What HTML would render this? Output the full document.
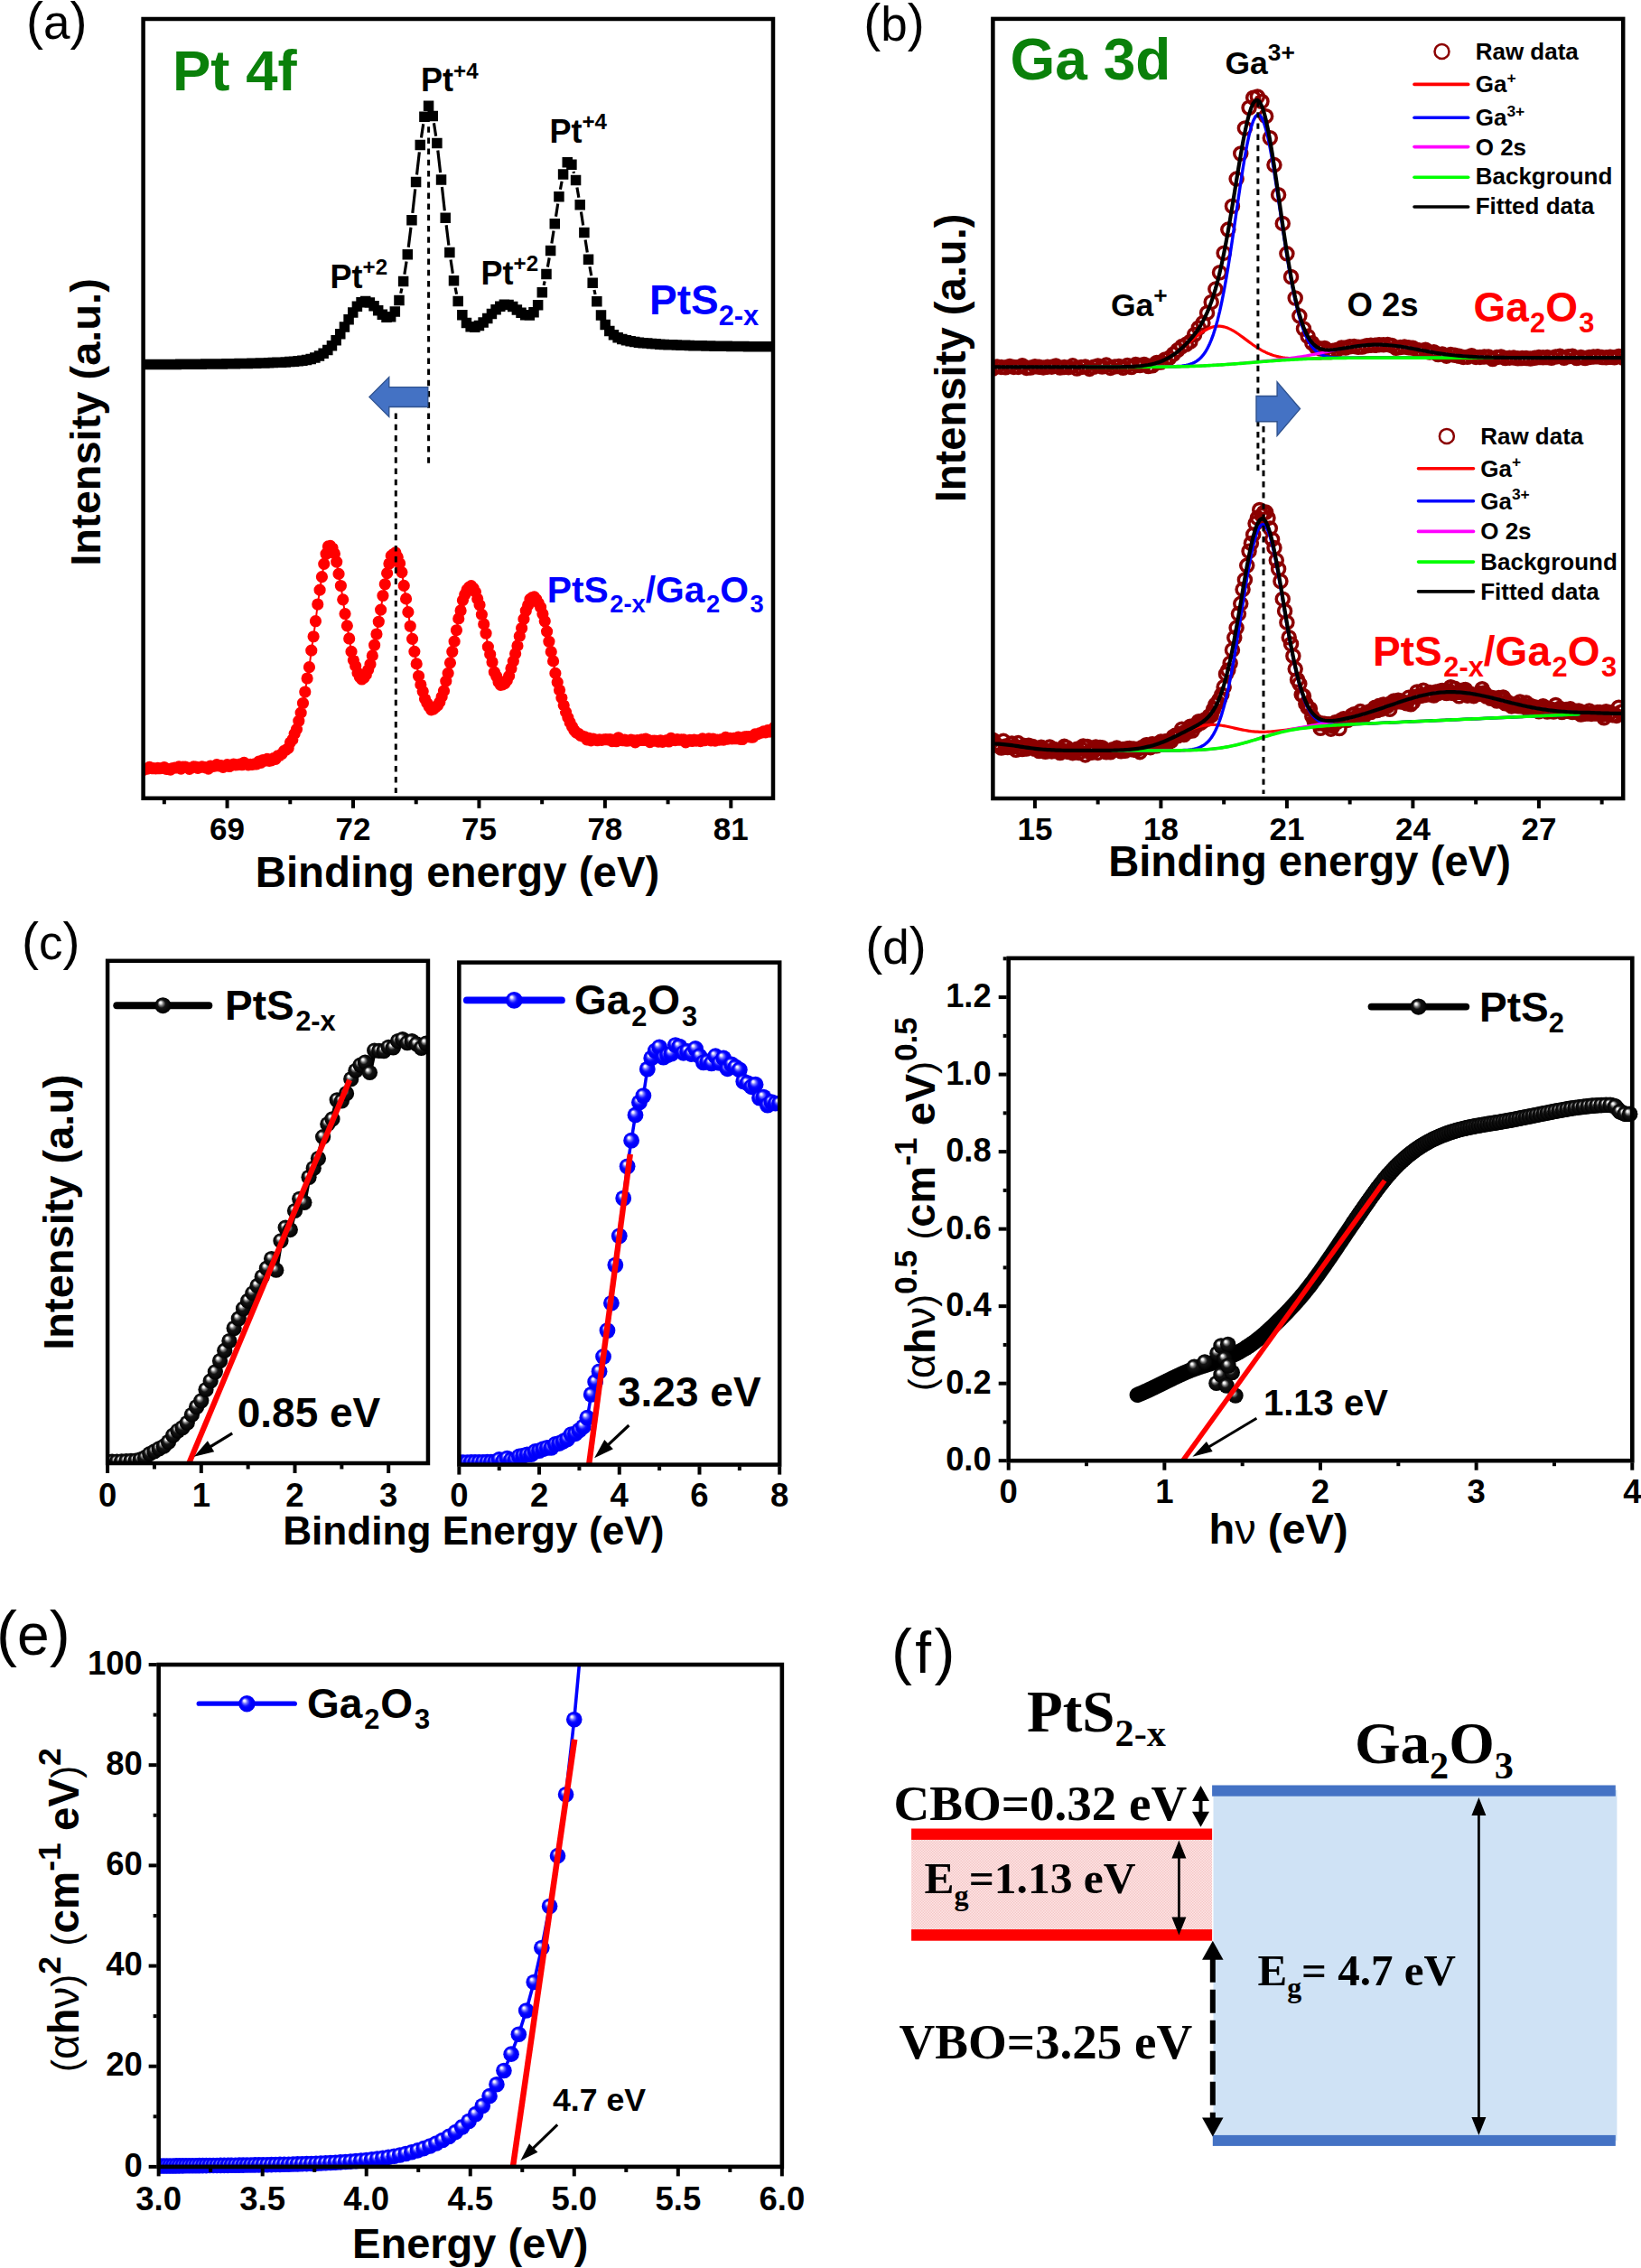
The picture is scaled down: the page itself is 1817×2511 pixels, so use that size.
<!DOCTYPE html>
<html lang="en"><head><meta charset="utf-8"><title>Figure</title>
<style>html,body{margin:0;padding:0;background:#fff;overflow:hidden}svg{display:block}</style></head>
<body>
<svg width="1817" height="2511" viewBox="0 0 1817 2511">
<defs><radialGradient id="sphK" cx="0.5" cy="0.5" r="0.5" fx="0.33" fy="0.30"><stop offset="0" stop-color="#fff"/><stop offset="0.13" stop-color="#f0f0f0"/><stop offset="0.3" stop-color="#7a7a7a"/><stop offset="0.5" stop-color="#141414"/><stop offset="1" stop-color="#000"/></radialGradient><radialGradient id="sphB" cx="0.5" cy="0.5" r="0.5" fx="0.33" fy="0.30"><stop offset="0" stop-color="#fff"/><stop offset="0.12" stop-color="#ececff"/><stop offset="0.3" stop-color="#7070ff"/><stop offset="0.5" stop-color="#1212ff"/><stop offset="0.65" stop-color="#0000ff"/><stop offset="1" stop-color="#0000f4"/></radialGradient><marker id="ah" viewBox="0 0 10 10" refX="9.5" refY="5" markerWidth="7" markerHeight="5" orient="auto" markerUnits="strokeWidth"><path d="M0 0L10 5L0 10z" fill="#000"/></marker></defs>
<g id="panel-a">
<clipPath id="clipA"><rect x="158.6" y="21.0" width="697.4" height="862.8"/></clipPath>
<g clip-path="url(#clipA)">
<path d="M443.71 324.75L444.89 319.41M447.86 303.7L450.06 289.58M452.26 273.73L454.97 251.77M456.82 235.88L459.73 209.35M461.5 193.45L464.35 168.34M466.44 152.48L468.73 137.28M480.45 136.29L482.66 150.65M484.8 166.51L487.63 191.07M489.42 206.97L492.32 233.37M494.16 249.26L496.89 271.68M499.04 287.53L501.33 302.78M504.11 318.53L505.57 325.71M602.1 315.98L603.17 311.31M606.38 295.64L608.21 285.35M610.86 269.57L613.05 255.54M615.51 239.73L617.71 225.55M620.42 209.78L622.11 200.78M634.98 189.89L635.49 191.81M638.92 207.43L640.87 218.79M643.42 234.58L645.69 249.61M648.11 265.42L650.3 279.44M652.95 295.22L654.78 305.34M657.96 321.02L659.08 325.98" stroke="#000" stroke-width="3.2" fill="none"/>
<path d="M152.14 397.87h11.5v11.5h-11.5zM156.8 397.84h11.5v11.5h-11.5zM161.46 397.82h11.5v11.5h-11.5zM166.12 397.8h11.5v11.5h-11.5zM170.77 397.77h11.5v11.5h-11.5zM175.43 397.74h11.5v11.5h-11.5zM180.09 397.71h11.5v11.5h-11.5zM184.74 397.68h11.5v11.5h-11.5zM189.4 397.65h11.5v11.5h-11.5zM194.06 397.61h11.5v11.5h-11.5zM198.71 397.58h11.5v11.5h-11.5zM203.37 397.54h11.5v11.5h-11.5zM208.03 397.5h11.5v11.5h-11.5zM212.69 397.45h11.5v11.5h-11.5zM217.34 397.41h11.5v11.5h-11.5zM222 397.36h11.5v11.5h-11.5zM226.66 397.31h11.5v11.5h-11.5zM231.31 397.25h11.5v11.5h-11.5zM235.97 397.19h11.5v11.5h-11.5zM240.63 397.13h11.5v11.5h-11.5zM245.28 397.06h11.5v11.5h-11.5zM249.94 396.99h11.5v11.5h-11.5zM254.6 396.91h11.5v11.5h-11.5zM259.26 396.83h11.5v11.5h-11.5zM263.91 396.73h11.5v11.5h-11.5zM268.57 396.63h11.5v11.5h-11.5zM273.23 396.52h11.5v11.5h-11.5zM277.88 396.41h11.5v11.5h-11.5zM282.54 396.28h11.5v11.5h-11.5zM287.2 396.13h11.5v11.5h-11.5zM291.85 395.98h11.5v11.5h-11.5zM296.51 395.8h11.5v11.5h-11.5zM301.17 395.61h11.5v11.5h-11.5zM305.83 395.39h11.5v11.5h-11.5zM310.48 395.14h11.5v11.5h-11.5zM315.14 394.85h11.5v11.5h-11.5zM319.8 394.5h11.5v11.5h-11.5zM324.45 394.06h11.5v11.5h-11.5zM329.11 393.51h11.5v11.5h-11.5zM333.77 392.76h11.5v11.5h-11.5zM338.42 391.73h11.5v11.5h-11.5zM343.08 390.29h11.5v11.5h-11.5zM347.74 388.29h11.5v11.5h-11.5zM352.4 385.53h11.5v11.5h-11.5zM357.05 381.83h11.5v11.5h-11.5zM361.71 377.05h11.5v11.5h-11.5zM366.37 371.11h11.5v11.5h-11.5zM371.02 364.09h11.5v11.5h-11.5zM375.68 356.25h11.5v11.5h-11.5zM380.34 348.03h11.5v11.5h-11.5zM384.99 340.15h11.5v11.5h-11.5zM389.65 333.51h11.5v11.5h-11.5zM394.31 329.11h11.5v11.5h-11.5zM398.97 327.65h11.5v11.5h-11.5zM403.62 329.19h11.5v11.5h-11.5zM408.28 333.01h11.5v11.5h-11.5zM412.94 337.92h11.5v11.5h-11.5zM417.59 342.54h11.5v11.5h-11.5zM422.25 345.42h11.5v11.5h-11.5zM426.91 344.94h11.5v11.5h-11.5zM431.56 339.34h11.5v11.5h-11.5zM436.22 326.81h11.5v11.5h-11.5zM440.88 305.85h11.5v11.5h-11.5zM445.54 275.92h11.5v11.5h-11.5zM450.19 238.08h11.5v11.5h-11.5zM454.85 195.65h11.5v11.5h-11.5zM459.51 154.64h11.5v11.5h-11.5zM464.16 123.62h11.5v11.5h-11.5zM468.82 111.57h11.5v11.5h-11.5zM473.48 122.64h11.5v11.5h-11.5zM478.13 152.81h11.5v11.5h-11.5zM482.79 193.26h11.5v11.5h-11.5zM487.45 235.57h11.5v11.5h-11.5zM492.11 273.87h11.5v11.5h-11.5zM496.76 304.94h11.5v11.5h-11.5zM501.42 327.8h11.5v11.5h-11.5zM506.08 342.98h11.5v11.5h-11.5zM510.73 351.84h11.5v11.5h-11.5zM515.39 355.91h11.5v11.5h-11.5zM520.05 356.53h11.5v11.5h-11.5zM524.7 354.71h11.5v11.5h-11.5zM529.36 351.24h11.5v11.5h-11.5zM534.02 346.72h11.5v11.5h-11.5zM538.68 341.78h11.5v11.5h-11.5zM543.33 337.09h11.5v11.5h-11.5zM547.99 333.42h11.5v11.5h-11.5zM552.65 331.5h11.5v11.5h-11.5zM557.3 331.71h11.5v11.5h-11.5zM561.96 333.83h11.5v11.5h-11.5zM566.62 337.13h11.5v11.5h-11.5zM571.27 340.58h11.5v11.5h-11.5zM575.93 343.04h11.5v11.5h-11.5zM580.59 343.29h11.5v11.5h-11.5zM585.25 340.02h11.5v11.5h-11.5zM589.9 331.95h11.5v11.5h-11.5zM594.56 318.02h11.5v11.5h-11.5zM599.22 297.76h11.5v11.5h-11.5zM603.87 271.73h11.5v11.5h-11.5zM608.53 241.88h11.5v11.5h-11.5zM613.19 211.89h11.5v11.5h-11.5zM617.84 187.16h11.5v11.5h-11.5zM622.5 173.93h11.5v11.5h-11.5zM627.16 176.41h11.5v11.5h-11.5zM631.82 193.79h11.5v11.5h-11.5zM636.47 220.92h11.5v11.5h-11.5zM641.13 251.77h11.5v11.5h-11.5zM645.79 281.6h11.5v11.5h-11.5zM650.44 307.47h11.5v11.5h-11.5zM655.1 328.03h11.5v11.5h-11.5zM659.76 343.2h11.5v11.5h-11.5zM664.41 353.72h11.5v11.5h-11.5zM669.07 360.65h11.5v11.5h-11.5zM673.73 365.08h11.5v11.5h-11.5zM678.39 367.91h11.5v11.5h-11.5zM683.04 369.77h11.5v11.5h-11.5zM687.7 371.06h11.5v11.5h-11.5zM692.36 372.02h11.5v11.5h-11.5zM697.01 372.77h11.5v11.5h-11.5zM701.67 373.38h11.5v11.5h-11.5zM706.33 373.91h11.5v11.5h-11.5zM710.98 374.35h11.5v11.5h-11.5zM715.64 374.74h11.5v11.5h-11.5zM720.3 375.08h11.5v11.5h-11.5zM724.96 375.38h11.5v11.5h-11.5zM729.61 375.65h11.5v11.5h-11.5zM734.27 375.88h11.5v11.5h-11.5zM738.93 376.1h11.5v11.5h-11.5zM743.58 376.29h11.5v11.5h-11.5zM748.24 376.46h11.5v11.5h-11.5zM752.9 376.61h11.5v11.5h-11.5zM757.55 376.75h11.5v11.5h-11.5zM762.21 376.88h11.5v11.5h-11.5zM766.87 377h11.5v11.5h-11.5zM771.53 377.11h11.5v11.5h-11.5zM776.18 377.21h11.5v11.5h-11.5zM780.84 377.3h11.5v11.5h-11.5zM785.5 377.38h11.5v11.5h-11.5zM790.15 377.46h11.5v11.5h-11.5zM794.81 377.53h11.5v11.5h-11.5zM799.47 377.6h11.5v11.5h-11.5zM804.12 377.66h11.5v11.5h-11.5zM808.78 377.72h11.5v11.5h-11.5zM813.44 377.78h11.5v11.5h-11.5zM818.1 377.83h11.5v11.5h-11.5zM822.75 377.88h11.5v11.5h-11.5zM827.41 377.92h11.5v11.5h-11.5zM832.07 377.97h11.5v11.5h-11.5zM836.72 378.01h11.5v11.5h-11.5zM841.38 378.05h11.5v11.5h-11.5zM846.04 378.08h11.5v11.5h-11.5zM850.69 378.12h11.5v11.5h-11.5z" fill="#000"/>
<polyline points="158.5,852.69 160.83,851.44 163.16,851.1 165.49,849.3 167.81,850.69 170.14,850.59 172.47,850.79 174.8,850.26 177.13,850.75 179.46,850.31 181.78,849.52 184.11,851.45 186.44,851.4 188.77,852.09 191.1,850.55 193.43,850.09 195.76,849.91 198.08,848.95 200.41,851.17 202.74,849.23 205.07,849.09 207.4,849.91 209.73,851.36 212.06,850.17 214.38,848.96 216.71,849.16 219.04,850.28 221.37,849.49 223.7,848.86 226.03,849.25 228.35,850.03 230.68,851.04 233.01,848.03 235.34,848.48 237.67,848.2 240,846.63 242.33,847.85 244.65,847.62 246.98,849.41 249.31,848.13 251.64,846.63 253.97,848.51 256.3,847.43 258.63,846 260.95,846.84 263.28,846.64 265.61,846.16 267.94,846.74 270.27,844.44 272.6,845.95 274.92,846.82 277.25,846.37 279.58,846.28 281.91,845.94 284.24,845.89 286.57,843.13 288.9,844.45 291.22,841.53 293.55,842.12 295.88,840.35 298.21,842.34 300.54,841.84 302.87,839.58 305.2,840.34 307.52,836.93 309.85,836.23 312.18,834.5 314.51,831.3 316.84,830.09 319.17,828.3 321.49,821.81 323.82,818.9 326.15,812.34 328.48,807.37 330.81,798.29 333.14,789.2 335.47,778.5 337.79,766.04 340.12,751.02 342.45,738.67 344.78,720.18 347.11,704.75 349.44,687.71 351.77,669.03 354.09,653.14 356.42,638.64 358.75,624.32 361.08,613.29 363.41,604.95 365.74,604.4 368.06,606.77 370.39,612.92 372.72,622.06 375.05,635.43 377.38,648.52 379.71,663.81 382.04,679.58 384.36,692.81 386.69,706.96 389.02,721.43 391.35,730.82 393.68,737.43 396.01,744.92 398.34,749.62 400.66,752 402.99,750.44 405.32,746.92 407.65,741.57 409.98,735.51 412.31,725.95 414.63,714.2 416.96,702.04 419.29,688.29 421.62,675.11 423.95,659.51 426.28,646.8 428.61,634.65 430.93,623.98 433.26,615.38 435.59,613.53 437.92,611.87 440.25,617.01 442.58,623.73 444.91,633.61 447.23,648.39 449.56,662.88 451.89,677.7 454.22,693.27 456.55,707.31 458.88,721.33 461.2,734.89 463.53,748.54 465.86,757.91 468.19,765.54 470.52,773.75 472.85,778.42 475.18,782.38 477.5,785.84 479.83,785.18 482.16,783.05 484.49,780.97 486.82,777.44 489.15,771.45 491.48,764.9 493.8,754.18 496.13,745.3 498.46,733.85 500.79,721.47 503.12,710.16 505.45,697.73 507.77,684.89 510.1,675.96 512.43,664.62 514.76,658.28 517.09,652.85 519.42,650.2 521.75,648.62 524.07,651.19 526.4,655.45 528.73,663 531.06,669.76 533.39,680.37 535.72,690.88 538.05,701.24 540.37,716.1 542.7,724.42 545.03,732.99 547.36,744.11 549.69,748.75 552.02,755.02 554.34,758.39 556.67,757.83 559,756.69 561.33,753.21 563.66,748.31 565.99,740.04 568.32,732.09 570.64,723.77 572.97,714.91 575.3,704.42 577.63,695.53 579.96,685.42 582.29,676.25 584.62,670 586.94,663.47 589.27,661.63 591.6,660.93 593.93,663.65 596.26,667.68 598.59,672.28 600.91,679.71 603.24,687.77 605.57,699.1 607.9,710.26 610.23,721.68 612.56,731.88 614.89,745.44 617.21,755.3 619.54,764 621.87,772.62 624.2,780.87 626.53,788.37 628.86,794.32 631.19,799.93 633.51,804.47 635.84,808.52 638.17,811.14 640.5,812.23 642.83,814.42 645.16,815.05 647.48,815.87 649.81,818.87 652.14,817.28 654.47,819.89 656.8,818.07 659.13,818.82 661.46,819.72 663.78,818.87 666.11,819.28 668.44,818.77 670.77,818.6 673.1,818.92 675.43,818.51 677.76,820.59 680.08,819 682.41,820.72 684.74,816.77 687.07,819.23 689.4,819.73 691.73,818.98 694.05,820.25 696.38,819.85 698.71,819.05 701.04,819.7 703.37,821.85 705.7,819.56 708.03,819.62 710.35,818.96 712.68,819.49 715.01,818.22 717.34,819.21 719.67,821.61 722,820.37 724.33,819.99 726.65,820.42 728.98,821.12 731.31,819.97 733.64,821.3 735.97,820.4 738.3,819.59 740.62,820.98 742.95,817.31 745.28,818.92 747.61,819.66 749.94,818.6 752.27,819.27 754.6,818.82 756.92,818.79 759.25,821.81 761.58,819.91 763.91,819.28 766.24,820.48 768.57,819.06 770.9,820.04 773.22,819.52 775.55,820.63 777.88,817.84 780.21,819.76 782.54,819.12 784.87,817.91 787.19,819.84 789.52,818.02 791.85,820.17 794.18,819.08 796.51,819.14 798.84,818.48 801.17,819.09 803.49,816.46 805.82,818.05 808.15,817.25 810.48,817.89 812.81,817.39 815.14,817.76 817.47,816.21 819.79,818.35 822.12,818.48 824.45,815.89 826.78,815.71 829.11,815.59 831.44,816.05 833.76,816.15 836.09,812.85 838.42,812.82 840.75,811.8 843.08,811.08 845.41,809.87 847.74,810.87 850.06,808.62 852.39,810.05 854.72,808.45 857.05,805.55" fill="none" stroke="#ff0000" stroke-width="2" stroke-linejoin="round" stroke-linecap="round" />
<path d="M151.9 852.69a6.6 6.6 0 1 0 13.2 0a6.6 6.6 0 1 0 -13.2 0zM154.23 851.44a6.6 6.6 0 1 0 13.2 0a6.6 6.6 0 1 0 -13.2 0zM156.56 851.1a6.6 6.6 0 1 0 13.2 0a6.6 6.6 0 1 0 -13.2 0zM158.89 849.3a6.6 6.6 0 1 0 13.2 0a6.6 6.6 0 1 0 -13.2 0zM161.21 850.69a6.6 6.6 0 1 0 13.2 0a6.6 6.6 0 1 0 -13.2 0zM163.54 850.59a6.6 6.6 0 1 0 13.2 0a6.6 6.6 0 1 0 -13.2 0zM165.87 850.79a6.6 6.6 0 1 0 13.2 0a6.6 6.6 0 1 0 -13.2 0zM168.2 850.26a6.6 6.6 0 1 0 13.2 0a6.6 6.6 0 1 0 -13.2 0zM170.53 850.75a6.6 6.6 0 1 0 13.2 0a6.6 6.6 0 1 0 -13.2 0zM172.86 850.31a6.6 6.6 0 1 0 13.2 0a6.6 6.6 0 1 0 -13.2 0zM175.18 849.52a6.6 6.6 0 1 0 13.2 0a6.6 6.6 0 1 0 -13.2 0zM177.51 851.45a6.6 6.6 0 1 0 13.2 0a6.6 6.6 0 1 0 -13.2 0zM179.84 851.4a6.6 6.6 0 1 0 13.2 0a6.6 6.6 0 1 0 -13.2 0zM182.17 852.09a6.6 6.6 0 1 0 13.2 0a6.6 6.6 0 1 0 -13.2 0zM184.5 850.55a6.6 6.6 0 1 0 13.2 0a6.6 6.6 0 1 0 -13.2 0zM186.83 850.09a6.6 6.6 0 1 0 13.2 0a6.6 6.6 0 1 0 -13.2 0zM189.16 849.91a6.6 6.6 0 1 0 13.2 0a6.6 6.6 0 1 0 -13.2 0zM191.48 848.95a6.6 6.6 0 1 0 13.2 0a6.6 6.6 0 1 0 -13.2 0zM193.81 851.17a6.6 6.6 0 1 0 13.2 0a6.6 6.6 0 1 0 -13.2 0zM196.14 849.23a6.6 6.6 0 1 0 13.2 0a6.6 6.6 0 1 0 -13.2 0zM198.47 849.09a6.6 6.6 0 1 0 13.2 0a6.6 6.6 0 1 0 -13.2 0zM200.8 849.91a6.6 6.6 0 1 0 13.2 0a6.6 6.6 0 1 0 -13.2 0zM203.13 851.36a6.6 6.6 0 1 0 13.2 0a6.6 6.6 0 1 0 -13.2 0zM205.46 850.17a6.6 6.6 0 1 0 13.2 0a6.6 6.6 0 1 0 -13.2 0zM207.78 848.96a6.6 6.6 0 1 0 13.2 0a6.6 6.6 0 1 0 -13.2 0zM210.11 849.16a6.6 6.6 0 1 0 13.2 0a6.6 6.6 0 1 0 -13.2 0zM212.44 850.28a6.6 6.6 0 1 0 13.2 0a6.6 6.6 0 1 0 -13.2 0zM214.77 849.49a6.6 6.6 0 1 0 13.2 0a6.6 6.6 0 1 0 -13.2 0zM217.1 848.86a6.6 6.6 0 1 0 13.2 0a6.6 6.6 0 1 0 -13.2 0zM219.43 849.25a6.6 6.6 0 1 0 13.2 0a6.6 6.6 0 1 0 -13.2 0zM221.75 850.03a6.6 6.6 0 1 0 13.2 0a6.6 6.6 0 1 0 -13.2 0zM224.08 851.04a6.6 6.6 0 1 0 13.2 0a6.6 6.6 0 1 0 -13.2 0zM226.41 848.03a6.6 6.6 0 1 0 13.2 0a6.6 6.6 0 1 0 -13.2 0zM228.74 848.48a6.6 6.6 0 1 0 13.2 0a6.6 6.6 0 1 0 -13.2 0zM231.07 848.2a6.6 6.6 0 1 0 13.2 0a6.6 6.6 0 1 0 -13.2 0zM233.4 846.63a6.6 6.6 0 1 0 13.2 0a6.6 6.6 0 1 0 -13.2 0zM235.73 847.85a6.6 6.6 0 1 0 13.2 0a6.6 6.6 0 1 0 -13.2 0zM238.05 847.62a6.6 6.6 0 1 0 13.2 0a6.6 6.6 0 1 0 -13.2 0zM240.38 849.41a6.6 6.6 0 1 0 13.2 0a6.6 6.6 0 1 0 -13.2 0zM242.71 848.13a6.6 6.6 0 1 0 13.2 0a6.6 6.6 0 1 0 -13.2 0zM245.04 846.63a6.6 6.6 0 1 0 13.2 0a6.6 6.6 0 1 0 -13.2 0zM247.37 848.51a6.6 6.6 0 1 0 13.2 0a6.6 6.6 0 1 0 -13.2 0zM249.7 847.43a6.6 6.6 0 1 0 13.2 0a6.6 6.6 0 1 0 -13.2 0zM252.03 846a6.6 6.6 0 1 0 13.2 0a6.6 6.6 0 1 0 -13.2 0zM254.35 846.84a6.6 6.6 0 1 0 13.2 0a6.6 6.6 0 1 0 -13.2 0zM256.68 846.64a6.6 6.6 0 1 0 13.2 0a6.6 6.6 0 1 0 -13.2 0zM259.01 846.16a6.6 6.6 0 1 0 13.2 0a6.6 6.6 0 1 0 -13.2 0zM261.34 846.74a6.6 6.6 0 1 0 13.2 0a6.6 6.6 0 1 0 -13.2 0zM263.67 844.44a6.6 6.6 0 1 0 13.2 0a6.6 6.6 0 1 0 -13.2 0zM266 845.95a6.6 6.6 0 1 0 13.2 0a6.6 6.6 0 1 0 -13.2 0zM268.32 846.82a6.6 6.6 0 1 0 13.2 0a6.6 6.6 0 1 0 -13.2 0zM270.65 846.37a6.6 6.6 0 1 0 13.2 0a6.6 6.6 0 1 0 -13.2 0zM272.98 846.28a6.6 6.6 0 1 0 13.2 0a6.6 6.6 0 1 0 -13.2 0zM275.31 845.94a6.6 6.6 0 1 0 13.2 0a6.6 6.6 0 1 0 -13.2 0zM277.64 845.89a6.6 6.6 0 1 0 13.2 0a6.6 6.6 0 1 0 -13.2 0zM279.97 843.13a6.6 6.6 0 1 0 13.2 0a6.6 6.6 0 1 0 -13.2 0zM282.3 844.45a6.6 6.6 0 1 0 13.2 0a6.6 6.6 0 1 0 -13.2 0zM284.62 841.53a6.6 6.6 0 1 0 13.2 0a6.6 6.6 0 1 0 -13.2 0zM286.95 842.12a6.6 6.6 0 1 0 13.2 0a6.6 6.6 0 1 0 -13.2 0zM289.28 840.35a6.6 6.6 0 1 0 13.2 0a6.6 6.6 0 1 0 -13.2 0zM291.61 842.34a6.6 6.6 0 1 0 13.2 0a6.6 6.6 0 1 0 -13.2 0zM293.94 841.84a6.6 6.6 0 1 0 13.2 0a6.6 6.6 0 1 0 -13.2 0zM296.27 839.58a6.6 6.6 0 1 0 13.2 0a6.6 6.6 0 1 0 -13.2 0zM298.6 840.34a6.6 6.6 0 1 0 13.2 0a6.6 6.6 0 1 0 -13.2 0zM300.92 836.93a6.6 6.6 0 1 0 13.2 0a6.6 6.6 0 1 0 -13.2 0zM303.25 836.23a6.6 6.6 0 1 0 13.2 0a6.6 6.6 0 1 0 -13.2 0zM305.58 834.5a6.6 6.6 0 1 0 13.2 0a6.6 6.6 0 1 0 -13.2 0zM307.91 831.3a6.6 6.6 0 1 0 13.2 0a6.6 6.6 0 1 0 -13.2 0zM310.24 830.09a6.6 6.6 0 1 0 13.2 0a6.6 6.6 0 1 0 -13.2 0zM312.57 828.3a6.6 6.6 0 1 0 13.2 0a6.6 6.6 0 1 0 -13.2 0zM314.89 821.81a6.6 6.6 0 1 0 13.2 0a6.6 6.6 0 1 0 -13.2 0zM317.22 818.9a6.6 6.6 0 1 0 13.2 0a6.6 6.6 0 1 0 -13.2 0zM319.55 812.34a6.6 6.6 0 1 0 13.2 0a6.6 6.6 0 1 0 -13.2 0zM321.88 807.37a6.6 6.6 0 1 0 13.2 0a6.6 6.6 0 1 0 -13.2 0zM324.21 798.29a6.6 6.6 0 1 0 13.2 0a6.6 6.6 0 1 0 -13.2 0zM326.54 789.2a6.6 6.6 0 1 0 13.2 0a6.6 6.6 0 1 0 -13.2 0zM328.87 778.5a6.6 6.6 0 1 0 13.2 0a6.6 6.6 0 1 0 -13.2 0zM331.19 766.04a6.6 6.6 0 1 0 13.2 0a6.6 6.6 0 1 0 -13.2 0zM333.52 751.02a6.6 6.6 0 1 0 13.2 0a6.6 6.6 0 1 0 -13.2 0zM335.85 738.67a6.6 6.6 0 1 0 13.2 0a6.6 6.6 0 1 0 -13.2 0zM338.18 720.18a6.6 6.6 0 1 0 13.2 0a6.6 6.6 0 1 0 -13.2 0zM340.51 704.75a6.6 6.6 0 1 0 13.2 0a6.6 6.6 0 1 0 -13.2 0zM342.84 687.71a6.6 6.6 0 1 0 13.2 0a6.6 6.6 0 1 0 -13.2 0zM345.17 669.03a6.6 6.6 0 1 0 13.2 0a6.6 6.6 0 1 0 -13.2 0zM347.49 653.14a6.6 6.6 0 1 0 13.2 0a6.6 6.6 0 1 0 -13.2 0zM349.82 638.64a6.6 6.6 0 1 0 13.2 0a6.6 6.6 0 1 0 -13.2 0zM352.15 624.32a6.6 6.6 0 1 0 13.2 0a6.6 6.6 0 1 0 -13.2 0zM354.48 613.29a6.6 6.6 0 1 0 13.2 0a6.6 6.6 0 1 0 -13.2 0zM356.81 604.95a6.6 6.6 0 1 0 13.2 0a6.6 6.6 0 1 0 -13.2 0zM359.14 604.4a6.6 6.6 0 1 0 13.2 0a6.6 6.6 0 1 0 -13.2 0zM361.46 606.77a6.6 6.6 0 1 0 13.2 0a6.6 6.6 0 1 0 -13.2 0zM363.79 612.92a6.6 6.6 0 1 0 13.2 0a6.6 6.6 0 1 0 -13.2 0zM366.12 622.06a6.6 6.6 0 1 0 13.2 0a6.6 6.6 0 1 0 -13.2 0zM368.45 635.43a6.6 6.6 0 1 0 13.2 0a6.6 6.6 0 1 0 -13.2 0zM370.78 648.52a6.6 6.6 0 1 0 13.2 0a6.6 6.6 0 1 0 -13.2 0zM373.11 663.81a6.6 6.6 0 1 0 13.2 0a6.6 6.6 0 1 0 -13.2 0zM375.44 679.58a6.6 6.6 0 1 0 13.2 0a6.6 6.6 0 1 0 -13.2 0zM377.76 692.81a6.6 6.6 0 1 0 13.2 0a6.6 6.6 0 1 0 -13.2 0zM380.09 706.96a6.6 6.6 0 1 0 13.2 0a6.6 6.6 0 1 0 -13.2 0zM382.42 721.43a6.6 6.6 0 1 0 13.2 0a6.6 6.6 0 1 0 -13.2 0zM384.75 730.82a6.6 6.6 0 1 0 13.2 0a6.6 6.6 0 1 0 -13.2 0zM387.08 737.43a6.6 6.6 0 1 0 13.2 0a6.6 6.6 0 1 0 -13.2 0zM389.41 744.92a6.6 6.6 0 1 0 13.2 0a6.6 6.6 0 1 0 -13.2 0zM391.74 749.62a6.6 6.6 0 1 0 13.2 0a6.6 6.6 0 1 0 -13.2 0zM394.06 752a6.6 6.6 0 1 0 13.2 0a6.6 6.6 0 1 0 -13.2 0zM396.39 750.44a6.6 6.6 0 1 0 13.2 0a6.6 6.6 0 1 0 -13.2 0zM398.72 746.92a6.6 6.6 0 1 0 13.2 0a6.6 6.6 0 1 0 -13.2 0zM401.05 741.57a6.6 6.6 0 1 0 13.2 0a6.6 6.6 0 1 0 -13.2 0zM403.38 735.51a6.6 6.6 0 1 0 13.2 0a6.6 6.6 0 1 0 -13.2 0zM405.71 725.95a6.6 6.6 0 1 0 13.2 0a6.6 6.6 0 1 0 -13.2 0zM408.03 714.2a6.6 6.6 0 1 0 13.2 0a6.6 6.6 0 1 0 -13.2 0zM410.36 702.04a6.6 6.6 0 1 0 13.2 0a6.6 6.6 0 1 0 -13.2 0zM412.69 688.29a6.6 6.6 0 1 0 13.2 0a6.6 6.6 0 1 0 -13.2 0zM415.02 675.11a6.6 6.6 0 1 0 13.2 0a6.6 6.6 0 1 0 -13.2 0zM417.35 659.51a6.6 6.6 0 1 0 13.2 0a6.6 6.6 0 1 0 -13.2 0zM419.68 646.8a6.6 6.6 0 1 0 13.2 0a6.6 6.6 0 1 0 -13.2 0zM422.01 634.65a6.6 6.6 0 1 0 13.2 0a6.6 6.6 0 1 0 -13.2 0zM424.33 623.98a6.6 6.6 0 1 0 13.2 0a6.6 6.6 0 1 0 -13.2 0zM426.66 615.38a6.6 6.6 0 1 0 13.2 0a6.6 6.6 0 1 0 -13.2 0zM428.99 613.53a6.6 6.6 0 1 0 13.2 0a6.6 6.6 0 1 0 -13.2 0zM431.32 611.87a6.6 6.6 0 1 0 13.2 0a6.6 6.6 0 1 0 -13.2 0zM433.65 617.01a6.6 6.6 0 1 0 13.2 0a6.6 6.6 0 1 0 -13.2 0zM435.98 623.73a6.6 6.6 0 1 0 13.2 0a6.6 6.6 0 1 0 -13.2 0zM438.31 633.61a6.6 6.6 0 1 0 13.2 0a6.6 6.6 0 1 0 -13.2 0zM440.63 648.39a6.6 6.6 0 1 0 13.2 0a6.6 6.6 0 1 0 -13.2 0zM442.96 662.88a6.6 6.6 0 1 0 13.2 0a6.6 6.6 0 1 0 -13.2 0zM445.29 677.7a6.6 6.6 0 1 0 13.2 0a6.6 6.6 0 1 0 -13.2 0zM447.62 693.27a6.6 6.6 0 1 0 13.2 0a6.6 6.6 0 1 0 -13.2 0zM449.95 707.31a6.6 6.6 0 1 0 13.2 0a6.6 6.6 0 1 0 -13.2 0zM452.28 721.33a6.6 6.6 0 1 0 13.2 0a6.6 6.6 0 1 0 -13.2 0zM454.6 734.89a6.6 6.6 0 1 0 13.2 0a6.6 6.6 0 1 0 -13.2 0zM456.93 748.54a6.6 6.6 0 1 0 13.2 0a6.6 6.6 0 1 0 -13.2 0zM459.26 757.91a6.6 6.6 0 1 0 13.2 0a6.6 6.6 0 1 0 -13.2 0zM461.59 765.54a6.6 6.6 0 1 0 13.2 0a6.6 6.6 0 1 0 -13.2 0zM463.92 773.75a6.6 6.6 0 1 0 13.2 0a6.6 6.6 0 1 0 -13.2 0zM466.25 778.42a6.6 6.6 0 1 0 13.2 0a6.6 6.6 0 1 0 -13.2 0zM468.58 782.38a6.6 6.6 0 1 0 13.2 0a6.6 6.6 0 1 0 -13.2 0zM470.9 785.84a6.6 6.6 0 1 0 13.2 0a6.6 6.6 0 1 0 -13.2 0zM473.23 785.18a6.6 6.6 0 1 0 13.2 0a6.6 6.6 0 1 0 -13.2 0zM475.56 783.05a6.6 6.6 0 1 0 13.2 0a6.6 6.6 0 1 0 -13.2 0zM477.89 780.97a6.6 6.6 0 1 0 13.2 0a6.6 6.6 0 1 0 -13.2 0zM480.22 777.44a6.6 6.6 0 1 0 13.2 0a6.6 6.6 0 1 0 -13.2 0zM482.55 771.45a6.6 6.6 0 1 0 13.2 0a6.6 6.6 0 1 0 -13.2 0zM484.88 764.9a6.6 6.6 0 1 0 13.2 0a6.6 6.6 0 1 0 -13.2 0zM487.2 754.18a6.6 6.6 0 1 0 13.2 0a6.6 6.6 0 1 0 -13.2 0zM489.53 745.3a6.6 6.6 0 1 0 13.2 0a6.6 6.6 0 1 0 -13.2 0zM491.86 733.85a6.6 6.6 0 1 0 13.2 0a6.6 6.6 0 1 0 -13.2 0zM494.19 721.47a6.6 6.6 0 1 0 13.2 0a6.6 6.6 0 1 0 -13.2 0zM496.52 710.16a6.6 6.6 0 1 0 13.2 0a6.6 6.6 0 1 0 -13.2 0zM498.85 697.73a6.6 6.6 0 1 0 13.2 0a6.6 6.6 0 1 0 -13.2 0zM501.17 684.89a6.6 6.6 0 1 0 13.2 0a6.6 6.6 0 1 0 -13.2 0zM503.5 675.96a6.6 6.6 0 1 0 13.2 0a6.6 6.6 0 1 0 -13.2 0zM505.83 664.62a6.6 6.6 0 1 0 13.2 0a6.6 6.6 0 1 0 -13.2 0zM508.16 658.28a6.6 6.6 0 1 0 13.2 0a6.6 6.6 0 1 0 -13.2 0zM510.49 652.85a6.6 6.6 0 1 0 13.2 0a6.6 6.6 0 1 0 -13.2 0zM512.82 650.2a6.6 6.6 0 1 0 13.2 0a6.6 6.6 0 1 0 -13.2 0zM515.15 648.62a6.6 6.6 0 1 0 13.2 0a6.6 6.6 0 1 0 -13.2 0zM517.47 651.19a6.6 6.6 0 1 0 13.2 0a6.6 6.6 0 1 0 -13.2 0zM519.8 655.45a6.6 6.6 0 1 0 13.2 0a6.6 6.6 0 1 0 -13.2 0zM522.13 663a6.6 6.6 0 1 0 13.2 0a6.6 6.6 0 1 0 -13.2 0zM524.46 669.76a6.6 6.6 0 1 0 13.2 0a6.6 6.6 0 1 0 -13.2 0zM526.79 680.37a6.6 6.6 0 1 0 13.2 0a6.6 6.6 0 1 0 -13.2 0zM529.12 690.88a6.6 6.6 0 1 0 13.2 0a6.6 6.6 0 1 0 -13.2 0zM531.45 701.24a6.6 6.6 0 1 0 13.2 0a6.6 6.6 0 1 0 -13.2 0zM533.77 716.1a6.6 6.6 0 1 0 13.2 0a6.6 6.6 0 1 0 -13.2 0zM536.1 724.42a6.6 6.6 0 1 0 13.2 0a6.6 6.6 0 1 0 -13.2 0zM538.43 732.99a6.6 6.6 0 1 0 13.2 0a6.6 6.6 0 1 0 -13.2 0zM540.76 744.11a6.6 6.6 0 1 0 13.2 0a6.6 6.6 0 1 0 -13.2 0zM543.09 748.75a6.6 6.6 0 1 0 13.2 0a6.6 6.6 0 1 0 -13.2 0zM545.42 755.02a6.6 6.6 0 1 0 13.2 0a6.6 6.6 0 1 0 -13.2 0zM547.74 758.39a6.6 6.6 0 1 0 13.2 0a6.6 6.6 0 1 0 -13.2 0zM550.07 757.83a6.6 6.6 0 1 0 13.2 0a6.6 6.6 0 1 0 -13.2 0zM552.4 756.69a6.6 6.6 0 1 0 13.2 0a6.6 6.6 0 1 0 -13.2 0zM554.73 753.21a6.6 6.6 0 1 0 13.2 0a6.6 6.6 0 1 0 -13.2 0zM557.06 748.31a6.6 6.6 0 1 0 13.2 0a6.6 6.6 0 1 0 -13.2 0zM559.39 740.04a6.6 6.6 0 1 0 13.2 0a6.6 6.6 0 1 0 -13.2 0zM561.72 732.09a6.6 6.6 0 1 0 13.2 0a6.6 6.6 0 1 0 -13.2 0zM564.04 723.77a6.6 6.6 0 1 0 13.2 0a6.6 6.6 0 1 0 -13.2 0zM566.37 714.91a6.6 6.6 0 1 0 13.2 0a6.6 6.6 0 1 0 -13.2 0zM568.7 704.42a6.6 6.6 0 1 0 13.2 0a6.6 6.6 0 1 0 -13.2 0zM571.03 695.53a6.6 6.6 0 1 0 13.2 0a6.6 6.6 0 1 0 -13.2 0zM573.36 685.42a6.6 6.6 0 1 0 13.2 0a6.6 6.6 0 1 0 -13.2 0zM575.69 676.25a6.6 6.6 0 1 0 13.2 0a6.6 6.6 0 1 0 -13.2 0zM578.02 670a6.6 6.6 0 1 0 13.2 0a6.6 6.6 0 1 0 -13.2 0zM580.34 663.47a6.6 6.6 0 1 0 13.2 0a6.6 6.6 0 1 0 -13.2 0zM582.67 661.63a6.6 6.6 0 1 0 13.2 0a6.6 6.6 0 1 0 -13.2 0zM585 660.93a6.6 6.6 0 1 0 13.2 0a6.6 6.6 0 1 0 -13.2 0zM587.33 663.65a6.6 6.6 0 1 0 13.2 0a6.6 6.6 0 1 0 -13.2 0zM589.66 667.68a6.6 6.6 0 1 0 13.2 0a6.6 6.6 0 1 0 -13.2 0zM591.99 672.28a6.6 6.6 0 1 0 13.2 0a6.6 6.6 0 1 0 -13.2 0zM594.31 679.71a6.6 6.6 0 1 0 13.2 0a6.6 6.6 0 1 0 -13.2 0zM596.64 687.77a6.6 6.6 0 1 0 13.2 0a6.6 6.6 0 1 0 -13.2 0zM598.97 699.1a6.6 6.6 0 1 0 13.2 0a6.6 6.6 0 1 0 -13.2 0zM601.3 710.26a6.6 6.6 0 1 0 13.2 0a6.6 6.6 0 1 0 -13.2 0zM603.63 721.68a6.6 6.6 0 1 0 13.2 0a6.6 6.6 0 1 0 -13.2 0zM605.96 731.88a6.6 6.6 0 1 0 13.2 0a6.6 6.6 0 1 0 -13.2 0zM608.29 745.44a6.6 6.6 0 1 0 13.2 0a6.6 6.6 0 1 0 -13.2 0zM610.61 755.3a6.6 6.6 0 1 0 13.2 0a6.6 6.6 0 1 0 -13.2 0zM612.94 764a6.6 6.6 0 1 0 13.2 0a6.6 6.6 0 1 0 -13.2 0zM615.27 772.62a6.6 6.6 0 1 0 13.2 0a6.6 6.6 0 1 0 -13.2 0zM617.6 780.87a6.6 6.6 0 1 0 13.2 0a6.6 6.6 0 1 0 -13.2 0zM619.93 788.37a6.6 6.6 0 1 0 13.2 0a6.6 6.6 0 1 0 -13.2 0zM622.26 794.32a6.6 6.6 0 1 0 13.2 0a6.6 6.6 0 1 0 -13.2 0zM624.59 799.93a6.6 6.6 0 1 0 13.2 0a6.6 6.6 0 1 0 -13.2 0zM626.91 804.47a6.6 6.6 0 1 0 13.2 0a6.6 6.6 0 1 0 -13.2 0zM629.24 808.52a6.6 6.6 0 1 0 13.2 0a6.6 6.6 0 1 0 -13.2 0zM631.57 811.14a6.6 6.6 0 1 0 13.2 0a6.6 6.6 0 1 0 -13.2 0zM633.9 812.23a6.6 6.6 0 1 0 13.2 0a6.6 6.6 0 1 0 -13.2 0zM636.23 814.42a6.6 6.6 0 1 0 13.2 0a6.6 6.6 0 1 0 -13.2 0zM638.56 815.05a6.6 6.6 0 1 0 13.2 0a6.6 6.6 0 1 0 -13.2 0zM640.88 815.87a6.6 6.6 0 1 0 13.2 0a6.6 6.6 0 1 0 -13.2 0zM643.21 818.87a6.6 6.6 0 1 0 13.2 0a6.6 6.6 0 1 0 -13.2 0zM645.54 817.28a6.6 6.6 0 1 0 13.2 0a6.6 6.6 0 1 0 -13.2 0zM647.87 819.89a6.6 6.6 0 1 0 13.2 0a6.6 6.6 0 1 0 -13.2 0zM650.2 818.07a6.6 6.6 0 1 0 13.2 0a6.6 6.6 0 1 0 -13.2 0zM652.53 818.82a6.6 6.6 0 1 0 13.2 0a6.6 6.6 0 1 0 -13.2 0zM654.86 819.72a6.6 6.6 0 1 0 13.2 0a6.6 6.6 0 1 0 -13.2 0zM657.18 818.87a6.6 6.6 0 1 0 13.2 0a6.6 6.6 0 1 0 -13.2 0zM659.51 819.28a6.6 6.6 0 1 0 13.2 0a6.6 6.6 0 1 0 -13.2 0zM661.84 818.77a6.6 6.6 0 1 0 13.2 0a6.6 6.6 0 1 0 -13.2 0zM664.17 818.6a6.6 6.6 0 1 0 13.2 0a6.6 6.6 0 1 0 -13.2 0zM666.5 818.92a6.6 6.6 0 1 0 13.2 0a6.6 6.6 0 1 0 -13.2 0zM668.83 818.51a6.6 6.6 0 1 0 13.2 0a6.6 6.6 0 1 0 -13.2 0zM671.16 820.59a6.6 6.6 0 1 0 13.2 0a6.6 6.6 0 1 0 -13.2 0zM673.48 819a6.6 6.6 0 1 0 13.2 0a6.6 6.6 0 1 0 -13.2 0zM675.81 820.72a6.6 6.6 0 1 0 13.2 0a6.6 6.6 0 1 0 -13.2 0zM678.14 816.77a6.6 6.6 0 1 0 13.2 0a6.6 6.6 0 1 0 -13.2 0zM680.47 819.23a6.6 6.6 0 1 0 13.2 0a6.6 6.6 0 1 0 -13.2 0zM682.8 819.73a6.6 6.6 0 1 0 13.2 0a6.6 6.6 0 1 0 -13.2 0zM685.13 818.98a6.6 6.6 0 1 0 13.2 0a6.6 6.6 0 1 0 -13.2 0zM687.45 820.25a6.6 6.6 0 1 0 13.2 0a6.6 6.6 0 1 0 -13.2 0zM689.78 819.85a6.6 6.6 0 1 0 13.2 0a6.6 6.6 0 1 0 -13.2 0zM692.11 819.05a6.6 6.6 0 1 0 13.2 0a6.6 6.6 0 1 0 -13.2 0zM694.44 819.7a6.6 6.6 0 1 0 13.2 0a6.6 6.6 0 1 0 -13.2 0zM696.77 821.85a6.6 6.6 0 1 0 13.2 0a6.6 6.6 0 1 0 -13.2 0zM699.1 819.56a6.6 6.6 0 1 0 13.2 0a6.6 6.6 0 1 0 -13.2 0zM701.43 819.62a6.6 6.6 0 1 0 13.2 0a6.6 6.6 0 1 0 -13.2 0zM703.75 818.96a6.6 6.6 0 1 0 13.2 0a6.6 6.6 0 1 0 -13.2 0zM706.08 819.49a6.6 6.6 0 1 0 13.2 0a6.6 6.6 0 1 0 -13.2 0zM708.41 818.22a6.6 6.6 0 1 0 13.2 0a6.6 6.6 0 1 0 -13.2 0zM710.74 819.21a6.6 6.6 0 1 0 13.2 0a6.6 6.6 0 1 0 -13.2 0zM713.07 821.61a6.6 6.6 0 1 0 13.2 0a6.6 6.6 0 1 0 -13.2 0zM715.4 820.37a6.6 6.6 0 1 0 13.2 0a6.6 6.6 0 1 0 -13.2 0zM717.73 819.99a6.6 6.6 0 1 0 13.2 0a6.6 6.6 0 1 0 -13.2 0zM720.05 820.42a6.6 6.6 0 1 0 13.2 0a6.6 6.6 0 1 0 -13.2 0zM722.38 821.12a6.6 6.6 0 1 0 13.2 0a6.6 6.6 0 1 0 -13.2 0zM724.71 819.97a6.6 6.6 0 1 0 13.2 0a6.6 6.6 0 1 0 -13.2 0zM727.04 821.3a6.6 6.6 0 1 0 13.2 0a6.6 6.6 0 1 0 -13.2 0zM729.37 820.4a6.6 6.6 0 1 0 13.2 0a6.6 6.6 0 1 0 -13.2 0zM731.7 819.59a6.6 6.6 0 1 0 13.2 0a6.6 6.6 0 1 0 -13.2 0zM734.02 820.98a6.6 6.6 0 1 0 13.2 0a6.6 6.6 0 1 0 -13.2 0zM736.35 817.31a6.6 6.6 0 1 0 13.2 0a6.6 6.6 0 1 0 -13.2 0zM738.68 818.92a6.6 6.6 0 1 0 13.2 0a6.6 6.6 0 1 0 -13.2 0zM741.01 819.66a6.6 6.6 0 1 0 13.2 0a6.6 6.6 0 1 0 -13.2 0zM743.34 818.6a6.6 6.6 0 1 0 13.2 0a6.6 6.6 0 1 0 -13.2 0zM745.67 819.27a6.6 6.6 0 1 0 13.2 0a6.6 6.6 0 1 0 -13.2 0zM748 818.82a6.6 6.6 0 1 0 13.2 0a6.6 6.6 0 1 0 -13.2 0zM750.32 818.79a6.6 6.6 0 1 0 13.2 0a6.6 6.6 0 1 0 -13.2 0zM752.65 821.81a6.6 6.6 0 1 0 13.2 0a6.6 6.6 0 1 0 -13.2 0zM754.98 819.91a6.6 6.6 0 1 0 13.2 0a6.6 6.6 0 1 0 -13.2 0zM757.31 819.28a6.6 6.6 0 1 0 13.2 0a6.6 6.6 0 1 0 -13.2 0zM759.64 820.48a6.6 6.6 0 1 0 13.2 0a6.6 6.6 0 1 0 -13.2 0zM761.97 819.06a6.6 6.6 0 1 0 13.2 0a6.6 6.6 0 1 0 -13.2 0zM764.3 820.04a6.6 6.6 0 1 0 13.2 0a6.6 6.6 0 1 0 -13.2 0zM766.62 819.52a6.6 6.6 0 1 0 13.2 0a6.6 6.6 0 1 0 -13.2 0zM768.95 820.63a6.6 6.6 0 1 0 13.2 0a6.6 6.6 0 1 0 -13.2 0zM771.28 817.84a6.6 6.6 0 1 0 13.2 0a6.6 6.6 0 1 0 -13.2 0zM773.61 819.76a6.6 6.6 0 1 0 13.2 0a6.6 6.6 0 1 0 -13.2 0zM775.94 819.12a6.6 6.6 0 1 0 13.2 0a6.6 6.6 0 1 0 -13.2 0zM778.27 817.91a6.6 6.6 0 1 0 13.2 0a6.6 6.6 0 1 0 -13.2 0zM780.59 819.84a6.6 6.6 0 1 0 13.2 0a6.6 6.6 0 1 0 -13.2 0zM782.92 818.02a6.6 6.6 0 1 0 13.2 0a6.6 6.6 0 1 0 -13.2 0zM785.25 820.17a6.6 6.6 0 1 0 13.2 0a6.6 6.6 0 1 0 -13.2 0zM787.58 819.08a6.6 6.6 0 1 0 13.2 0a6.6 6.6 0 1 0 -13.2 0zM789.91 819.14a6.6 6.6 0 1 0 13.2 0a6.6 6.6 0 1 0 -13.2 0zM792.24 818.48a6.6 6.6 0 1 0 13.2 0a6.6 6.6 0 1 0 -13.2 0zM794.57 819.09a6.6 6.6 0 1 0 13.2 0a6.6 6.6 0 1 0 -13.2 0zM796.89 816.46a6.6 6.6 0 1 0 13.2 0a6.6 6.6 0 1 0 -13.2 0zM799.22 818.05a6.6 6.6 0 1 0 13.2 0a6.6 6.6 0 1 0 -13.2 0zM801.55 817.25a6.6 6.6 0 1 0 13.2 0a6.6 6.6 0 1 0 -13.2 0zM803.88 817.89a6.6 6.6 0 1 0 13.2 0a6.6 6.6 0 1 0 -13.2 0zM806.21 817.39a6.6 6.6 0 1 0 13.2 0a6.6 6.6 0 1 0 -13.2 0zM808.54 817.76a6.6 6.6 0 1 0 13.2 0a6.6 6.6 0 1 0 -13.2 0zM810.87 816.21a6.6 6.6 0 1 0 13.2 0a6.6 6.6 0 1 0 -13.2 0zM813.19 818.35a6.6 6.6 0 1 0 13.2 0a6.6 6.6 0 1 0 -13.2 0zM815.52 818.48a6.6 6.6 0 1 0 13.2 0a6.6 6.6 0 1 0 -13.2 0zM817.85 815.89a6.6 6.6 0 1 0 13.2 0a6.6 6.6 0 1 0 -13.2 0zM820.18 815.71a6.6 6.6 0 1 0 13.2 0a6.6 6.6 0 1 0 -13.2 0zM822.51 815.59a6.6 6.6 0 1 0 13.2 0a6.6 6.6 0 1 0 -13.2 0zM824.84 816.05a6.6 6.6 0 1 0 13.2 0a6.6 6.6 0 1 0 -13.2 0zM827.16 816.15a6.6 6.6 0 1 0 13.2 0a6.6 6.6 0 1 0 -13.2 0zM829.49 812.85a6.6 6.6 0 1 0 13.2 0a6.6 6.6 0 1 0 -13.2 0zM831.82 812.82a6.6 6.6 0 1 0 13.2 0a6.6 6.6 0 1 0 -13.2 0zM834.15 811.8a6.6 6.6 0 1 0 13.2 0a6.6 6.6 0 1 0 -13.2 0zM836.48 811.08a6.6 6.6 0 1 0 13.2 0a6.6 6.6 0 1 0 -13.2 0zM838.81 809.87a6.6 6.6 0 1 0 13.2 0a6.6 6.6 0 1 0 -13.2 0zM841.14 810.87a6.6 6.6 0 1 0 13.2 0a6.6 6.6 0 1 0 -13.2 0zM843.46 808.62a6.6 6.6 0 1 0 13.2 0a6.6 6.6 0 1 0 -13.2 0zM845.79 810.05a6.6 6.6 0 1 0 13.2 0a6.6 6.6 0 1 0 -13.2 0zM848.12 808.45a6.6 6.6 0 1 0 13.2 0a6.6 6.6 0 1 0 -13.2 0zM850.45 805.55a6.6 6.6 0 1 0 13.2 0a6.6 6.6 0 1 0 -13.2 0z" fill="#ff0000"/>
</g>
<line x1="474.6" y1="128" x2="474.6" y2="515" stroke="#000" stroke-width="3" stroke-dasharray="6.5 5.7"/>
<line x1="438.3" y1="457.5" x2="438.3" y2="878" stroke="#000" stroke-width="3" stroke-dasharray="6.5 5.7"/>
<path d="M473.8 428.6H430.8V417.6L408.9 439.6L430.8 461.5V450.5H473.8Z" fill="#4472c4" stroke="#2f528f" stroke-width="1.3" stroke-linejoin="miter"/>
<rect x="158.6" y="21" width="697.4" height="862.8" fill="none" stroke="#000" stroke-width="4.5" />
<line x1="251.56" y1="885.8" x2="251.56" y2="894.8" stroke="#000" stroke-width="4" />
<line x1="391" y1="885.8" x2="391" y2="894.8" stroke="#000" stroke-width="4" />
<line x1="530.44" y1="885.8" x2="530.44" y2="894.8" stroke="#000" stroke-width="4" />
<line x1="669.88" y1="885.8" x2="669.88" y2="894.8" stroke="#000" stroke-width="4" />
<line x1="809.32" y1="885.8" x2="809.32" y2="894.8" stroke="#000" stroke-width="4" />
<line x1="181.84" y1="885.8" x2="181.84" y2="890.3" stroke="#000" stroke-width="4" />
<line x1="321.28" y1="885.8" x2="321.28" y2="890.3" stroke="#000" stroke-width="4" />
<line x1="460.72" y1="885.8" x2="460.72" y2="890.3" stroke="#000" stroke-width="4" />
<line x1="600.16" y1="885.8" x2="600.16" y2="890.3" stroke="#000" stroke-width="4" />
<line x1="739.6" y1="885.8" x2="739.6" y2="890.3" stroke="#000" stroke-width="4" />
<text x="251.56" y="929.7" font-family='"Liberation Sans", Arial, Helvetica, sans-serif' font-size="35" font-weight="bold" fill="#000" text-anchor="middle" >69</text>
<text x="391" y="929.7" font-family='"Liberation Sans", Arial, Helvetica, sans-serif' font-size="35" font-weight="bold" fill="#000" text-anchor="middle" >72</text>
<text x="530.44" y="929.7" font-family='"Liberation Sans", Arial, Helvetica, sans-serif' font-size="35" font-weight="bold" fill="#000" text-anchor="middle" >75</text>
<text x="669.88" y="929.7" font-family='"Liberation Sans", Arial, Helvetica, sans-serif' font-size="35" font-weight="bold" fill="#000" text-anchor="middle" >78</text>
<text x="809.32" y="929.7" font-family='"Liberation Sans", Arial, Helvetica, sans-serif' font-size="35" font-weight="bold" fill="#000" text-anchor="middle" >81</text>
<text x="506.5" y="981.5" font-family='"Liberation Sans", Arial, Helvetica, sans-serif' font-size="47.4" font-weight="bold" fill="#000" text-anchor="middle" >Binding energy (eV)</text>
<text x="110.9" y="467.5" font-family='"Liberation Sans", Arial, Helvetica, sans-serif' font-size="47" font-weight="bold" fill="#000" text-anchor="middle" transform="rotate(-90 110.9 467.5)" >Intensity (a.u.)</text>
<text x="191" y="100.3" font-family='"Liberation Sans", Arial, Helvetica, sans-serif' font-size="63.5" font-weight="bold" fill="#0a800a" text-anchor="start" >Pt 4f</text>
<text x="466.1" y="101.4" font-family='"Liberation Sans", Arial, Helvetica, sans-serif' font-size="36" font-weight="bold" fill="#000" text-anchor="start" ><tspan dy="0" font-size="36">Pt</tspan><tspan dy="-14.76" font-size="24.12">+4</tspan></text>
<text x="608.4" y="157.8" font-family='"Liberation Sans", Arial, Helvetica, sans-serif' font-size="36" font-weight="bold" fill="#000" text-anchor="start" ><tspan dy="0" font-size="36">Pt</tspan><tspan dy="-14.76" font-size="24.12">+4</tspan></text>
<text x="365.6" y="318.6" font-family='"Liberation Sans", Arial, Helvetica, sans-serif' font-size="36" font-weight="bold" fill="#000" text-anchor="start" ><tspan dy="0" font-size="36">Pt</tspan><tspan dy="-14.76" font-size="24.12">+2</tspan></text>
<text x="532.6" y="315" font-family='"Liberation Sans", Arial, Helvetica, sans-serif' font-size="36" font-weight="bold" fill="#000" text-anchor="start" ><tspan dy="0" font-size="36">Pt</tspan><tspan dy="-14.76" font-size="24.12">+2</tspan></text>
<text x="719" y="347.9" font-family='"Liberation Sans", Arial, Helvetica, sans-serif' font-size="46" font-weight="bold" fill="#0000ff" text-anchor="start" ><tspan dy="0" font-size="46">PtS</tspan><tspan dy="12.42" font-size="30.82">2-x</tspan></text>
<text x="605.7" y="667.2" font-family='"Liberation Sans", Arial, Helvetica, sans-serif' font-size="40.8" font-weight="bold" fill="#0000ff" text-anchor="start" ><tspan dy="0" font-size="40.8">PtS</tspan><tspan dy="11.02" dx="1.5" font-size="27.34">2-x</tspan><tspan dy="-11.02" font-size="40.8">/Ga</tspan><tspan dy="11.02" dx="1.5" font-size="27.34">2</tspan><tspan dy="-11.02" font-size="40.8">O</tspan><tspan dy="11.02" dx="1.5" font-size="27.34">3</tspan></text>
<text x="29" y="43.3" font-family='"Liberation Sans", Arial, Helvetica, sans-serif' font-weight="normal" fill="#000"><tspan font-size="57">(</tspan><tspan font-size="53" dx="0">a</tspan><tspan font-size="57" dx="0">)</tspan></text>
</g>
<g id="panel-b">
<clipPath id="clipB"><rect x="1099.4" y="20.9" width="697.8" height="863.1"/></clipPath>
<g clip-path="url(#clipB)">
<path d="M1092.4 408.09a7.0 7.0 0 1 0 14.0 0a7.0 7.0 0 1 0 -14.0 0zM1097.05 405.93a7.0 7.0 0 1 0 14.0 0a7.0 7.0 0 1 0 -14.0 0zM1101.7 406.43a7.0 7.0 0 1 0 14.0 0a7.0 7.0 0 1 0 -14.0 0zM1106.35 406.81a7.0 7.0 0 1 0 14.0 0a7.0 7.0 0 1 0 -14.0 0zM1111 405.61a7.0 7.0 0 1 0 14.0 0a7.0 7.0 0 1 0 -14.0 0zM1115.65 406.4a7.0 7.0 0 1 0 14.0 0a7.0 7.0 0 1 0 -14.0 0zM1120.3 406.4a7.0 7.0 0 1 0 14.0 0a7.0 7.0 0 1 0 -14.0 0zM1124.95 404.65a7.0 7.0 0 1 0 14.0 0a7.0 7.0 0 1 0 -14.0 0zM1129.6 407.42a7.0 7.0 0 1 0 14.0 0a7.0 7.0 0 1 0 -14.0 0zM1134.25 407a7.0 7.0 0 1 0 14.0 0a7.0 7.0 0 1 0 -14.0 0zM1138.9 405.77a7.0 7.0 0 1 0 14.0 0a7.0 7.0 0 1 0 -14.0 0zM1143.55 406.23a7.0 7.0 0 1 0 14.0 0a7.0 7.0 0 1 0 -14.0 0zM1148.2 406.91a7.0 7.0 0 1 0 14.0 0a7.0 7.0 0 1 0 -14.0 0zM1152.85 406.14a7.0 7.0 0 1 0 14.0 0a7.0 7.0 0 1 0 -14.0 0zM1157.5 406.16a7.0 7.0 0 1 0 14.0 0a7.0 7.0 0 1 0 -14.0 0zM1162.15 404.95a7.0 7.0 0 1 0 14.0 0a7.0 7.0 0 1 0 -14.0 0zM1166.8 406.95a7.0 7.0 0 1 0 14.0 0a7.0 7.0 0 1 0 -14.0 0zM1171.45 406.52a7.0 7.0 0 1 0 14.0 0a7.0 7.0 0 1 0 -14.0 0zM1176.1 406.67a7.0 7.0 0 1 0 14.0 0a7.0 7.0 0 1 0 -14.0 0zM1180.75 404.87a7.0 7.0 0 1 0 14.0 0a7.0 7.0 0 1 0 -14.0 0zM1185.4 408.05a7.0 7.0 0 1 0 14.0 0a7.0 7.0 0 1 0 -14.0 0zM1190.05 406.55a7.0 7.0 0 1 0 14.0 0a7.0 7.0 0 1 0 -14.0 0zM1194.7 406.01a7.0 7.0 0 1 0 14.0 0a7.0 7.0 0 1 0 -14.0 0zM1199.35 408.43a7.0 7.0 0 1 0 14.0 0a7.0 7.0 0 1 0 -14.0 0zM1204 406.35a7.0 7.0 0 1 0 14.0 0a7.0 7.0 0 1 0 -14.0 0zM1208.65 404.94a7.0 7.0 0 1 0 14.0 0a7.0 7.0 0 1 0 -14.0 0zM1213.3 405.98a7.0 7.0 0 1 0 14.0 0a7.0 7.0 0 1 0 -14.0 0zM1217.95 404.08a7.0 7.0 0 1 0 14.0 0a7.0 7.0 0 1 0 -14.0 0zM1222.6 407.4a7.0 7.0 0 1 0 14.0 0a7.0 7.0 0 1 0 -14.0 0zM1227.25 405.91a7.0 7.0 0 1 0 14.0 0a7.0 7.0 0 1 0 -14.0 0zM1231.9 405.53a7.0 7.0 0 1 0 14.0 0a7.0 7.0 0 1 0 -14.0 0zM1236.55 407.27a7.0 7.0 0 1 0 14.0 0a7.0 7.0 0 1 0 -14.0 0zM1241.2 404.43a7.0 7.0 0 1 0 14.0 0a7.0 7.0 0 1 0 -14.0 0zM1245.85 406.45a7.0 7.0 0 1 0 14.0 0a7.0 7.0 0 1 0 -14.0 0zM1250.5 403.59a7.0 7.0 0 1 0 14.0 0a7.0 7.0 0 1 0 -14.0 0zM1255.15 404.62a7.0 7.0 0 1 0 14.0 0a7.0 7.0 0 1 0 -14.0 0zM1259.8 403.56a7.0 7.0 0 1 0 14.0 0a7.0 7.0 0 1 0 -14.0 0zM1264.45 405.51a7.0 7.0 0 1 0 14.0 0a7.0 7.0 0 1 0 -14.0 0zM1269.1 404.85a7.0 7.0 0 1 0 14.0 0a7.0 7.0 0 1 0 -14.0 0zM1273.75 401.49a7.0 7.0 0 1 0 14.0 0a7.0 7.0 0 1 0 -14.0 0zM1278.4 401.03a7.0 7.0 0 1 0 14.0 0a7.0 7.0 0 1 0 -14.0 0zM1283.05 397.99a7.0 7.0 0 1 0 14.0 0a7.0 7.0 0 1 0 -14.0 0zM1287.7 396.27a7.0 7.0 0 1 0 14.0 0a7.0 7.0 0 1 0 -14.0 0zM1292.35 392.01a7.0 7.0 0 1 0 14.0 0a7.0 7.0 0 1 0 -14.0 0zM1297 387.62a7.0 7.0 0 1 0 14.0 0a7.0 7.0 0 1 0 -14.0 0zM1301.65 383.59a7.0 7.0 0 1 0 14.0 0a7.0 7.0 0 1 0 -14.0 0zM1306.3 381.32a7.0 7.0 0 1 0 14.0 0a7.0 7.0 0 1 0 -14.0 0zM1310.95 378.15a7.0 7.0 0 1 0 14.0 0a7.0 7.0 0 1 0 -14.0 0zM1315.6 370.44a7.0 7.0 0 1 0 14.0 0a7.0 7.0 0 1 0 -14.0 0zM1320.25 363.01a7.0 7.0 0 1 0 14.0 0a7.0 7.0 0 1 0 -14.0 0zM1324.9 357.59a7.0 7.0 0 1 0 14.0 0a7.0 7.0 0 1 0 -14.0 0zM1329.55 346.38a7.0 7.0 0 1 0 14.0 0a7.0 7.0 0 1 0 -14.0 0zM1334.2 334.48a7.0 7.0 0 1 0 14.0 0a7.0 7.0 0 1 0 -14.0 0zM1338.85 320.07a7.0 7.0 0 1 0 14.0 0a7.0 7.0 0 1 0 -14.0 0zM1343.5 301.81a7.0 7.0 0 1 0 14.0 0a7.0 7.0 0 1 0 -14.0 0zM1348.15 280.17a7.0 7.0 0 1 0 14.0 0a7.0 7.0 0 1 0 -14.0 0zM1352.8 254.09a7.0 7.0 0 1 0 14.0 0a7.0 7.0 0 1 0 -14.0 0zM1357.45 228.19a7.0 7.0 0 1 0 14.0 0a7.0 7.0 0 1 0 -14.0 0zM1362.1 198.09a7.0 7.0 0 1 0 14.0 0a7.0 7.0 0 1 0 -14.0 0zM1366.75 170.06a7.0 7.0 0 1 0 14.0 0a7.0 7.0 0 1 0 -14.0 0zM1371.4 141.88a7.0 7.0 0 1 0 14.0 0a7.0 7.0 0 1 0 -14.0 0zM1376.05 119.25a7.0 7.0 0 1 0 14.0 0a7.0 7.0 0 1 0 -14.0 0zM1380.7 108.13a7.0 7.0 0 1 0 14.0 0a7.0 7.0 0 1 0 -14.0 0zM1385.35 106.95a7.0 7.0 0 1 0 14.0 0a7.0 7.0 0 1 0 -14.0 0zM1390 112.26a7.0 7.0 0 1 0 14.0 0a7.0 7.0 0 1 0 -14.0 0zM1394.65 128.63a7.0 7.0 0 1 0 14.0 0a7.0 7.0 0 1 0 -14.0 0zM1399.3 152.78a7.0 7.0 0 1 0 14.0 0a7.0 7.0 0 1 0 -14.0 0zM1403.95 182.59a7.0 7.0 0 1 0 14.0 0a7.0 7.0 0 1 0 -14.0 0zM1408.6 215.67a7.0 7.0 0 1 0 14.0 0a7.0 7.0 0 1 0 -14.0 0zM1413.25 247.38a7.0 7.0 0 1 0 14.0 0a7.0 7.0 0 1 0 -14.0 0zM1417.9 280.84a7.0 7.0 0 1 0 14.0 0a7.0 7.0 0 1 0 -14.0 0zM1422.55 306.48a7.0 7.0 0 1 0 14.0 0a7.0 7.0 0 1 0 -14.0 0zM1427.2 330.01a7.0 7.0 0 1 0 14.0 0a7.0 7.0 0 1 0 -14.0 0zM1431.85 349.85a7.0 7.0 0 1 0 14.0 0a7.0 7.0 0 1 0 -14.0 0zM1436.5 363.97a7.0 7.0 0 1 0 14.0 0a7.0 7.0 0 1 0 -14.0 0zM1441.15 372.35a7.0 7.0 0 1 0 14.0 0a7.0 7.0 0 1 0 -14.0 0zM1445.8 379.74a7.0 7.0 0 1 0 14.0 0a7.0 7.0 0 1 0 -14.0 0zM1450.45 384.44a7.0 7.0 0 1 0 14.0 0a7.0 7.0 0 1 0 -14.0 0zM1455.1 385.96a7.0 7.0 0 1 0 14.0 0a7.0 7.0 0 1 0 -14.0 0zM1459.75 385.52a7.0 7.0 0 1 0 14.0 0a7.0 7.0 0 1 0 -14.0 0zM1464.4 388.24a7.0 7.0 0 1 0 14.0 0a7.0 7.0 0 1 0 -14.0 0zM1469.05 388.22a7.0 7.0 0 1 0 14.0 0a7.0 7.0 0 1 0 -14.0 0zM1473.7 387.18a7.0 7.0 0 1 0 14.0 0a7.0 7.0 0 1 0 -14.0 0zM1478.35 385.11a7.0 7.0 0 1 0 14.0 0a7.0 7.0 0 1 0 -14.0 0zM1483 385.05a7.0 7.0 0 1 0 14.0 0a7.0 7.0 0 1 0 -14.0 0zM1487.65 383.87a7.0 7.0 0 1 0 14.0 0a7.0 7.0 0 1 0 -14.0 0zM1492.3 383.43a7.0 7.0 0 1 0 14.0 0a7.0 7.0 0 1 0 -14.0 0zM1496.95 384.37a7.0 7.0 0 1 0 14.0 0a7.0 7.0 0 1 0 -14.0 0zM1501.6 384.05a7.0 7.0 0 1 0 14.0 0a7.0 7.0 0 1 0 -14.0 0zM1506.25 382.77a7.0 7.0 0 1 0 14.0 0a7.0 7.0 0 1 0 -14.0 0zM1510.9 382.35a7.0 7.0 0 1 0 14.0 0a7.0 7.0 0 1 0 -14.0 0zM1515.55 382.33a7.0 7.0 0 1 0 14.0 0a7.0 7.0 0 1 0 -14.0 0zM1520.2 381.64a7.0 7.0 0 1 0 14.0 0a7.0 7.0 0 1 0 -14.0 0zM1524.85 381.72a7.0 7.0 0 1 0 14.0 0a7.0 7.0 0 1 0 -14.0 0zM1529.5 381.41a7.0 7.0 0 1 0 14.0 0a7.0 7.0 0 1 0 -14.0 0zM1534.15 382.45a7.0 7.0 0 1 0 14.0 0a7.0 7.0 0 1 0 -14.0 0zM1538.8 385.3a7.0 7.0 0 1 0 14.0 0a7.0 7.0 0 1 0 -14.0 0zM1543.45 384.55a7.0 7.0 0 1 0 14.0 0a7.0 7.0 0 1 0 -14.0 0zM1548.1 384.07a7.0 7.0 0 1 0 14.0 0a7.0 7.0 0 1 0 -14.0 0zM1552.75 384.74a7.0 7.0 0 1 0 14.0 0a7.0 7.0 0 1 0 -14.0 0zM1557.4 385.19a7.0 7.0 0 1 0 14.0 0a7.0 7.0 0 1 0 -14.0 0zM1562.05 387.29a7.0 7.0 0 1 0 14.0 0a7.0 7.0 0 1 0 -14.0 0zM1566.7 388.19a7.0 7.0 0 1 0 14.0 0a7.0 7.0 0 1 0 -14.0 0zM1571.35 387.22a7.0 7.0 0 1 0 14.0 0a7.0 7.0 0 1 0 -14.0 0zM1576 390a7.0 7.0 0 1 0 14.0 0a7.0 7.0 0 1 0 -14.0 0zM1580.65 389.75a7.0 7.0 0 1 0 14.0 0a7.0 7.0 0 1 0 -14.0 0zM1585.3 392.5a7.0 7.0 0 1 0 14.0 0a7.0 7.0 0 1 0 -14.0 0zM1589.95 391.94a7.0 7.0 0 1 0 14.0 0a7.0 7.0 0 1 0 -14.0 0zM1594.6 394.14a7.0 7.0 0 1 0 14.0 0a7.0 7.0 0 1 0 -14.0 0zM1599.25 392.54a7.0 7.0 0 1 0 14.0 0a7.0 7.0 0 1 0 -14.0 0zM1603.9 393.22a7.0 7.0 0 1 0 14.0 0a7.0 7.0 0 1 0 -14.0 0zM1608.55 394.26a7.0 7.0 0 1 0 14.0 0a7.0 7.0 0 1 0 -14.0 0zM1613.2 395.4a7.0 7.0 0 1 0 14.0 0a7.0 7.0 0 1 0 -14.0 0zM1617.85 395.25a7.0 7.0 0 1 0 14.0 0a7.0 7.0 0 1 0 -14.0 0zM1622.5 393.73a7.0 7.0 0 1 0 14.0 0a7.0 7.0 0 1 0 -14.0 0zM1627.15 395.38a7.0 7.0 0 1 0 14.0 0a7.0 7.0 0 1 0 -14.0 0zM1631.8 395.41a7.0 7.0 0 1 0 14.0 0a7.0 7.0 0 1 0 -14.0 0zM1636.45 395.12a7.0 7.0 0 1 0 14.0 0a7.0 7.0 0 1 0 -14.0 0zM1641.1 395.03a7.0 7.0 0 1 0 14.0 0a7.0 7.0 0 1 0 -14.0 0zM1645.75 397.52a7.0 7.0 0 1 0 14.0 0a7.0 7.0 0 1 0 -14.0 0zM1650.4 395.46a7.0 7.0 0 1 0 14.0 0a7.0 7.0 0 1 0 -14.0 0zM1655.05 395.07a7.0 7.0 0 1 0 14.0 0a7.0 7.0 0 1 0 -14.0 0zM1659.7 396.6a7.0 7.0 0 1 0 14.0 0a7.0 7.0 0 1 0 -14.0 0zM1664.35 396.13a7.0 7.0 0 1 0 14.0 0a7.0 7.0 0 1 0 -14.0 0zM1669 395.95a7.0 7.0 0 1 0 14.0 0a7.0 7.0 0 1 0 -14.0 0zM1673.65 396.83a7.0 7.0 0 1 0 14.0 0a7.0 7.0 0 1 0 -14.0 0zM1678.3 396.55a7.0 7.0 0 1 0 14.0 0a7.0 7.0 0 1 0 -14.0 0zM1682.95 396.44a7.0 7.0 0 1 0 14.0 0a7.0 7.0 0 1 0 -14.0 0zM1687.6 397.05a7.0 7.0 0 1 0 14.0 0a7.0 7.0 0 1 0 -14.0 0zM1692.25 396.37a7.0 7.0 0 1 0 14.0 0a7.0 7.0 0 1 0 -14.0 0zM1696.9 395.47a7.0 7.0 0 1 0 14.0 0a7.0 7.0 0 1 0 -14.0 0zM1701.55 395.73a7.0 7.0 0 1 0 14.0 0a7.0 7.0 0 1 0 -14.0 0zM1706.2 395.58a7.0 7.0 0 1 0 14.0 0a7.0 7.0 0 1 0 -14.0 0zM1710.85 396.31a7.0 7.0 0 1 0 14.0 0a7.0 7.0 0 1 0 -14.0 0zM1715.5 395.02a7.0 7.0 0 1 0 14.0 0a7.0 7.0 0 1 0 -14.0 0zM1720.15 394.27a7.0 7.0 0 1 0 14.0 0a7.0 7.0 0 1 0 -14.0 0zM1724.8 396.19a7.0 7.0 0 1 0 14.0 0a7.0 7.0 0 1 0 -14.0 0zM1729.45 394.76a7.0 7.0 0 1 0 14.0 0a7.0 7.0 0 1 0 -14.0 0zM1734.1 394.15a7.0 7.0 0 1 0 14.0 0a7.0 7.0 0 1 0 -14.0 0zM1738.75 396.47a7.0 7.0 0 1 0 14.0 0a7.0 7.0 0 1 0 -14.0 0zM1743.4 395.39a7.0 7.0 0 1 0 14.0 0a7.0 7.0 0 1 0 -14.0 0zM1748.05 396.6a7.0 7.0 0 1 0 14.0 0a7.0 7.0 0 1 0 -14.0 0zM1752.7 395.57a7.0 7.0 0 1 0 14.0 0a7.0 7.0 0 1 0 -14.0 0zM1757.35 394.98a7.0 7.0 0 1 0 14.0 0a7.0 7.0 0 1 0 -14.0 0zM1762 394.86a7.0 7.0 0 1 0 14.0 0a7.0 7.0 0 1 0 -14.0 0zM1766.65 395.59a7.0 7.0 0 1 0 14.0 0a7.0 7.0 0 1 0 -14.0 0zM1771.3 395.83a7.0 7.0 0 1 0 14.0 0a7.0 7.0 0 1 0 -14.0 0zM1775.95 395.28a7.0 7.0 0 1 0 14.0 0a7.0 7.0 0 1 0 -14.0 0zM1780.6 395.82a7.0 7.0 0 1 0 14.0 0a7.0 7.0 0 1 0 -14.0 0zM1785.25 394.56a7.0 7.0 0 1 0 14.0 0a7.0 7.0 0 1 0 -14.0 0zM1789.9 396.11a7.0 7.0 0 1 0 14.0 0a7.0 7.0 0 1 0 -14.0 0z" fill="#fff" fill-opacity="0.0" stroke="#8b0000" stroke-width="3.5"/>
<path d="M1092.4 819.2a7.0 7.0 0 1 0 14.0 0a7.0 7.0 0 1 0 -14.0 0zM1094.73 823.06a7.0 7.0 0 1 0 14.0 0a7.0 7.0 0 1 0 -14.0 0zM1097.05 825.27a7.0 7.0 0 1 0 14.0 0a7.0 7.0 0 1 0 -14.0 0zM1099.38 826.33a7.0 7.0 0 1 0 14.0 0a7.0 7.0 0 1 0 -14.0 0zM1101.7 827.98a7.0 7.0 0 1 0 14.0 0a7.0 7.0 0 1 0 -14.0 0zM1104.03 820.32a7.0 7.0 0 1 0 14.0 0a7.0 7.0 0 1 0 -14.0 0zM1106.35 826.11a7.0 7.0 0 1 0 14.0 0a7.0 7.0 0 1 0 -14.0 0zM1108.68 827.45a7.0 7.0 0 1 0 14.0 0a7.0 7.0 0 1 0 -14.0 0zM1111 827.2a7.0 7.0 0 1 0 14.0 0a7.0 7.0 0 1 0 -14.0 0zM1113.33 822.93a7.0 7.0 0 1 0 14.0 0a7.0 7.0 0 1 0 -14.0 0zM1115.65 826.48a7.0 7.0 0 1 0 14.0 0a7.0 7.0 0 1 0 -14.0 0zM1117.98 830.3a7.0 7.0 0 1 0 14.0 0a7.0 7.0 0 1 0 -14.0 0zM1120.3 822.6a7.0 7.0 0 1 0 14.0 0a7.0 7.0 0 1 0 -14.0 0zM1122.63 827.69a7.0 7.0 0 1 0 14.0 0a7.0 7.0 0 1 0 -14.0 0zM1124.95 829.57a7.0 7.0 0 1 0 14.0 0a7.0 7.0 0 1 0 -14.0 0zM1127.28 825.58a7.0 7.0 0 1 0 14.0 0a7.0 7.0 0 1 0 -14.0 0zM1129.6 829a7.0 7.0 0 1 0 14.0 0a7.0 7.0 0 1 0 -14.0 0zM1131.93 825.36a7.0 7.0 0 1 0 14.0 0a7.0 7.0 0 1 0 -14.0 0zM1134.25 826.29a7.0 7.0 0 1 0 14.0 0a7.0 7.0 0 1 0 -14.0 0zM1136.58 826.58a7.0 7.0 0 1 0 14.0 0a7.0 7.0 0 1 0 -14.0 0zM1138.9 829.28a7.0 7.0 0 1 0 14.0 0a7.0 7.0 0 1 0 -14.0 0zM1141.23 828.86a7.0 7.0 0 1 0 14.0 0a7.0 7.0 0 1 0 -14.0 0zM1143.55 831.61a7.0 7.0 0 1 0 14.0 0a7.0 7.0 0 1 0 -14.0 0zM1145.88 827.28a7.0 7.0 0 1 0 14.0 0a7.0 7.0 0 1 0 -14.0 0zM1148.2 829.42a7.0 7.0 0 1 0 14.0 0a7.0 7.0 0 1 0 -14.0 0zM1150.53 832.22a7.0 7.0 0 1 0 14.0 0a7.0 7.0 0 1 0 -14.0 0zM1152.85 831.41a7.0 7.0 0 1 0 14.0 0a7.0 7.0 0 1 0 -14.0 0zM1155.18 827.03a7.0 7.0 0 1 0 14.0 0a7.0 7.0 0 1 0 -14.0 0zM1157.5 831.93a7.0 7.0 0 1 0 14.0 0a7.0 7.0 0 1 0 -14.0 0zM1159.83 829.29a7.0 7.0 0 1 0 14.0 0a7.0 7.0 0 1 0 -14.0 0zM1162.15 831.46a7.0 7.0 0 1 0 14.0 0a7.0 7.0 0 1 0 -14.0 0zM1164.48 831.34a7.0 7.0 0 1 0 14.0 0a7.0 7.0 0 1 0 -14.0 0zM1166.8 833.61a7.0 7.0 0 1 0 14.0 0a7.0 7.0 0 1 0 -14.0 0zM1169.13 831.02a7.0 7.0 0 1 0 14.0 0a7.0 7.0 0 1 0 -14.0 0zM1171.45 826.34a7.0 7.0 0 1 0 14.0 0a7.0 7.0 0 1 0 -14.0 0zM1173.78 827.54a7.0 7.0 0 1 0 14.0 0a7.0 7.0 0 1 0 -14.0 0zM1176.1 832.62a7.0 7.0 0 1 0 14.0 0a7.0 7.0 0 1 0 -14.0 0zM1178.43 830.27a7.0 7.0 0 1 0 14.0 0a7.0 7.0 0 1 0 -14.0 0zM1180.75 833.64a7.0 7.0 0 1 0 14.0 0a7.0 7.0 0 1 0 -14.0 0zM1183.08 831.58a7.0 7.0 0 1 0 14.0 0a7.0 7.0 0 1 0 -14.0 0zM1185.4 829.14a7.0 7.0 0 1 0 14.0 0a7.0 7.0 0 1 0 -14.0 0zM1187.73 833.55a7.0 7.0 0 1 0 14.0 0a7.0 7.0 0 1 0 -14.0 0zM1190.05 829.02a7.0 7.0 0 1 0 14.0 0a7.0 7.0 0 1 0 -14.0 0zM1192.38 826.04a7.0 7.0 0 1 0 14.0 0a7.0 7.0 0 1 0 -14.0 0zM1194.7 835.92a7.0 7.0 0 1 0 14.0 0a7.0 7.0 0 1 0 -14.0 0zM1197.03 826.38a7.0 7.0 0 1 0 14.0 0a7.0 7.0 0 1 0 -14.0 0zM1199.35 832.49a7.0 7.0 0 1 0 14.0 0a7.0 7.0 0 1 0 -14.0 0zM1201.68 833.22a7.0 7.0 0 1 0 14.0 0a7.0 7.0 0 1 0 -14.0 0zM1204 831.31a7.0 7.0 0 1 0 14.0 0a7.0 7.0 0 1 0 -14.0 0zM1206.33 826.91a7.0 7.0 0 1 0 14.0 0a7.0 7.0 0 1 0 -14.0 0zM1208.65 833.38a7.0 7.0 0 1 0 14.0 0a7.0 7.0 0 1 0 -14.0 0zM1210.98 827.47a7.0 7.0 0 1 0 14.0 0a7.0 7.0 0 1 0 -14.0 0zM1213.3 827.68a7.0 7.0 0 1 0 14.0 0a7.0 7.0 0 1 0 -14.0 0zM1215.63 830.02a7.0 7.0 0 1 0 14.0 0a7.0 7.0 0 1 0 -14.0 0zM1217.95 832.75a7.0 7.0 0 1 0 14.0 0a7.0 7.0 0 1 0 -14.0 0zM1220.28 831.54a7.0 7.0 0 1 0 14.0 0a7.0 7.0 0 1 0 -14.0 0zM1222.6 832.73a7.0 7.0 0 1 0 14.0 0a7.0 7.0 0 1 0 -14.0 0zM1224.93 829.67a7.0 7.0 0 1 0 14.0 0a7.0 7.0 0 1 0 -14.0 0zM1227.25 830.26a7.0 7.0 0 1 0 14.0 0a7.0 7.0 0 1 0 -14.0 0zM1229.58 827.88a7.0 7.0 0 1 0 14.0 0a7.0 7.0 0 1 0 -14.0 0zM1231.9 829.76a7.0 7.0 0 1 0 14.0 0a7.0 7.0 0 1 0 -14.0 0zM1234.23 831.85a7.0 7.0 0 1 0 14.0 0a7.0 7.0 0 1 0 -14.0 0zM1236.55 829.59a7.0 7.0 0 1 0 14.0 0a7.0 7.0 0 1 0 -14.0 0zM1238.88 831.32a7.0 7.0 0 1 0 14.0 0a7.0 7.0 0 1 0 -14.0 0zM1241.2 828.64a7.0 7.0 0 1 0 14.0 0a7.0 7.0 0 1 0 -14.0 0zM1243.53 828.42a7.0 7.0 0 1 0 14.0 0a7.0 7.0 0 1 0 -14.0 0zM1245.85 829.72a7.0 7.0 0 1 0 14.0 0a7.0 7.0 0 1 0 -14.0 0zM1248.18 828.92a7.0 7.0 0 1 0 14.0 0a7.0 7.0 0 1 0 -14.0 0zM1250.5 830.54a7.0 7.0 0 1 0 14.0 0a7.0 7.0 0 1 0 -14.0 0zM1252.83 829.24a7.0 7.0 0 1 0 14.0 0a7.0 7.0 0 1 0 -14.0 0zM1255.15 832.64a7.0 7.0 0 1 0 14.0 0a7.0 7.0 0 1 0 -14.0 0zM1257.48 827.55a7.0 7.0 0 1 0 14.0 0a7.0 7.0 0 1 0 -14.0 0zM1259.8 827.09a7.0 7.0 0 1 0 14.0 0a7.0 7.0 0 1 0 -14.0 0zM1262.13 824.66a7.0 7.0 0 1 0 14.0 0a7.0 7.0 0 1 0 -14.0 0zM1264.45 826.68a7.0 7.0 0 1 0 14.0 0a7.0 7.0 0 1 0 -14.0 0zM1266.78 827.68a7.0 7.0 0 1 0 14.0 0a7.0 7.0 0 1 0 -14.0 0zM1269.1 823.63a7.0 7.0 0 1 0 14.0 0a7.0 7.0 0 1 0 -14.0 0zM1271.43 824.59a7.0 7.0 0 1 0 14.0 0a7.0 7.0 0 1 0 -14.0 0zM1273.75 825.69a7.0 7.0 0 1 0 14.0 0a7.0 7.0 0 1 0 -14.0 0zM1276.08 822.86a7.0 7.0 0 1 0 14.0 0a7.0 7.0 0 1 0 -14.0 0zM1278.4 821.07a7.0 7.0 0 1 0 14.0 0a7.0 7.0 0 1 0 -14.0 0zM1280.73 823.75a7.0 7.0 0 1 0 14.0 0a7.0 7.0 0 1 0 -14.0 0zM1283.05 820.7a7.0 7.0 0 1 0 14.0 0a7.0 7.0 0 1 0 -14.0 0zM1285.38 820.42a7.0 7.0 0 1 0 14.0 0a7.0 7.0 0 1 0 -14.0 0zM1287.7 821.25a7.0 7.0 0 1 0 14.0 0a7.0 7.0 0 1 0 -14.0 0zM1290.03 820.12a7.0 7.0 0 1 0 14.0 0a7.0 7.0 0 1 0 -14.0 0zM1292.35 815.44a7.0 7.0 0 1 0 14.0 0a7.0 7.0 0 1 0 -14.0 0zM1294.68 813.89a7.0 7.0 0 1 0 14.0 0a7.0 7.0 0 1 0 -14.0 0zM1297 814.7a7.0 7.0 0 1 0 14.0 0a7.0 7.0 0 1 0 -14.0 0zM1299.33 812.55a7.0 7.0 0 1 0 14.0 0a7.0 7.0 0 1 0 -14.0 0zM1301.65 807.15a7.0 7.0 0 1 0 14.0 0a7.0 7.0 0 1 0 -14.0 0zM1303.98 813.61a7.0 7.0 0 1 0 14.0 0a7.0 7.0 0 1 0 -14.0 0zM1306.3 809.43a7.0 7.0 0 1 0 14.0 0a7.0 7.0 0 1 0 -14.0 0zM1308.63 809.99a7.0 7.0 0 1 0 14.0 0a7.0 7.0 0 1 0 -14.0 0zM1310.95 804.24a7.0 7.0 0 1 0 14.0 0a7.0 7.0 0 1 0 -14.0 0zM1313.28 808.97a7.0 7.0 0 1 0 14.0 0a7.0 7.0 0 1 0 -14.0 0zM1315.6 803.26a7.0 7.0 0 1 0 14.0 0a7.0 7.0 0 1 0 -14.0 0zM1317.93 803.15a7.0 7.0 0 1 0 14.0 0a7.0 7.0 0 1 0 -14.0 0zM1320.25 798.71a7.0 7.0 0 1 0 14.0 0a7.0 7.0 0 1 0 -14.0 0zM1322.58 800.23a7.0 7.0 0 1 0 14.0 0a7.0 7.0 0 1 0 -14.0 0zM1324.9 798.48a7.0 7.0 0 1 0 14.0 0a7.0 7.0 0 1 0 -14.0 0zM1327.23 796.77a7.0 7.0 0 1 0 14.0 0a7.0 7.0 0 1 0 -14.0 0zM1329.55 796.18a7.0 7.0 0 1 0 14.0 0a7.0 7.0 0 1 0 -14.0 0zM1331.88 792.84a7.0 7.0 0 1 0 14.0 0a7.0 7.0 0 1 0 -14.0 0zM1334.2 792.18a7.0 7.0 0 1 0 14.0 0a7.0 7.0 0 1 0 -14.0 0zM1336.53 785.34a7.0 7.0 0 1 0 14.0 0a7.0 7.0 0 1 0 -14.0 0zM1338.85 780.09a7.0 7.0 0 1 0 14.0 0a7.0 7.0 0 1 0 -14.0 0zM1341.18 777.74a7.0 7.0 0 1 0 14.0 0a7.0 7.0 0 1 0 -14.0 0zM1343.5 773.82a7.0 7.0 0 1 0 14.0 0a7.0 7.0 0 1 0 -14.0 0zM1345.83 768.94a7.0 7.0 0 1 0 14.0 0a7.0 7.0 0 1 0 -14.0 0zM1348.15 760.62a7.0 7.0 0 1 0 14.0 0a7.0 7.0 0 1 0 -14.0 0zM1350.48 746.14a7.0 7.0 0 1 0 14.0 0a7.0 7.0 0 1 0 -14.0 0zM1352.8 741.98a7.0 7.0 0 1 0 14.0 0a7.0 7.0 0 1 0 -14.0 0zM1355.13 734.27a7.0 7.0 0 1 0 14.0 0a7.0 7.0 0 1 0 -14.0 0zM1357.45 719.64a7.0 7.0 0 1 0 14.0 0a7.0 7.0 0 1 0 -14.0 0zM1359.78 706.07a7.0 7.0 0 1 0 14.0 0a7.0 7.0 0 1 0 -14.0 0zM1362.1 695.1a7.0 7.0 0 1 0 14.0 0a7.0 7.0 0 1 0 -14.0 0zM1364.43 679.59a7.0 7.0 0 1 0 14.0 0a7.0 7.0 0 1 0 -14.0 0zM1366.75 668.34a7.0 7.0 0 1 0 14.0 0a7.0 7.0 0 1 0 -14.0 0zM1369.08 652.61a7.0 7.0 0 1 0 14.0 0a7.0 7.0 0 1 0 -14.0 0zM1371.4 641.91a7.0 7.0 0 1 0 14.0 0a7.0 7.0 0 1 0 -14.0 0zM1373.73 626.09a7.0 7.0 0 1 0 14.0 0a7.0 7.0 0 1 0 -14.0 0zM1376.05 610.21a7.0 7.0 0 1 0 14.0 0a7.0 7.0 0 1 0 -14.0 0zM1378.38 601.53a7.0 7.0 0 1 0 14.0 0a7.0 7.0 0 1 0 -14.0 0zM1380.7 591.89a7.0 7.0 0 1 0 14.0 0a7.0 7.0 0 1 0 -14.0 0zM1383.03 579.61a7.0 7.0 0 1 0 14.0 0a7.0 7.0 0 1 0 -14.0 0zM1385.35 573.35a7.0 7.0 0 1 0 14.0 0a7.0 7.0 0 1 0 -14.0 0zM1387.68 564.53a7.0 7.0 0 1 0 14.0 0a7.0 7.0 0 1 0 -14.0 0zM1390 570.4a7.0 7.0 0 1 0 14.0 0a7.0 7.0 0 1 0 -14.0 0zM1392.33 567.53a7.0 7.0 0 1 0 14.0 0a7.0 7.0 0 1 0 -14.0 0zM1394.65 567.07a7.0 7.0 0 1 0 14.0 0a7.0 7.0 0 1 0 -14.0 0zM1396.98 573.54a7.0 7.0 0 1 0 14.0 0a7.0 7.0 0 1 0 -14.0 0zM1399.3 585.05a7.0 7.0 0 1 0 14.0 0a7.0 7.0 0 1 0 -14.0 0zM1401.63 597.14a7.0 7.0 0 1 0 14.0 0a7.0 7.0 0 1 0 -14.0 0zM1403.95 606.42a7.0 7.0 0 1 0 14.0 0a7.0 7.0 0 1 0 -14.0 0zM1406.28 620.34a7.0 7.0 0 1 0 14.0 0a7.0 7.0 0 1 0 -14.0 0zM1408.6 630.05a7.0 7.0 0 1 0 14.0 0a7.0 7.0 0 1 0 -14.0 0zM1410.93 643.52a7.0 7.0 0 1 0 14.0 0a7.0 7.0 0 1 0 -14.0 0zM1413.25 663.15a7.0 7.0 0 1 0 14.0 0a7.0 7.0 0 1 0 -14.0 0zM1415.58 676.45a7.0 7.0 0 1 0 14.0 0a7.0 7.0 0 1 0 -14.0 0zM1417.9 689.13a7.0 7.0 0 1 0 14.0 0a7.0 7.0 0 1 0 -14.0 0zM1420.23 705.7a7.0 7.0 0 1 0 14.0 0a7.0 7.0 0 1 0 -14.0 0zM1422.55 713.05a7.0 7.0 0 1 0 14.0 0a7.0 7.0 0 1 0 -14.0 0zM1424.88 726.2a7.0 7.0 0 1 0 14.0 0a7.0 7.0 0 1 0 -14.0 0zM1427.2 740.62a7.0 7.0 0 1 0 14.0 0a7.0 7.0 0 1 0 -14.0 0zM1429.53 752.53a7.0 7.0 0 1 0 14.0 0a7.0 7.0 0 1 0 -14.0 0zM1431.85 757.1a7.0 7.0 0 1 0 14.0 0a7.0 7.0 0 1 0 -14.0 0zM1434.18 769.1a7.0 7.0 0 1 0 14.0 0a7.0 7.0 0 1 0 -14.0 0zM1436.5 770.7a7.0 7.0 0 1 0 14.0 0a7.0 7.0 0 1 0 -14.0 0zM1438.83 779.15a7.0 7.0 0 1 0 14.0 0a7.0 7.0 0 1 0 -14.0 0zM1441.15 783.39a7.0 7.0 0 1 0 14.0 0a7.0 7.0 0 1 0 -14.0 0zM1443.48 784.64a7.0 7.0 0 1 0 14.0 0a7.0 7.0 0 1 0 -14.0 0zM1445.8 793.09a7.0 7.0 0 1 0 14.0 0a7.0 7.0 0 1 0 -14.0 0zM1448.13 798.14a7.0 7.0 0 1 0 14.0 0a7.0 7.0 0 1 0 -14.0 0zM1450.45 798.41a7.0 7.0 0 1 0 14.0 0a7.0 7.0 0 1 0 -14.0 0zM1452.78 800.92a7.0 7.0 0 1 0 14.0 0a7.0 7.0 0 1 0 -14.0 0zM1455.1 806.2a7.0 7.0 0 1 0 14.0 0a7.0 7.0 0 1 0 -14.0 0zM1457.43 801.06a7.0 7.0 0 1 0 14.0 0a7.0 7.0 0 1 0 -14.0 0zM1459.75 801.13a7.0 7.0 0 1 0 14.0 0a7.0 7.0 0 1 0 -14.0 0zM1462.08 803.31a7.0 7.0 0 1 0 14.0 0a7.0 7.0 0 1 0 -14.0 0zM1464.4 801.72a7.0 7.0 0 1 0 14.0 0a7.0 7.0 0 1 0 -14.0 0zM1466.73 807.17a7.0 7.0 0 1 0 14.0 0a7.0 7.0 0 1 0 -14.0 0zM1469.05 803.76a7.0 7.0 0 1 0 14.0 0a7.0 7.0 0 1 0 -14.0 0zM1471.38 799.85a7.0 7.0 0 1 0 14.0 0a7.0 7.0 0 1 0 -14.0 0zM1473.7 799.29a7.0 7.0 0 1 0 14.0 0a7.0 7.0 0 1 0 -14.0 0zM1476.03 806.48a7.0 7.0 0 1 0 14.0 0a7.0 7.0 0 1 0 -14.0 0zM1478.35 797.04a7.0 7.0 0 1 0 14.0 0a7.0 7.0 0 1 0 -14.0 0zM1480.68 795.66a7.0 7.0 0 1 0 14.0 0a7.0 7.0 0 1 0 -14.0 0zM1483 797.3a7.0 7.0 0 1 0 14.0 0a7.0 7.0 0 1 0 -14.0 0zM1485.33 797.26a7.0 7.0 0 1 0 14.0 0a7.0 7.0 0 1 0 -14.0 0zM1487.65 795.48a7.0 7.0 0 1 0 14.0 0a7.0 7.0 0 1 0 -14.0 0zM1489.98 792.05a7.0 7.0 0 1 0 14.0 0a7.0 7.0 0 1 0 -14.0 0zM1492.3 790.76a7.0 7.0 0 1 0 14.0 0a7.0 7.0 0 1 0 -14.0 0zM1494.63 794.3a7.0 7.0 0 1 0 14.0 0a7.0 7.0 0 1 0 -14.0 0zM1496.95 792.08a7.0 7.0 0 1 0 14.0 0a7.0 7.0 0 1 0 -14.0 0zM1499.28 787.6a7.0 7.0 0 1 0 14.0 0a7.0 7.0 0 1 0 -14.0 0zM1501.6 793.67a7.0 7.0 0 1 0 14.0 0a7.0 7.0 0 1 0 -14.0 0zM1503.93 792.03a7.0 7.0 0 1 0 14.0 0a7.0 7.0 0 1 0 -14.0 0zM1506.25 788.89a7.0 7.0 0 1 0 14.0 0a7.0 7.0 0 1 0 -14.0 0zM1508.58 788.12a7.0 7.0 0 1 0 14.0 0a7.0 7.0 0 1 0 -14.0 0zM1510.9 788.57a7.0 7.0 0 1 0 14.0 0a7.0 7.0 0 1 0 -14.0 0zM1513.23 785.63a7.0 7.0 0 1 0 14.0 0a7.0 7.0 0 1 0 -14.0 0zM1515.55 783.28a7.0 7.0 0 1 0 14.0 0a7.0 7.0 0 1 0 -14.0 0zM1517.88 786.53a7.0 7.0 0 1 0 14.0 0a7.0 7.0 0 1 0 -14.0 0zM1520.2 781.52a7.0 7.0 0 1 0 14.0 0a7.0 7.0 0 1 0 -14.0 0zM1522.53 785.13a7.0 7.0 0 1 0 14.0 0a7.0 7.0 0 1 0 -14.0 0zM1524.85 779.95a7.0 7.0 0 1 0 14.0 0a7.0 7.0 0 1 0 -14.0 0zM1527.18 782.37a7.0 7.0 0 1 0 14.0 0a7.0 7.0 0 1 0 -14.0 0zM1529.5 781.49a7.0 7.0 0 1 0 14.0 0a7.0 7.0 0 1 0 -14.0 0zM1531.83 785.29a7.0 7.0 0 1 0 14.0 0a7.0 7.0 0 1 0 -14.0 0zM1534.15 777.66a7.0 7.0 0 1 0 14.0 0a7.0 7.0 0 1 0 -14.0 0zM1536.48 776.02a7.0 7.0 0 1 0 14.0 0a7.0 7.0 0 1 0 -14.0 0zM1538.8 777.08a7.0 7.0 0 1 0 14.0 0a7.0 7.0 0 1 0 -14.0 0zM1541.13 775.15a7.0 7.0 0 1 0 14.0 0a7.0 7.0 0 1 0 -14.0 0zM1543.45 775.65a7.0 7.0 0 1 0 14.0 0a7.0 7.0 0 1 0 -14.0 0zM1545.78 777.31a7.0 7.0 0 1 0 14.0 0a7.0 7.0 0 1 0 -14.0 0zM1548.1 777.4a7.0 7.0 0 1 0 14.0 0a7.0 7.0 0 1 0 -14.0 0zM1550.43 778.79a7.0 7.0 0 1 0 14.0 0a7.0 7.0 0 1 0 -14.0 0zM1552.75 772.32a7.0 7.0 0 1 0 14.0 0a7.0 7.0 0 1 0 -14.0 0zM1555.08 779.72a7.0 7.0 0 1 0 14.0 0a7.0 7.0 0 1 0 -14.0 0zM1557.4 777.47a7.0 7.0 0 1 0 14.0 0a7.0 7.0 0 1 0 -14.0 0zM1559.73 771.57a7.0 7.0 0 1 0 14.0 0a7.0 7.0 0 1 0 -14.0 0zM1562.05 765.93a7.0 7.0 0 1 0 14.0 0a7.0 7.0 0 1 0 -14.0 0zM1564.38 770.63a7.0 7.0 0 1 0 14.0 0a7.0 7.0 0 1 0 -14.0 0zM1566.7 770.43a7.0 7.0 0 1 0 14.0 0a7.0 7.0 0 1 0 -14.0 0zM1569.03 764.19a7.0 7.0 0 1 0 14.0 0a7.0 7.0 0 1 0 -14.0 0zM1571.35 769.38a7.0 7.0 0 1 0 14.0 0a7.0 7.0 0 1 0 -14.0 0zM1573.68 768.25a7.0 7.0 0 1 0 14.0 0a7.0 7.0 0 1 0 -14.0 0zM1576 766.41a7.0 7.0 0 1 0 14.0 0a7.0 7.0 0 1 0 -14.0 0zM1578.33 769.4a7.0 7.0 0 1 0 14.0 0a7.0 7.0 0 1 0 -14.0 0zM1580.65 769.95a7.0 7.0 0 1 0 14.0 0a7.0 7.0 0 1 0 -14.0 0zM1582.98 766.04a7.0 7.0 0 1 0 14.0 0a7.0 7.0 0 1 0 -14.0 0zM1585.3 767.48a7.0 7.0 0 1 0 14.0 0a7.0 7.0 0 1 0 -14.0 0zM1587.63 765.12a7.0 7.0 0 1 0 14.0 0a7.0 7.0 0 1 0 -14.0 0zM1589.95 764.61a7.0 7.0 0 1 0 14.0 0a7.0 7.0 0 1 0 -14.0 0zM1592.28 766.53a7.0 7.0 0 1 0 14.0 0a7.0 7.0 0 1 0 -14.0 0zM1594.6 767.48a7.0 7.0 0 1 0 14.0 0a7.0 7.0 0 1 0 -14.0 0zM1596.93 764.8a7.0 7.0 0 1 0 14.0 0a7.0 7.0 0 1 0 -14.0 0zM1599.25 760.81a7.0 7.0 0 1 0 14.0 0a7.0 7.0 0 1 0 -14.0 0zM1601.58 767.55a7.0 7.0 0 1 0 14.0 0a7.0 7.0 0 1 0 -14.0 0zM1603.9 762.36a7.0 7.0 0 1 0 14.0 0a7.0 7.0 0 1 0 -14.0 0zM1606.23 766.58a7.0 7.0 0 1 0 14.0 0a7.0 7.0 0 1 0 -14.0 0zM1608.55 770.7a7.0 7.0 0 1 0 14.0 0a7.0 7.0 0 1 0 -14.0 0zM1610.88 766.56a7.0 7.0 0 1 0 14.0 0a7.0 7.0 0 1 0 -14.0 0zM1613.2 763.96a7.0 7.0 0 1 0 14.0 0a7.0 7.0 0 1 0 -14.0 0zM1615.53 763.56a7.0 7.0 0 1 0 14.0 0a7.0 7.0 0 1 0 -14.0 0zM1617.85 770.16a7.0 7.0 0 1 0 14.0 0a7.0 7.0 0 1 0 -14.0 0zM1620.18 767.63a7.0 7.0 0 1 0 14.0 0a7.0 7.0 0 1 0 -14.0 0zM1622.5 769.32a7.0 7.0 0 1 0 14.0 0a7.0 7.0 0 1 0 -14.0 0zM1624.83 770.63a7.0 7.0 0 1 0 14.0 0a7.0 7.0 0 1 0 -14.0 0zM1627.15 768.7a7.0 7.0 0 1 0 14.0 0a7.0 7.0 0 1 0 -14.0 0zM1629.48 768.52a7.0 7.0 0 1 0 14.0 0a7.0 7.0 0 1 0 -14.0 0zM1631.8 767.45a7.0 7.0 0 1 0 14.0 0a7.0 7.0 0 1 0 -14.0 0zM1634.13 762.81a7.0 7.0 0 1 0 14.0 0a7.0 7.0 0 1 0 -14.0 0zM1636.45 767.07a7.0 7.0 0 1 0 14.0 0a7.0 7.0 0 1 0 -14.0 0zM1638.78 771.07a7.0 7.0 0 1 0 14.0 0a7.0 7.0 0 1 0 -14.0 0zM1641.1 771.35a7.0 7.0 0 1 0 14.0 0a7.0 7.0 0 1 0 -14.0 0zM1643.43 773.3a7.0 7.0 0 1 0 14.0 0a7.0 7.0 0 1 0 -14.0 0zM1645.75 772.59a7.0 7.0 0 1 0 14.0 0a7.0 7.0 0 1 0 -14.0 0zM1648.08 773.85a7.0 7.0 0 1 0 14.0 0a7.0 7.0 0 1 0 -14.0 0zM1650.4 775.94a7.0 7.0 0 1 0 14.0 0a7.0 7.0 0 1 0 -14.0 0zM1652.73 772.52a7.0 7.0 0 1 0 14.0 0a7.0 7.0 0 1 0 -14.0 0zM1655.05 774.55a7.0 7.0 0 1 0 14.0 0a7.0 7.0 0 1 0 -14.0 0zM1657.38 771.97a7.0 7.0 0 1 0 14.0 0a7.0 7.0 0 1 0 -14.0 0zM1659.7 778.76a7.0 7.0 0 1 0 14.0 0a7.0 7.0 0 1 0 -14.0 0zM1662.03 777.1a7.0 7.0 0 1 0 14.0 0a7.0 7.0 0 1 0 -14.0 0zM1664.35 778.77a7.0 7.0 0 1 0 14.0 0a7.0 7.0 0 1 0 -14.0 0zM1666.68 781.88a7.0 7.0 0 1 0 14.0 0a7.0 7.0 0 1 0 -14.0 0zM1669 781.34a7.0 7.0 0 1 0 14.0 0a7.0 7.0 0 1 0 -14.0 0zM1671.33 779.17a7.0 7.0 0 1 0 14.0 0a7.0 7.0 0 1 0 -14.0 0zM1673.65 781.76a7.0 7.0 0 1 0 14.0 0a7.0 7.0 0 1 0 -14.0 0zM1675.98 776.98a7.0 7.0 0 1 0 14.0 0a7.0 7.0 0 1 0 -14.0 0zM1678.3 781.99a7.0 7.0 0 1 0 14.0 0a7.0 7.0 0 1 0 -14.0 0zM1680.63 781.79a7.0 7.0 0 1 0 14.0 0a7.0 7.0 0 1 0 -14.0 0zM1682.95 778.08a7.0 7.0 0 1 0 14.0 0a7.0 7.0 0 1 0 -14.0 0zM1685.28 785.66a7.0 7.0 0 1 0 14.0 0a7.0 7.0 0 1 0 -14.0 0zM1687.6 781.23a7.0 7.0 0 1 0 14.0 0a7.0 7.0 0 1 0 -14.0 0zM1689.93 785.01a7.0 7.0 0 1 0 14.0 0a7.0 7.0 0 1 0 -14.0 0zM1692.25 782.79a7.0 7.0 0 1 0 14.0 0a7.0 7.0 0 1 0 -14.0 0zM1694.58 786.6a7.0 7.0 0 1 0 14.0 0a7.0 7.0 0 1 0 -14.0 0zM1696.9 787.77a7.0 7.0 0 1 0 14.0 0a7.0 7.0 0 1 0 -14.0 0zM1699.23 783a7.0 7.0 0 1 0 14.0 0a7.0 7.0 0 1 0 -14.0 0zM1701.55 781.68a7.0 7.0 0 1 0 14.0 0a7.0 7.0 0 1 0 -14.0 0zM1703.88 785.38a7.0 7.0 0 1 0 14.0 0a7.0 7.0 0 1 0 -14.0 0zM1706.2 788.06a7.0 7.0 0 1 0 14.0 0a7.0 7.0 0 1 0 -14.0 0zM1708.53 785.43a7.0 7.0 0 1 0 14.0 0a7.0 7.0 0 1 0 -14.0 0zM1710.85 785.13a7.0 7.0 0 1 0 14.0 0a7.0 7.0 0 1 0 -14.0 0zM1713.18 788.04a7.0 7.0 0 1 0 14.0 0a7.0 7.0 0 1 0 -14.0 0zM1715.5 780.49a7.0 7.0 0 1 0 14.0 0a7.0 7.0 0 1 0 -14.0 0zM1717.83 785.76a7.0 7.0 0 1 0 14.0 0a7.0 7.0 0 1 0 -14.0 0zM1720.15 784.24a7.0 7.0 0 1 0 14.0 0a7.0 7.0 0 1 0 -14.0 0zM1722.48 788.47a7.0 7.0 0 1 0 14.0 0a7.0 7.0 0 1 0 -14.0 0zM1724.8 786.17a7.0 7.0 0 1 0 14.0 0a7.0 7.0 0 1 0 -14.0 0zM1727.13 785.42a7.0 7.0 0 1 0 14.0 0a7.0 7.0 0 1 0 -14.0 0zM1729.45 787.4a7.0 7.0 0 1 0 14.0 0a7.0 7.0 0 1 0 -14.0 0zM1731.78 784.85a7.0 7.0 0 1 0 14.0 0a7.0 7.0 0 1 0 -14.0 0zM1734.1 788.46a7.0 7.0 0 1 0 14.0 0a7.0 7.0 0 1 0 -14.0 0zM1736.43 786.96a7.0 7.0 0 1 0 14.0 0a7.0 7.0 0 1 0 -14.0 0zM1738.75 787.78a7.0 7.0 0 1 0 14.0 0a7.0 7.0 0 1 0 -14.0 0zM1741.08 787.04a7.0 7.0 0 1 0 14.0 0a7.0 7.0 0 1 0 -14.0 0zM1743.4 791.02a7.0 7.0 0 1 0 14.0 0a7.0 7.0 0 1 0 -14.0 0zM1745.73 788.62a7.0 7.0 0 1 0 14.0 0a7.0 7.0 0 1 0 -14.0 0zM1748.05 790.18a7.0 7.0 0 1 0 14.0 0a7.0 7.0 0 1 0 -14.0 0zM1750.38 790.1a7.0 7.0 0 1 0 14.0 0a7.0 7.0 0 1 0 -14.0 0zM1752.7 787.04a7.0 7.0 0 1 0 14.0 0a7.0 7.0 0 1 0 -14.0 0zM1755.03 790.41a7.0 7.0 0 1 0 14.0 0a7.0 7.0 0 1 0 -14.0 0zM1757.35 789.99a7.0 7.0 0 1 0 14.0 0a7.0 7.0 0 1 0 -14.0 0zM1759.68 790a7.0 7.0 0 1 0 14.0 0a7.0 7.0 0 1 0 -14.0 0zM1762 788.38a7.0 7.0 0 1 0 14.0 0a7.0 7.0 0 1 0 -14.0 0zM1764.33 788.39a7.0 7.0 0 1 0 14.0 0a7.0 7.0 0 1 0 -14.0 0zM1766.65 791.38a7.0 7.0 0 1 0 14.0 0a7.0 7.0 0 1 0 -14.0 0zM1768.98 794.8a7.0 7.0 0 1 0 14.0 0a7.0 7.0 0 1 0 -14.0 0zM1771.3 787.63a7.0 7.0 0 1 0 14.0 0a7.0 7.0 0 1 0 -14.0 0zM1773.63 790.97a7.0 7.0 0 1 0 14.0 0a7.0 7.0 0 1 0 -14.0 0zM1775.95 788.86a7.0 7.0 0 1 0 14.0 0a7.0 7.0 0 1 0 -14.0 0zM1778.28 791.67a7.0 7.0 0 1 0 14.0 0a7.0 7.0 0 1 0 -14.0 0zM1780.6 790.88a7.0 7.0 0 1 0 14.0 0a7.0 7.0 0 1 0 -14.0 0zM1782.93 792.41a7.0 7.0 0 1 0 14.0 0a7.0 7.0 0 1 0 -14.0 0zM1785.25 783.19a7.0 7.0 0 1 0 14.0 0a7.0 7.0 0 1 0 -14.0 0zM1787.58 788.49a7.0 7.0 0 1 0 14.0 0a7.0 7.0 0 1 0 -14.0 0zM1789.9 787.59a7.0 7.0 0 1 0 14.0 0a7.0 7.0 0 1 0 -14.0 0z" fill="#fff" fill-opacity="0.0" stroke="#8b0000" stroke-width="3.5"/>
<polyline points="1201.7,406.4 1204.03,406.4 1206.35,406.4 1208.68,406.4 1211,406.39 1213.33,406.39 1215.65,406.39 1217.98,406.39 1220.3,406.38 1222.63,406.38 1224.95,406.37 1227.28,406.36 1229.6,406.35 1231.93,406.34 1234.25,406.32 1236.58,406.3 1238.9,406.28 1241.23,406.24 1243.55,406.2 1245.88,406.15 1248.2,406.09 1250.53,406.01 1252.85,405.91 1255.18,405.8 1257.5,405.66 1259.83,405.49 1262.15,405.29 1264.48,405.05 1266.8,404.76 1269.13,404.43 1271.45,404.05 1273.78,403.6 1276.1,403.08 1278.43,402.49 1280.75,401.82 1283.08,401.06 1285.4,400.21 1287.73,399.26 1290.05,398.2 1292.38,397.04 1294.7,395.78 1297.03,394.4 1299.35,392.92 1301.68,391.34 1304,389.66 1306.33,387.89 1308.65,386.05 1310.98,384.14 1313.3,382.19 1315.63,380.2 1317.95,378.2 1320.28,376.21 1322.6,374.25 1324.93,372.35 1327.25,370.52 1329.58,368.8 1331.9,367.21 1334.23,365.76 1336.55,364.48 1338.88,363.39 1341.2,362.49 1343.53,361.82 1345.85,361.36 1348.18,361.14 1350.5,361.14 1352.83,361.37 1355.15,361.83 1357.48,362.49 1359.8,363.36 1362.13,364.41 1364.45,365.62 1366.78,366.98 1369.1,368.46 1371.43,370.04 1373.75,371.69 1376.08,373.4 1378.4,375.14 1380.73,376.88 1383.05,378.61 1385.38,380.31 1387.7,381.96 1390.03,383.54 1392.35,385.06 1394.68,386.48 1397,387.81 1399.33,389.04 1401.65,390.18 1403.98,391.21 1406.3,392.13 1408.63,392.96 1410.95,393.69 1413.28,394.33 1415.6,394.89 1417.93,395.36 1420.25,395.76 1422.58,396.09 1424.9,396.36 1427.23,396.58 1429.55,396.75 1431.88,396.88 1434.2,396.98 1436.53,397.04 1438.85,397.08 1441.18,397.1 1443.5,397.1 1445.83,397.08 1448.15,397.06 1450.48,397.02 1452.8,396.98 1455.13,396.94 1457.45,396.89 1459.78,396.84 1462.1,396.79 1464.43,396.74 1466.75,396.7 1469.08,396.65 1471.4,396.6 1473.73,396.56 1476.05,396.52 1478.38,396.49 1480.7,396.45 1483.03,396.42 1485.35,396.39 1487.68,396.36 1490,396.33 1492.33,396.31 1494.65,396.29 1496.98,396.27 1499.3,396.25 1501.63,396.23 1503.95,396.22 1506.28,396.21 1508.6,396.19 1510.93,396.18 1513.25,396.17 1515.58,396.16 1517.9,396.16 1520.23,396.15 1522.55,396.14 1524.88,396.14 1527.2,396.13 1529.53,396.13 1531.85,396.12 1534.18,396.12 1536.5,396.12 1538.83,396.12 1541.15,396.11 1543.48,396.11 1545.8,396.11 1548.13,396.11 1550.45,396.11 1552.78,396.11 1555.1,396.11 1557.43,396.1 1559.75,396.1 1562.08,396.1 1564.4,396.1 1566.73,396.1 1569.05,396.1 1571.38,396.1 1573.7,396.1 1576.03,396.1 1578.35,396.1 1580.68,396.1 1583,396.1 1585.33,396.1 1587.65,396.1 1589.98,396.1 1592.3,396.1 1594.63,396.1 1596.95,396.1 1599.28,396.1 1601.6,396.1 1603.93,396.1 1606.25,396.1 1608.58,396.1 1610.9,396.1 1613.23,396.1 1615.55,396.1 1617.88,396.1 1620.2,396.1 1622.53,396.1 1624.85,396.1 1627.18,396.1 1629.5,396.1 1631.83,396.1 1634.15,396.1 1636.48,396.1 1638.8,396.1 1641.13,396.1 1643.45,396.1 1645.78,396.1 1648.1,396.1 1650.43,396.1 1652.75,396.1 1655.08,396.1 1657.4,396.1 1659.73,396.1 1662.05,396.1 1664.38,396.1 1666.7,396.1 1669.03,396.1 1671.35,396.1 1673.68,396.1 1676,396.1 1678.33,396.1 1680.65,396.1 1682.98,396.1 1685.3,396.1" fill="none" stroke="#ff0000" stroke-width="3.2" stroke-linejoin="round" stroke-linecap="round" />
<polyline points="1201.7,406.4 1204.03,406.4 1206.35,406.4 1208.68,406.4 1211,406.4 1213.33,406.4 1215.65,406.4 1217.98,406.4 1220.3,406.39 1222.63,406.39 1224.95,406.39 1227.28,406.39 1229.6,406.39 1231.93,406.39 1234.25,406.39 1236.58,406.38 1238.9,406.38 1241.23,406.38 1243.55,406.38 1245.88,406.37 1248.2,406.37 1250.53,406.36 1252.85,406.36 1255.18,406.35 1257.5,406.34 1259.83,406.34 1262.15,406.33 1264.48,406.32 1266.8,406.31 1269.13,406.29 1271.45,406.28 1273.78,406.26 1276.1,406.25 1278.43,406.23 1280.75,406.21 1283.08,406.18 1285.4,406.15 1287.73,406.12 1290.05,406.08 1292.38,406.03 1294.7,405.97 1297.03,405.9 1299.35,405.81 1301.68,405.69 1304,405.55 1306.33,405.36 1308.65,405.12 1310.98,404.8 1313.3,404.4 1315.63,403.88 1317.95,403.21 1320.28,402.36 1322.6,401.27 1324.93,399.9 1327.25,398.19 1329.58,396.06 1331.9,393.45 1334.23,390.27 1336.55,386.43 1338.88,381.84 1341.2,376.42 1343.53,370.08 1345.85,362.74 1348.18,354.34 1350.5,344.83 1352.83,334.2 1355.15,322.46 1357.48,309.65 1359.8,295.86 1362.13,281.21 1364.45,265.86 1366.78,250.03 1369.1,233.97 1371.43,217.95 1373.75,202.29 1376.08,187.31 1378.4,173.33 1380.73,160.7 1383.05,149.7 1385.38,140.63 1387.7,133.7 1390.03,129.11 1392.35,126.98 1394.68,127.34 1397,130.2 1399.33,135.47 1401.65,143 1403.98,152.59 1406.3,163.98 1408.63,176.89 1410.95,191 1413.28,205.97 1415.6,221.49 1417.93,237.23 1420.25,252.9 1422.58,268.22 1424.9,282.97 1427.23,296.96 1429.55,310.04 1431.88,322.11 1434.2,333.09 1436.53,342.95 1438.85,351.71 1441.18,359.39 1443.5,366.05 1445.83,371.76 1448.15,376.58 1450.48,380.63 1452.8,383.97 1455.13,386.71 1457.45,388.92 1459.78,390.69 1462.1,392.09 1464.43,393.18 1466.75,394.02 1469.08,394.66 1471.4,395.14 1473.73,395.49 1476.05,395.75 1478.38,395.93 1480.7,396.05 1483.03,396.14 1485.35,396.19 1487.68,396.22 1490,396.24 1492.33,396.25 1494.65,396.25 1496.98,396.24 1499.3,396.23 1501.63,396.22 1503.95,396.21 1506.28,396.2 1508.6,396.19 1510.93,396.18 1513.25,396.17 1515.58,396.16 1517.9,396.16 1520.23,396.15 1522.55,396.14 1524.88,396.14 1527.2,396.13 1529.53,396.13 1531.85,396.12 1534.18,396.12 1536.5,396.12 1538.83,396.12 1541.15,396.11 1543.48,396.11 1545.8,396.11 1548.13,396.11 1550.45,396.11 1552.78,396.11 1555.1,396.11 1557.43,396.1 1559.75,396.1 1562.08,396.1 1564.4,396.1 1566.73,396.1 1569.05,396.1 1571.38,396.1 1573.7,396.1 1576.03,396.1 1578.35,396.1 1580.68,396.1 1583,396.1 1585.33,396.1 1587.65,396.1 1589.98,396.1 1592.3,396.1 1594.63,396.1 1596.95,396.1 1599.28,396.1 1601.6,396.1 1603.93,396.1 1606.25,396.1 1608.58,396.1 1610.9,396.1 1613.23,396.1 1615.55,396.1 1617.88,396.1 1620.2,396.1 1622.53,396.1 1624.85,396.1 1627.18,396.1 1629.5,396.1 1631.83,396.1 1634.15,396.1 1636.48,396.1 1638.8,396.1 1641.13,396.1 1643.45,396.1 1645.78,396.1 1648.1,396.1 1650.43,396.1 1652.75,396.1 1655.08,396.1 1657.4,396.1 1659.73,396.1 1662.05,396.1 1664.38,396.1 1666.7,396.1 1669.03,396.1 1671.35,396.1 1673.68,396.1 1676,396.1 1678.33,396.1 1680.65,396.1 1682.98,396.1 1685.3,396.1" fill="none" stroke="#0000ff" stroke-width="3.4" stroke-linejoin="round" stroke-linecap="round" />
<polyline points="1201.7,406.4 1204.03,406.4 1206.35,406.4 1208.68,406.4 1211,406.4 1213.33,406.4 1215.65,406.4 1217.98,406.4 1220.3,406.39 1222.63,406.39 1224.95,406.39 1227.28,406.39 1229.6,406.39 1231.93,406.39 1234.25,406.39 1236.58,406.38 1238.9,406.38 1241.23,406.38 1243.55,406.38 1245.88,406.37 1248.2,406.37 1250.53,406.36 1252.85,406.36 1255.18,406.35 1257.5,406.34 1259.83,406.34 1262.15,406.33 1264.48,406.32 1266.8,406.31 1269.13,406.29 1271.45,406.28 1273.78,406.27 1276.1,406.25 1278.43,406.23 1280.75,406.21 1283.08,406.19 1285.4,406.17 1287.73,406.14 1290.05,406.11 1292.38,406.08 1294.7,406.04 1297.03,406.01 1299.35,405.97 1301.68,405.92 1304,405.88 1306.33,405.82 1308.65,405.77 1310.98,405.71 1313.3,405.65 1315.63,405.58 1317.95,405.51 1320.28,405.43 1322.6,405.35 1324.93,405.27 1327.25,405.18 1329.58,405.08 1331.9,404.98 1334.23,404.87 1336.55,404.76 1338.88,404.65 1341.2,404.52 1343.53,404.4 1345.85,404.26 1348.18,404.12 1350.5,403.98 1352.83,403.83 1355.15,403.68 1357.48,403.52 1359.8,403.36 1362.13,403.19 1364.45,403.02 1366.78,402.84 1369.1,402.66 1371.43,402.47 1373.75,402.28 1376.08,402.09 1378.4,401.89 1380.73,401.69 1383.05,401.48 1385.38,401.27 1387.7,401.06 1390.03,400.84 1392.35,400.62 1394.68,400.4 1397,400.17 1399.33,399.94 1401.65,399.7 1403.98,399.46 1406.3,399.22 1408.63,398.97 1410.95,398.71 1413.28,398.45 1415.6,398.19 1417.93,397.91 1420.25,397.63 1422.58,397.34 1424.9,397.05 1427.23,396.75 1429.55,396.43 1431.88,396.11 1434.2,395.78 1436.53,395.44 1438.85,395.09 1441.18,394.72 1443.5,394.35 1445.83,393.96 1448.15,393.57 1450.48,393.16 1452.8,392.74 1455.13,392.32 1457.45,391.88 1459.78,391.43 1462.1,390.97 1464.43,390.51 1466.75,390.04 1469.08,389.57 1471.4,389.09 1473.73,388.61 1476.05,388.13 1478.38,387.65 1480.7,387.17 1483.03,386.7 1485.35,386.24 1487.68,385.78 1490,385.34 1492.33,384.91 1494.65,384.5 1496.98,384.11 1499.3,383.74 1501.63,383.4 1503.95,383.08 1506.28,382.79 1508.6,382.53 1510.93,382.3 1513.25,382.1 1515.58,381.93 1517.9,381.81 1520.23,381.71 1522.55,381.66 1524.88,381.64 1527.2,381.66 1529.53,381.71 1531.85,381.8 1534.18,381.93 1536.5,382.09 1538.83,382.28 1541.15,382.5 1543.48,382.76 1545.8,383.04 1548.13,383.35 1550.45,383.68 1552.78,384.04 1555.1,384.41 1557.43,384.8 1559.75,385.21 1562.08,385.62 1564.4,386.05 1566.73,386.48 1569.05,386.92 1571.38,387.36 1573.7,387.8 1576.03,388.23 1578.35,388.67 1580.68,389.09 1583,389.51 1585.33,389.92 1587.65,390.32 1589.98,390.7 1592.3,391.08 1594.63,391.43 1596.95,391.78 1599.28,392.11 1601.6,392.42 1603.93,392.72 1606.25,393 1608.58,393.26 1610.9,393.51 1613.23,393.74 1615.55,393.96 1617.88,394.16 1620.2,394.35 1622.53,394.52 1624.85,394.68 1627.18,394.83 1629.5,394.96 1631.83,395.08 1634.15,395.2 1636.48,395.3 1638.8,395.39 1641.13,395.47 1643.45,395.55 1645.78,395.61 1648.1,395.67 1650.43,395.73 1652.75,395.77 1655.08,395.82 1657.4,395.85 1659.73,395.89 1662.05,395.92 1664.38,395.94 1666.7,395.96 1669.03,395.98 1671.35,396 1673.68,396.01 1676,396.03 1678.33,396.04 1680.65,396.05 1682.98,396.06 1685.3,396.06" fill="none" stroke="#ff00ff" stroke-width="3.2" stroke-linejoin="round" stroke-linecap="round" />
<polyline points="1201.7,406.4 1204.03,406.4 1206.35,406.4 1208.68,406.4 1211,406.4 1213.33,406.4 1215.65,406.4 1217.98,406.4 1220.3,406.39 1222.63,406.39 1224.95,406.39 1227.28,406.39 1229.6,406.39 1231.93,406.39 1234.25,406.39 1236.58,406.38 1238.9,406.38 1241.23,406.38 1243.55,406.38 1245.88,406.37 1248.2,406.37 1250.53,406.36 1252.85,406.36 1255.18,406.35 1257.5,406.34 1259.83,406.34 1262.15,406.33 1264.48,406.32 1266.8,406.31 1269.13,406.29 1271.45,406.28 1273.78,406.27 1276.1,406.25 1278.43,406.23 1280.75,406.21 1283.08,406.19 1285.4,406.17 1287.73,406.14 1290.05,406.11 1292.38,406.08 1294.7,406.04 1297.03,406.01 1299.35,405.97 1301.68,405.92 1304,405.88 1306.33,405.83 1308.65,405.77 1310.98,405.71 1313.3,405.65 1315.63,405.58 1317.95,405.51 1320.28,405.43 1322.6,405.35 1324.93,405.27 1327.25,405.18 1329.58,405.08 1331.9,404.98 1334.23,404.88 1336.55,404.77 1338.88,404.65 1341.2,404.53 1343.53,404.4 1345.85,404.27 1348.18,404.14 1350.5,403.99 1352.83,403.85 1355.15,403.7 1357.48,403.54 1359.8,403.38 1362.13,403.22 1364.45,403.06 1366.78,402.89 1369.1,402.71 1371.43,402.54 1373.75,402.36 1376.08,402.18 1378.4,401.99 1380.73,401.81 1383.05,401.62 1385.38,401.44 1387.7,401.25 1390.03,401.06 1392.35,400.88 1394.68,400.69 1397,400.51 1399.33,400.32 1401.65,400.14 1403.98,399.96 1406.3,399.79 1408.63,399.61 1410.95,399.44 1413.28,399.28 1415.6,399.12 1417.93,398.96 1420.25,398.8 1422.58,398.65 1424.9,398.51 1427.23,398.36 1429.55,398.23 1431.88,398.1 1434.2,397.97 1436.53,397.85 1438.85,397.73 1441.18,397.62 1443.5,397.52 1445.83,397.42 1448.15,397.32 1450.48,397.23 1452.8,397.15 1455.13,397.07 1457.45,396.99 1459.78,396.92 1462.1,396.85 1464.43,396.79 1466.75,396.73 1469.08,396.67 1471.4,396.62 1473.73,396.58 1476.05,396.53 1478.38,396.49 1480.7,396.46 1483.03,396.42 1485.35,396.39 1487.68,396.36 1490,396.33 1492.33,396.31 1494.65,396.29 1496.98,396.27 1499.3,396.25 1501.63,396.23 1503.95,396.22 1506.28,396.21 1508.6,396.19 1510.93,396.18 1513.25,396.17 1515.58,396.16 1517.9,396.16 1520.23,396.15 1522.55,396.14 1524.88,396.14 1527.2,396.13 1529.53,396.13 1531.85,396.12 1534.18,396.12 1536.5,396.12 1538.83,396.12 1541.15,396.11 1543.48,396.11 1545.8,396.11 1548.13,396.11 1550.45,396.11 1552.78,396.11 1555.1,396.11 1557.43,396.1 1559.75,396.1 1562.08,396.1 1564.4,396.1 1566.73,396.1 1569.05,396.1 1571.38,396.1 1573.7,396.1 1576.03,396.1 1578.35,396.1 1580.68,396.1 1583,396.1 1585.33,396.1 1587.65,396.1 1589.98,396.1 1592.3,396.1 1594.63,396.1 1596.95,396.1 1599.28,396.1 1601.6,396.1 1603.93,396.1 1606.25,396.1 1608.58,396.1 1610.9,396.1 1613.23,396.1 1615.55,396.1 1617.88,396.1 1620.2,396.1 1622.53,396.1 1624.85,396.1 1627.18,396.1 1629.5,396.1 1631.83,396.1 1634.15,396.1 1636.48,396.1 1638.8,396.1 1641.13,396.1 1643.45,396.1 1645.78,396.1 1648.1,396.1 1650.43,396.1 1652.75,396.1 1655.08,396.1 1657.4,396.1 1659.73,396.1 1662.05,396.1 1664.38,396.1 1666.7,396.1 1669.03,396.1 1671.35,396.1 1673.68,396.1 1676,396.1 1678.33,396.1 1680.65,396.1 1682.98,396.1 1685.3,396.1" fill="none" stroke="#00ff00" stroke-width="3.6" stroke-linejoin="round" stroke-linecap="round" />
<polyline points="1099.4,406.4 1101.73,406.4 1104.05,406.4 1106.38,406.4 1108.7,406.4 1111.03,406.4 1113.35,406.4 1115.68,406.4 1118,406.4 1120.33,406.4 1122.65,406.4 1124.98,406.4 1127.3,406.4 1129.63,406.4 1131.95,406.4 1134.28,406.4 1136.6,406.4 1138.93,406.4 1141.25,406.4 1143.58,406.4 1145.9,406.4 1148.23,406.4 1150.55,406.4 1152.88,406.4 1155.2,406.4 1157.53,406.4 1159.85,406.4 1162.18,406.4 1164.5,406.4 1166.83,406.4 1169.15,406.4 1171.48,406.4 1173.8,406.4 1176.13,406.4 1178.45,406.4 1180.78,406.4 1183.1,406.4 1185.43,406.4 1187.75,406.4 1190.08,406.4 1192.4,406.4 1194.73,406.4 1197.05,406.4 1199.38,406.4 1201.7,406.4 1204.03,406.4 1206.35,406.4 1208.68,406.4 1211,406.39 1213.33,406.39 1215.65,406.39 1217.98,406.39 1220.3,406.38 1222.63,406.38 1224.95,406.37 1227.28,406.36 1229.6,406.35 1231.93,406.34 1234.25,406.32 1236.58,406.3 1238.9,406.28 1241.23,406.24 1243.55,406.2 1245.88,406.15 1248.2,406.09 1250.53,406.01 1252.85,405.91 1255.18,405.8 1257.5,405.66 1259.83,405.49 1262.15,405.29 1264.48,405.05 1266.8,404.76 1269.13,404.43 1271.45,404.05 1273.78,403.6 1276.1,403.08 1278.43,402.49 1280.75,401.81 1283.08,401.05 1285.4,400.19 1287.73,399.23 1290.05,398.17 1292.38,396.99 1294.7,395.7 1297.03,394.29 1299.35,392.76 1301.68,391.11 1304,389.33 1306.33,387.43 1308.65,385.4 1310.98,383.23 1313.3,380.94 1315.63,378.5 1317.95,375.9 1320.28,373.13 1322.6,370.17 1324.93,366.98 1327.25,363.53 1329.58,359.78 1331.9,355.67 1334.23,351.15 1336.55,346.14 1338.88,340.58 1341.2,334.38 1343.53,327.49 1345.85,319.82 1348.18,311.33 1350.5,301.97 1352.83,291.71 1355.15,280.57 1357.48,268.58 1359.8,255.81 1362.13,242.36 1364.45,228.39 1366.78,214.08 1369.1,199.66 1371.43,185.39 1373.75,171.55 1376.08,158.44 1378.4,146.37 1380.73,135.65 1383.05,126.55 1385.38,119.34 1387.7,114.22 1390.03,111.38 1392.35,110.9 1394.68,112.84 1397,117.17 1399.33,123.81 1401.65,132.59 1403.98,143.33 1406.3,155.76 1408.63,169.59 1410.95,184.51 1413.28,200.2 1415.6,216.33 1417.93,232.59 1420.25,248.68 1422.58,264.36 1424.9,279.38 1427.23,293.56 1429.55,306.78 1431.88,318.91 1434.2,329.9 1436.53,339.73 1438.85,348.41 1441.18,355.97 1443.5,362.46 1445.83,367.97 1448.15,372.56 1450.48,376.35 1452.8,379.4 1455.13,381.83 1457.45,383.71 1459.78,385.13 1462.1,386.15 1464.43,386.86 1466.75,387.3 1469.08,387.52 1471.4,387.58 1473.73,387.51 1476.05,387.33 1478.38,387.07 1480.7,386.76 1483.03,386.41 1485.35,386.04 1487.68,385.64 1490,385.25 1492.33,384.85 1494.65,384.46 1496.98,384.08 1499.3,383.73 1501.63,383.39 1503.95,383.07 1506.28,382.78 1508.6,382.52 1510.93,382.29 1513.25,382.1 1515.58,381.93 1517.9,381.81 1520.23,381.71 1522.55,381.66 1524.88,381.64 1527.2,381.66 1529.53,381.71 1531.85,381.8 1534.18,381.93 1536.5,382.09 1538.83,382.28 1541.15,382.5 1543.48,382.76 1545.8,383.04 1548.13,383.35 1550.45,383.68 1552.78,384.04 1555.1,384.41 1557.43,384.8 1559.75,385.21 1562.08,385.62 1564.4,386.05 1566.73,386.48 1569.05,386.92 1571.38,387.36 1573.7,387.8 1576.03,388.23 1578.35,388.67 1580.68,389.09 1583,389.51 1585.33,389.92 1587.65,390.32 1589.98,390.7 1592.3,391.08 1594.63,391.43 1596.95,391.78 1599.28,392.11 1601.6,392.42 1603.93,392.72 1606.25,393 1608.58,393.26 1610.9,393.51 1613.23,393.74 1615.55,393.96 1617.88,394.16 1620.2,394.35 1622.53,394.52 1624.85,394.68 1627.18,394.83 1629.5,394.96 1631.83,395.08 1634.15,395.2 1636.48,395.3 1638.8,395.39 1641.13,395.47 1643.45,395.55 1645.78,395.61 1648.1,395.67 1650.43,395.73 1652.75,395.77 1655.08,395.82 1657.4,395.85 1659.73,395.89 1662.05,395.92 1664.38,395.94 1666.7,395.96 1669.03,395.98 1671.35,396 1673.68,396.01 1676,396.03 1678.33,396.04 1680.65,396.05 1682.98,396.06 1685.3,396.06 1687.63,396.07 1689.95,396.07 1692.28,396.08 1694.6,396.08 1696.93,396.08 1699.25,396.09 1701.58,396.09 1703.9,396.09 1706.23,396.09 1708.55,396.09 1710.88,396.1 1713.2,396.1 1715.53,396.1 1717.85,396.1 1720.18,396.1 1722.5,396.1 1724.83,396.1 1727.15,396.1 1729.48,396.1 1731.8,396.1 1734.13,396.1 1736.45,396.1 1738.78,396.1 1741.1,396.1 1743.43,396.1 1745.75,396.1 1748.08,396.1 1750.4,396.1 1752.73,396.1 1755.05,396.1 1757.38,396.1 1759.7,396.1 1762.03,396.1 1764.35,396.1 1766.68,396.1 1769,396.1 1771.33,396.1 1773.65,396.1 1775.98,396.1 1778.3,396.1 1780.63,396.1 1782.95,396.1 1785.28,396.1 1787.6,396.1 1789.93,396.1 1792.25,396.1 1794.58,396.1 1796.9,396.1" fill="none" stroke="#000" stroke-width="4.2" stroke-linejoin="round" stroke-linecap="round" />
<polyline points="1192.4,831 1194.73,830.99 1197.05,830.99 1199.38,830.99 1201.7,830.99 1204.03,830.98 1206.35,830.98 1208.68,830.97 1211,830.96 1213.33,830.95 1215.65,830.94 1217.98,830.93 1220.3,830.91 1222.63,830.89 1224.95,830.86 1227.28,830.83 1229.6,830.78 1231.93,830.74 1234.25,830.68 1236.58,830.61 1238.9,830.52 1241.23,830.43 1243.55,830.31 1245.88,830.18 1248.2,830.02 1250.53,829.84 1252.85,829.63 1255.18,829.39 1257.5,829.12 1259.83,828.81 1262.15,828.46 1264.48,828.07 1266.8,827.64 1269.13,827.15 1271.45,826.62 1273.78,826.04 1276.1,825.4 1278.43,824.71 1280.75,823.97 1283.08,823.17 1285.4,822.32 1287.73,821.42 1290.05,820.47 1292.38,819.48 1294.7,818.45 1297.03,817.39 1299.35,816.3 1301.68,815.2 1304,814.09 1306.33,812.97 1308.65,811.87 1310.98,810.78 1313.3,809.72 1315.63,808.71 1317.95,807.74 1320.28,806.83 1322.6,805.98 1324.93,805.22 1327.25,804.53 1329.58,803.94 1331.9,803.44 1334.23,803.04 1336.55,802.73 1338.88,802.53 1341.2,802.42 1343.53,802.41 1345.85,802.49 1348.18,802.66 1350.5,802.91 1352.83,803.23 1355.15,803.6 1357.48,804.04 1359.8,804.51 1362.13,805.01 1364.45,805.54 1366.78,806.07 1369.1,806.6 1371.43,807.13 1373.75,807.63 1376.08,808.11 1378.4,808.55 1380.73,808.95 1383.05,809.3 1385.38,809.61 1387.7,809.86 1390.03,810.06 1392.35,810.2 1394.68,810.29 1397,810.33 1399.33,810.31 1401.65,810.25 1403.98,810.15 1406.3,810.01 1408.63,809.83 1410.95,809.62 1413.28,809.39 1415.6,809.13 1417.93,808.86 1420.25,808.58 1422.58,808.29 1424.9,808 1427.23,807.71 1429.55,807.42 1431.88,807.14 1434.2,806.87 1436.53,806.61 1438.85,806.36 1441.18,806.12 1443.5,805.9 1445.83,805.7 1448.15,805.51 1450.48,805.23 1452.8,804.97 1455.13,804.72 1457.45,804.48 1459.78,804.26 1462.1,804.05 1464.43,803.86 1466.75,803.67 1469.08,803.5 1471.4,803.33 1473.73,803.17 1476.05,803.02 1478.38,802.88 1480.7,802.74 1483.03,802.61 1485.35,802.48 1487.68,802.36 1490,802.23 1492.33,802.12 1494.65,802 1496.98,801.89 1499.3,801.78 1501.63,801.67 1503.95,801.56 1506.28,801.45 1508.6,801.34 1510.93,801.24 1513.25,801.13 1515.58,801.03 1517.9,800.93 1520.23,800.82 1522.55,800.72 1524.88,800.61 1527.2,800.51 1529.53,800.41 1531.85,800.3 1534.18,800.2 1536.5,800.1 1538.83,800 1541.15,799.89 1543.48,799.79 1545.8,799.69 1548.13,799.58 1550.45,799.48 1552.78,799.38 1555.1,799.28 1557.43,799.17 1559.75,799.07 1562.08,798.97 1564.4,798.87 1566.73,798.76 1569.05,798.66 1571.38,798.56 1573.7,798.46 1576.03,798.35 1578.35,798.25 1580.68,798.15 1583,798.04 1585.33,797.94 1587.65,797.84 1589.98,797.74 1592.3,797.63 1594.63,797.53 1596.95,797.43 1599.28,797.33 1601.6,797.22 1603.93,797.12 1606.25,797.02 1608.58,796.92 1610.9,796.81 1613.23,796.71 1615.55,796.61 1617.88,796.5 1620.2,796.4 1622.53,796.3 1624.85,796.2 1627.18,796.09 1629.5,795.99 1631.83,795.89 1634.15,795.79 1636.48,795.68 1638.8,795.58 1641.13,795.48 1643.45,795.38 1645.78,795.27 1648.1,795.17 1650.43,795.07 1652.75,794.96 1655.08,794.86 1657.4,794.76 1659.73,794.66 1662.05,794.55 1664.38,794.45 1666.7,794.35 1669.03,794.25 1671.35,794.14 1673.68,794.04 1676,793.94 1678.33,793.83 1680.65,793.73 1682.98,793.63 1685.3,793.53 1687.63,793.42 1689.95,793.32 1692.28,793.22 1694.6,793.12 1696.93,793.01 1699.25,792.91 1701.58,792.81 1703.9,792.71 1706.23,792.6 1708.55,792.5 1710.88,792.4 1713.2,792.29 1715.53,792.19 1717.85,792.09 1720.18,791.99 1722.5,791.88 1724.83,791.78 1727.15,791.68 1729.48,791.58 1731.8,791.47 1734.13,791.37 1736.45,791.27 1738.78,791.17 1741.1,791.06 1743.43,790.96 1745.75,790.86 1748.08,790.75" fill="none" stroke="#ff0000" stroke-width="3.2" stroke-linejoin="round" stroke-linecap="round" />
<polyline points="1192.4,831 1194.73,831 1197.05,831 1199.38,831 1201.7,831 1204.03,831 1206.35,831 1208.68,831 1211,831 1213.33,831 1215.65,831 1217.98,831 1220.3,831 1222.63,831 1224.95,831 1227.28,831 1229.6,831 1231.93,831 1234.25,831 1236.58,831 1238.9,831 1241.23,831 1243.55,831 1245.88,831 1248.2,831 1250.53,831 1252.85,831 1255.18,831 1257.5,831 1259.83,831 1262.15,831 1264.48,831 1266.8,831 1269.13,831 1271.45,830.99 1273.78,830.99 1276.1,830.99 1278.43,830.99 1280.75,830.98 1283.08,830.98 1285.4,830.97 1287.73,830.97 1290.05,830.96 1292.38,830.95 1294.7,830.93 1297.03,830.91 1299.35,830.88 1301.68,830.85 1304,830.8 1306.33,830.74 1308.65,830.66 1310.98,830.55 1313.3,830.4 1315.63,830.21 1317.95,829.95 1320.28,829.61 1322.6,829.16 1324.93,828.58 1327.25,827.82 1329.58,826.86 1331.9,825.62 1334.23,824.06 1336.55,822.11 1338.88,819.7 1341.2,816.73 1343.53,813.13 1345.85,808.81 1348.18,803.67 1350.5,797.64 1352.83,790.64 1355.15,782.61 1357.48,773.51 1359.8,763.33 1362.13,752.1 1364.45,739.86 1366.78,726.72 1369.1,712.82 1371.43,698.35 1373.75,683.53 1376.08,668.63 1378.4,653.94 1380.73,639.78 1383.05,626.47 1385.38,614.34 1387.7,603.7 1390.03,594.82 1392.35,587.94 1394.68,583.24 1397,580.84 1399.33,580.79 1401.65,583.09 1403.98,587.64 1406.3,594.29 1408.63,602.83 1410.95,613.01 1413.28,624.54 1415.6,637.1 1417.93,650.37 1420.25,664.04 1422.58,677.79 1424.9,691.36 1427.23,704.51 1429.55,717.02 1431.88,728.75 1434.2,739.57 1436.53,749.41 1438.85,758.23 1441.18,766.04 1443.5,772.85 1445.83,778.71 1448.15,783.69 1450.48,787.77 1452.8,791.14 1455.13,793.87 1457.45,796.06 1459.78,797.79 1462.1,799.13 1464.43,800.15 1466.75,800.91 1469.08,801.45 1471.4,801.84 1473.73,802.09 1476.05,802.25 1478.38,802.33 1480.7,802.36 1483.03,802.34 1485.35,802.3 1487.68,802.23 1490,802.15 1492.33,802.06 1494.65,801.96 1496.98,801.86 1499.3,801.76 1501.63,801.66 1503.95,801.55 1506.28,801.45 1508.6,801.34 1510.93,801.24 1513.25,801.13 1515.58,801.03 1517.9,800.92 1520.23,800.82 1522.55,800.72 1524.88,800.61 1527.2,800.51 1529.53,800.41 1531.85,800.3 1534.18,800.2 1536.5,800.1 1538.83,800 1541.15,799.89 1543.48,799.79 1545.8,799.69 1548.13,799.58 1550.45,799.48 1552.78,799.38 1555.1,799.28 1557.43,799.17 1559.75,799.07 1562.08,798.97 1564.4,798.87 1566.73,798.76 1569.05,798.66 1571.38,798.56 1573.7,798.46 1576.03,798.35 1578.35,798.25 1580.68,798.15 1583,798.04 1585.33,797.94 1587.65,797.84 1589.98,797.74 1592.3,797.63 1594.63,797.53 1596.95,797.43 1599.28,797.33 1601.6,797.22 1603.93,797.12 1606.25,797.02 1608.58,796.92 1610.9,796.81 1613.23,796.71 1615.55,796.61 1617.88,796.5 1620.2,796.4 1622.53,796.3 1624.85,796.2 1627.18,796.09 1629.5,795.99 1631.83,795.89 1634.15,795.79 1636.48,795.68 1638.8,795.58 1641.13,795.48 1643.45,795.38 1645.78,795.27 1648.1,795.17 1650.43,795.07 1652.75,794.96 1655.08,794.86 1657.4,794.76 1659.73,794.66 1662.05,794.55 1664.38,794.45 1666.7,794.35 1669.03,794.25 1671.35,794.14 1673.68,794.04 1676,793.94 1678.33,793.83 1680.65,793.73 1682.98,793.63 1685.3,793.53 1687.63,793.42 1689.95,793.32 1692.28,793.22 1694.6,793.12 1696.93,793.01 1699.25,792.91 1701.58,792.81 1703.9,792.71 1706.23,792.6 1708.55,792.5 1710.88,792.4 1713.2,792.29 1715.53,792.19 1717.85,792.09 1720.18,791.99 1722.5,791.88 1724.83,791.78 1727.15,791.68 1729.48,791.58 1731.8,791.47 1734.13,791.37 1736.45,791.27 1738.78,791.17 1741.1,791.06 1743.43,790.96 1745.75,790.86 1748.08,790.75" fill="none" stroke="#0000ff" stroke-width="3.4" stroke-linejoin="round" stroke-linecap="round" />
<polyline points="1192.4,831 1194.73,831 1197.05,831 1199.38,831 1201.7,831 1204.03,831 1206.35,831 1208.68,831 1211,831 1213.33,831 1215.65,831 1217.98,831 1220.3,831 1222.63,831 1224.95,831 1227.28,831 1229.6,831 1231.93,831 1234.25,831 1236.58,831 1238.9,831 1241.23,831 1243.55,831 1245.88,831 1248.2,831 1250.53,831 1252.85,831 1255.18,831 1257.5,831 1259.83,831 1262.15,831 1264.48,831 1266.8,831 1269.13,831 1271.45,830.99 1273.78,830.99 1276.1,830.99 1278.43,830.99 1280.75,830.99 1283.08,830.98 1285.4,830.98 1287.73,830.97 1290.05,830.96 1292.38,830.95 1294.7,830.94 1297.03,830.93 1299.35,830.92 1301.68,830.9 1304,830.87 1306.33,830.85 1308.65,830.82 1310.98,830.78 1313.3,830.73 1315.63,830.68 1317.95,830.62 1320.28,830.55 1322.6,830.48 1324.93,830.38 1327.25,830.28 1329.58,830.16 1331.9,830.03 1334.23,829.88 1336.55,829.71 1338.88,829.52 1341.2,829.3 1343.53,829.07 1345.85,828.81 1348.18,828.53 1350.5,828.22 1352.83,827.88 1355.15,827.52 1357.48,827.12 1359.8,826.7 1362.13,826.24 1364.45,825.76 1366.78,825.25 1369.1,824.71 1371.43,824.14 1373.75,823.55 1376.08,822.93 1378.4,822.29 1380.73,821.63 1383.05,820.95 1385.38,820.25 1387.7,819.54 1390.03,818.82 1392.35,818.09 1394.68,817.36 1397,816.62 1399.33,815.89 1401.65,815.16 1403.98,814.44 1406.3,813.72 1408.63,813.02 1410.95,812.33 1413.28,811.66 1415.6,811.01 1417.93,810.38 1420.25,809.76 1422.58,809.17 1424.9,808.61 1427.23,808.06 1429.55,807.54 1431.88,807.04 1434.2,806.56 1436.53,806.11 1438.85,805.67 1441.18,805.25 1443.5,804.85 1445.83,804.46 1448.15,804.09 1450.48,803.63 1452.8,803.17 1455.13,802.73 1457.45,802.29 1459.78,801.85 1462.1,801.42 1464.43,800.99 1466.75,800.55 1469.08,800.11 1471.4,799.67 1473.73,799.22 1476.05,798.76 1478.38,798.29 1480.7,797.8 1483.03,797.31 1485.35,796.8 1487.68,796.28 1490,795.74 1492.33,795.19 1494.65,794.62 1496.98,794.04 1499.3,793.43 1501.63,792.81 1503.95,792.18 1506.28,791.52 1508.6,790.85 1510.93,790.17 1513.25,789.46 1515.58,788.75 1517.9,788.02 1520.23,787.27 1522.55,786.52 1524.88,785.75 1527.2,784.98 1529.53,784.2 1531.85,783.41 1534.18,782.61 1536.5,781.81 1538.83,781.01 1541.15,780.22 1543.48,779.42 1545.8,778.63 1548.13,777.84 1550.45,777.07 1552.78,776.3 1555.1,775.55 1557.43,774.81 1559.75,774.09 1562.08,773.39 1564.4,772.71 1566.73,772.06 1569.05,771.43 1571.38,770.82 1573.7,770.25 1576.03,769.71 1578.35,769.2 1580.68,768.73 1583,768.29 1585.33,767.89 1587.65,767.53 1589.98,767.21 1592.3,766.93 1594.63,766.69 1596.95,766.49 1599.28,766.34 1601.6,766.22 1603.93,766.15 1606.25,766.13 1608.58,766.14 1610.9,766.2 1613.23,766.29 1615.55,766.43 1617.88,766.6 1620.2,766.82 1622.53,767.07 1624.85,767.35 1627.18,767.67 1629.5,768.03 1631.83,768.41 1634.15,768.82 1636.48,769.26 1638.8,769.72 1641.13,770.21 1643.45,770.71 1645.78,771.23 1648.1,771.77 1650.43,772.33 1652.75,772.89 1655.08,773.47 1657.4,774.05 1659.73,774.64 1662.05,775.23 1664.38,775.83 1666.7,776.42 1669.03,777.01 1671.35,777.6 1673.68,778.18 1676,778.75 1678.33,779.32 1680.65,779.87 1682.98,780.41 1685.3,780.94 1687.63,781.46 1689.95,781.96 1692.28,782.45 1694.6,782.92 1696.93,783.37 1699.25,783.8 1701.58,784.22 1703.9,784.62 1706.23,785 1708.55,785.36 1710.88,785.7 1713.2,786.02 1715.53,786.32 1717.85,786.61 1720.18,786.87 1722.5,787.12 1724.83,787.35 1727.15,787.56 1729.48,787.76 1731.8,787.94 1734.13,788.1 1736.45,788.25 1738.78,788.38 1741.1,788.49 1743.43,788.6 1745.75,788.69 1748.08,788.76" fill="none" stroke="#ff00ff" stroke-width="3.2" stroke-linejoin="round" stroke-linecap="round" />
<polyline points="1192.4,831 1194.73,831 1197.05,831 1199.38,831 1201.7,831 1204.03,831 1206.35,831 1208.68,831 1211,831 1213.33,831 1215.65,831 1217.98,831 1220.3,831 1222.63,831 1224.95,831 1227.28,831 1229.6,831 1231.93,831 1234.25,831 1236.58,831 1238.9,831 1241.23,831 1243.55,831 1245.88,831 1248.2,831 1250.53,831 1252.85,831 1255.18,831 1257.5,831 1259.83,831 1262.15,831 1264.48,831 1266.8,831 1269.13,831 1271.45,830.99 1273.78,830.99 1276.1,830.99 1278.43,830.99 1280.75,830.99 1283.08,830.98 1285.4,830.98 1287.73,830.97 1290.05,830.96 1292.38,830.95 1294.7,830.94 1297.03,830.93 1299.35,830.92 1301.68,830.9 1304,830.87 1306.33,830.85 1308.65,830.82 1310.98,830.78 1313.3,830.73 1315.63,830.68 1317.95,830.62 1320.28,830.56 1322.6,830.48 1324.93,830.39 1327.25,830.28 1329.58,830.16 1331.9,830.03 1334.23,829.88 1336.55,829.71 1338.88,829.52 1341.2,829.31 1343.53,829.08 1345.85,828.82 1348.18,828.54 1350.5,828.23 1352.83,827.89 1355.15,827.53 1357.48,827.14 1359.8,826.72 1362.13,826.27 1364.45,825.79 1366.78,825.28 1369.1,824.74 1371.43,824.18 1373.75,823.6 1376.08,822.98 1378.4,822.35 1380.73,821.7 1383.05,821.03 1385.38,820.34 1387.7,819.64 1390.03,818.93 1392.35,818.22 1394.68,817.5 1397,816.78 1399.33,816.07 1401.65,815.36 1403.98,814.66 1406.3,813.97 1408.63,813.3 1410.95,812.65 1413.28,812.02 1415.6,811.4 1417.93,810.82 1420.25,810.26 1422.58,809.72 1424.9,809.21 1427.23,808.73 1429.55,808.28 1431.88,807.86 1434.2,807.47 1436.53,807.11 1438.85,806.77 1441.18,806.46 1443.5,806.18 1445.83,805.92 1448.15,805.69 1450.48,805.38 1452.8,805.08 1455.13,804.81 1457.45,804.56 1459.78,804.32 1462.1,804.1 1464.43,803.9 1466.75,803.7 1469.08,803.52 1471.4,803.35 1473.73,803.19 1476.05,803.03 1478.38,802.89 1480.7,802.75 1483.03,802.61 1485.35,802.48 1487.68,802.36 1490,802.24 1492.33,802.12 1494.65,802 1496.98,801.89 1499.3,801.78 1501.63,801.67 1503.95,801.56 1506.28,801.45 1508.6,801.35 1510.93,801.24 1513.25,801.13 1515.58,801.03 1517.9,800.93 1520.23,800.82 1522.55,800.72 1524.88,800.61 1527.2,800.51 1529.53,800.41 1531.85,800.3 1534.18,800.2 1536.5,800.1 1538.83,800 1541.15,799.89 1543.48,799.79 1545.8,799.69 1548.13,799.58 1550.45,799.48 1552.78,799.38 1555.1,799.28 1557.43,799.17 1559.75,799.07 1562.08,798.97 1564.4,798.87 1566.73,798.76 1569.05,798.66 1571.38,798.56 1573.7,798.46 1576.03,798.35 1578.35,798.25 1580.68,798.15 1583,798.04 1585.33,797.94 1587.65,797.84 1589.98,797.74 1592.3,797.63 1594.63,797.53 1596.95,797.43 1599.28,797.33 1601.6,797.22 1603.93,797.12 1606.25,797.02 1608.58,796.92 1610.9,796.81 1613.23,796.71 1615.55,796.61 1617.88,796.5 1620.2,796.4 1622.53,796.3 1624.85,796.2 1627.18,796.09 1629.5,795.99 1631.83,795.89 1634.15,795.79 1636.48,795.68 1638.8,795.58 1641.13,795.48 1643.45,795.38 1645.78,795.27 1648.1,795.17 1650.43,795.07 1652.75,794.96 1655.08,794.86 1657.4,794.76 1659.73,794.66 1662.05,794.55 1664.38,794.45 1666.7,794.35 1669.03,794.25 1671.35,794.14 1673.68,794.04 1676,793.94 1678.33,793.83 1680.65,793.73 1682.98,793.63 1685.3,793.53 1687.63,793.42 1689.95,793.32 1692.28,793.22 1694.6,793.12 1696.93,793.01 1699.25,792.91 1701.58,792.81 1703.9,792.71 1706.23,792.6 1708.55,792.5 1710.88,792.4 1713.2,792.29 1715.53,792.19 1717.85,792.09 1720.18,791.99 1722.5,791.88 1724.83,791.78 1727.15,791.68 1729.48,791.58 1731.8,791.47 1734.13,791.37 1736.45,791.27 1738.78,791.17 1741.1,791.06 1743.43,790.96 1745.75,790.86 1748.08,790.75" fill="none" stroke="#00ff00" stroke-width="3.6" stroke-linejoin="round" stroke-linecap="round" />
<polyline points="1099.4,823.5 1101.73,823.52 1104.05,823.59 1106.38,823.71 1108.7,823.86 1111.03,824.06 1113.35,824.29 1115.68,824.55 1118,824.84 1120.33,825.16 1122.65,825.49 1124.98,825.84 1127.3,826.19 1129.63,826.55 1131.95,826.9 1134.28,827.25 1136.6,827.6 1138.93,827.93 1141.25,828.24 1143.58,828.54 1145.9,828.82 1148.23,829.08 1150.55,829.32 1152.88,829.53 1155.2,829.73 1157.53,829.91 1159.85,830.07 1162.18,830.21 1164.5,830.33 1166.83,830.44 1169.15,830.53 1171.48,830.61 1173.8,830.68 1176.13,830.74 1178.45,830.79 1180.78,830.83 1183.1,830.86 1185.43,830.89 1187.75,830.91 1190.08,830.93 1192.4,830.94 1194.73,830.95 1197.05,830.96 1199.38,830.97 1201.7,830.97 1204.03,830.97 1206.35,830.97 1208.68,830.96 1211,830.96 1213.33,830.95 1215.65,830.94 1217.98,830.93 1220.3,830.91 1222.63,830.89 1224.95,830.86 1227.28,830.82 1229.6,830.78 1231.93,830.74 1234.25,830.68 1236.58,830.61 1238.9,830.52 1241.23,830.43 1243.55,830.31 1245.88,830.18 1248.2,830.02 1250.53,829.84 1252.85,829.63 1255.18,829.39 1257.5,829.12 1259.83,828.81 1262.15,828.46 1264.48,828.07 1266.8,827.64 1269.13,827.15 1271.45,826.62 1273.78,826.04 1276.1,825.4 1278.43,824.71 1280.75,823.97 1283.08,823.17 1285.4,822.32 1287.73,821.42 1290.05,820.47 1292.38,819.47 1294.7,818.44 1297.03,817.37 1299.35,816.27 1301.68,815.15 1304,814.01 1306.33,812.86 1308.65,811.71 1310.98,810.55 1313.3,809.39 1315.63,808.23 1317.95,807.06 1320.28,805.88 1322.6,804.67 1324.93,803.41 1327.25,802.07 1329.58,800.63 1331.9,799.03 1334.23,797.22 1336.55,795.13 1338.88,792.7 1341.2,789.84 1343.53,786.46 1345.85,782.48 1348.18,777.79 1350.5,772.31 1352.83,765.96 1355.15,758.67 1357.48,750.39 1359.8,741.11 1362.13,730.82 1364.45,719.58 1366.78,707.48 1369.1,694.65 1371.43,681.26 1373.75,667.52 1376.08,653.7 1378.4,640.08 1380.73,626.97 1383.05,614.68 1385.38,603.53 1387.7,593.82 1390.03,585.84 1392.35,579.8 1394.68,575.89 1397,574.22 1399.33,574.86 1401.65,577.78 1403.98,582.9 1406.3,590.07 1408.63,599.07 1410.95,609.67 1413.28,621.56 1415.6,634.43 1417.93,647.98 1420.25,661.87 1422.58,675.82 1424.9,689.55 1427.23,702.81 1429.55,715.42 1431.88,727.21 1434.2,738.06 1436.53,747.91 1438.85,756.72 1441.18,764.48 1443.5,771.24 1445.83,777.02 1448.15,781.91 1450.48,785.88 1452.8,789.11 1455.13,791.69 1457.45,793.72 1459.78,795.26 1462.1,796.4 1464.43,797.2 1466.75,797.73 1469.08,798.02 1471.4,798.14 1473.73,798.11 1476.05,797.96 1478.38,797.72 1480.7,797.41 1483.03,797.03 1485.35,796.61 1487.68,796.15 1490,795.66 1492.33,795.13 1494.65,794.58 1496.98,794.01 1499.3,793.42 1501.63,792.8 1503.95,792.17 1506.28,791.52 1508.6,790.85 1510.93,790.16 1513.25,789.46 1515.58,788.75 1517.9,788.02 1520.23,787.27 1522.55,786.52 1524.88,785.75 1527.2,784.98 1529.53,784.2 1531.85,783.41 1534.18,782.61 1536.5,781.81 1538.83,781.01 1541.15,780.22 1543.48,779.42 1545.8,778.63 1548.13,777.84 1550.45,777.07 1552.78,776.3 1555.1,775.55 1557.43,774.81 1559.75,774.09 1562.08,773.39 1564.4,772.71 1566.73,772.06 1569.05,771.43 1571.38,770.82 1573.7,770.25 1576.03,769.71 1578.35,769.2 1580.68,768.73 1583,768.29 1585.33,767.89 1587.65,767.53 1589.98,767.21 1592.3,766.93 1594.63,766.69 1596.95,766.49 1599.28,766.34 1601.6,766.22 1603.93,766.15 1606.25,766.13 1608.58,766.14 1610.9,766.2 1613.23,766.29 1615.55,766.43 1617.88,766.6 1620.2,766.82 1622.53,767.07 1624.85,767.35 1627.18,767.67 1629.5,768.03 1631.83,768.41 1634.15,768.82 1636.48,769.26 1638.8,769.72 1641.13,770.21 1643.45,770.71 1645.78,771.23 1648.1,771.77 1650.43,772.33 1652.75,772.89 1655.08,773.47 1657.4,774.05 1659.73,774.64 1662.05,775.23 1664.38,775.83 1666.7,776.42 1669.03,777.01 1671.35,777.6 1673.68,778.18 1676,778.75 1678.33,779.32 1680.65,779.87 1682.98,780.41 1685.3,780.94 1687.63,781.46 1689.95,781.96 1692.28,782.45 1694.6,782.92 1696.93,783.37 1699.25,783.8 1701.58,784.22 1703.9,784.62 1706.23,785 1708.55,785.36 1710.88,785.7 1713.2,786.02 1715.53,786.32 1717.85,786.61 1720.18,786.87 1722.5,787.12 1724.83,787.35 1727.15,787.56 1729.48,787.76 1731.8,787.94 1734.13,788.1 1736.45,788.25 1738.78,788.38 1741.1,788.49 1743.43,788.6 1745.75,788.69 1748.08,788.76 1750.4,788.83 1752.73,788.88 1755.05,788.92 1757.38,788.95 1759.7,788.97 1762.03,789.05 1764.35,789.15 1766.68,789.25 1769,789.34 1771.33,789.42 1773.65,789.49 1775.98,789.56 1778.3,789.63 1780.63,789.68 1782.95,789.74 1785.28,789.78 1787.6,789.83 1789.93,789.87 1792.25,789.9 1794.58,789.93 1796.9,789.96" fill="none" stroke="#000" stroke-width="4.2" stroke-linejoin="round" stroke-linecap="round" />
</g>
<line x1="1392.9" y1="112" x2="1392.9" y2="522" stroke="#000" stroke-width="3" stroke-dasharray="6.4 5.8"/>
<line x1="1399" y1="472" x2="1399" y2="879" stroke="#000" stroke-width="3" stroke-dasharray="6.4 5.8"/>
<path d="M1391 438.5H1414.1V422.9L1439.5 452.6L1414.1 482.4V466.8H1391Z" fill="#4472c4" stroke="#2f528f" stroke-width="1.4"/>
<rect x="1099.4" y="20.9" width="697.8" height="863.1" fill="none" stroke="#000" stroke-width="4.5" />
<line x1="1145.9" y1="886" x2="1145.9" y2="895" stroke="#000" stroke-width="4" />
<line x1="1285.4" y1="886" x2="1285.4" y2="895" stroke="#000" stroke-width="4" />
<line x1="1424.9" y1="886" x2="1424.9" y2="895" stroke="#000" stroke-width="4" />
<line x1="1564.4" y1="886" x2="1564.4" y2="895" stroke="#000" stroke-width="4" />
<line x1="1703.9" y1="886" x2="1703.9" y2="895" stroke="#000" stroke-width="4" />
<line x1="1215.65" y1="886" x2="1215.65" y2="890.5" stroke="#000" stroke-width="4" />
<line x1="1355.15" y1="886" x2="1355.15" y2="890.5" stroke="#000" stroke-width="4" />
<line x1="1494.65" y1="886" x2="1494.65" y2="890.5" stroke="#000" stroke-width="4" />
<line x1="1634.15" y1="886" x2="1634.15" y2="890.5" stroke="#000" stroke-width="4" />
<line x1="1773.65" y1="886" x2="1773.65" y2="890.5" stroke="#000" stroke-width="4" />
<text x="1145.9" y="929.5" font-family='"Liberation Sans", Arial, Helvetica, sans-serif' font-size="35" font-weight="bold" fill="#000" text-anchor="middle" >15</text>
<text x="1285.4" y="929.5" font-family='"Liberation Sans", Arial, Helvetica, sans-serif' font-size="35" font-weight="bold" fill="#000" text-anchor="middle" >18</text>
<text x="1424.9" y="929.5" font-family='"Liberation Sans", Arial, Helvetica, sans-serif' font-size="35" font-weight="bold" fill="#000" text-anchor="middle" >21</text>
<text x="1564.4" y="929.5" font-family='"Liberation Sans", Arial, Helvetica, sans-serif' font-size="35" font-weight="bold" fill="#000" text-anchor="middle" >24</text>
<text x="1703.9" y="929.5" font-family='"Liberation Sans", Arial, Helvetica, sans-serif' font-size="35" font-weight="bold" fill="#000" text-anchor="middle" >27</text>
<text x="1450" y="969.7" font-family='"Liberation Sans", Arial, Helvetica, sans-serif' font-size="47.2" font-weight="bold" fill="#000" text-anchor="middle" >Binding energy (eV)</text>
<text x="1068.8" y="396.4" font-family='"Liberation Sans", Arial, Helvetica, sans-serif' font-size="47.2" font-weight="bold" fill="#000" text-anchor="middle" transform="rotate(-90 1068.8 396.4)" >Intensity (a.u.)</text>
<text x="1118.5" y="88" font-family='"Liberation Sans", Arial, Helvetica, sans-serif' font-size="64" font-weight="bold" fill="#0a800a" text-anchor="start" >Ga 3d</text>
<text x="1356.5" y="81.7" font-family='"Liberation Sans", Arial, Helvetica, sans-serif' font-size="35.5" font-weight="bold" fill="#000" text-anchor="start" ><tspan dy="0" font-size="35.5">Ga</tspan><tspan dy="-14.55" font-size="26.27">3+</tspan></text>
<text x="1230" y="350.3" font-family='"Liberation Sans", Arial, Helvetica, sans-serif' font-size="35.5" font-weight="bold" fill="#000" text-anchor="start" ><tspan dy="0" font-size="35.5">Ga</tspan><tspan dy="-14.55" font-size="26.27">+</tspan></text>
<text x="1491.5" y="350.3" font-family='"Liberation Sans", Arial, Helvetica, sans-serif' font-size="36.5" font-weight="bold" fill="#000" text-anchor="start" >O 2s</text>
<text x="1631.5" y="356" font-family='"Liberation Sans", Arial, Helvetica, sans-serif' font-size="46" font-weight="bold" fill="#ff0000" text-anchor="start" ><tspan dy="0" font-size="46">Ga</tspan><tspan dy="12.42" dx="1.2" font-size="30.82">2</tspan><tspan dy="-12.42" font-size="46">O</tspan><tspan dy="12.42" dx="1.2" font-size="30.82">3</tspan></text>
<text x="1520" y="736.6" font-family='"Liberation Sans", Arial, Helvetica, sans-serif' font-size="46" font-weight="bold" fill="#ff0000" text-anchor="start" ><tspan dy="0" font-size="46">PtS</tspan><tspan dy="12.42" dx="1.6" font-size="30.82">2-x</tspan><tspan dy="-12.42" font-size="46">/Ga</tspan><tspan dy="12.42" dx="1.6" font-size="30.82">2</tspan><tspan dy="-12.42" font-size="46">O</tspan><tspan dy="12.42" dx="1.6" font-size="30.82">3</tspan></text>
<circle cx="1596.5" cy="57" r="8.0" fill="none" stroke="#8b0000" stroke-width="2.5"/>
<line x1="1566" y1="93.4" x2="1625.7" y2="93.4" stroke="#ff0000" stroke-width="3.6" stroke-linecap="round"/>
<line x1="1566" y1="130.2" x2="1625.7" y2="130.2" stroke="#0000ff" stroke-width="3.6" stroke-linecap="round"/>
<line x1="1566" y1="162.6" x2="1625.7" y2="162.6" stroke="#ff00ff" stroke-width="3.6" stroke-linecap="round"/>
<line x1="1566" y1="196.3" x2="1625.7" y2="196.3" stroke="#00ff00" stroke-width="3.6" stroke-linecap="round"/>
<line x1="1566" y1="229" x2="1625.7" y2="229" stroke="#000" stroke-width="3.6" stroke-linecap="round"/>
<text x="1633.7" y="66" font-family='"Liberation Sans", Arial, Helvetica, sans-serif' font-size="26" font-weight="bold" fill="#000" text-anchor="start" >Raw data</text>
<text x="1633.7" y="102.4" font-family='"Liberation Sans", Arial, Helvetica, sans-serif' font-size="26" font-weight="bold" fill="#000" text-anchor="start" ><tspan dy="0" font-size="26">Ga</tspan><tspan dy="-10.66" font-size="17.42">+</tspan></text>
<text x="1633.7" y="139.2" font-family='"Liberation Sans", Arial, Helvetica, sans-serif' font-size="26" font-weight="bold" fill="#000" text-anchor="start" ><tspan dy="0" font-size="26">Ga</tspan><tspan dy="-10.66" font-size="17.42">3+</tspan></text>
<text x="1633.7" y="171.6" font-family='"Liberation Sans", Arial, Helvetica, sans-serif' font-size="26" font-weight="bold" fill="#000" text-anchor="start" >O 2s</text>
<text x="1633.7" y="204.3" font-family='"Liberation Sans", Arial, Helvetica, sans-serif' font-size="26" font-weight="bold" fill="#000" text-anchor="start" >Background</text>
<text x="1633.7" y="237.1" font-family='"Liberation Sans", Arial, Helvetica, sans-serif' font-size="26" font-weight="bold" fill="#000" text-anchor="start" >Fitted data</text>
<circle cx="1601.9" cy="482.9" r="8.0" fill="none" stroke="#8b0000" stroke-width="2.5"/>
<line x1="1570.5" y1="518.8" x2="1631.5" y2="518.8" stroke="#ff0000" stroke-width="3.6" stroke-linecap="round"/>
<line x1="1570.5" y1="554.7" x2="1631.5" y2="554.7" stroke="#0000ff" stroke-width="3.6" stroke-linecap="round"/>
<line x1="1570.5" y1="588.4" x2="1631.5" y2="588.4" stroke="#ff00ff" stroke-width="3.6" stroke-linecap="round"/>
<line x1="1570.5" y1="622.1" x2="1631.5" y2="622.1" stroke="#00ff00" stroke-width="3.6" stroke-linecap="round"/>
<line x1="1570.5" y1="654.9" x2="1631.5" y2="654.9" stroke="#000" stroke-width="3.6" stroke-linecap="round"/>
<text x="1639.2" y="492" font-family='"Liberation Sans", Arial, Helvetica, sans-serif' font-size="26" font-weight="bold" fill="#000" text-anchor="start" >Raw data</text>
<text x="1639.2" y="527.8" font-family='"Liberation Sans", Arial, Helvetica, sans-serif' font-size="26" font-weight="bold" fill="#000" text-anchor="start" ><tspan dy="0" font-size="26">Ga</tspan><tspan dy="-10.66" font-size="17.42">+</tspan></text>
<text x="1639.2" y="563.7" font-family='"Liberation Sans", Arial, Helvetica, sans-serif' font-size="26" font-weight="bold" fill="#000" text-anchor="start" ><tspan dy="0" font-size="26">Ga</tspan><tspan dy="-10.66" font-size="17.42">3+</tspan></text>
<text x="1639.2" y="597.4" font-family='"Liberation Sans", Arial, Helvetica, sans-serif' font-size="26" font-weight="bold" fill="#000" text-anchor="start" >O 2s</text>
<text x="1639.2" y="631.1" font-family='"Liberation Sans", Arial, Helvetica, sans-serif' font-size="26" font-weight="bold" fill="#000" text-anchor="start" >Background</text>
<text x="1639.2" y="663.9" font-family='"Liberation Sans", Arial, Helvetica, sans-serif' font-size="26" font-weight="bold" fill="#000" text-anchor="start" >Fitted data</text>
<text x="956.2" y="45.4" font-family='"Liberation Sans", Arial, Helvetica, sans-serif' font-weight="normal" fill="#000"><tspan font-size="57">(</tspan><tspan font-size="53" dx="0">b</tspan><tspan font-size="57" dx="0">)</tspan></text>
</g>
<g id="panel-c">
<clipPath id="clipC1"><rect x="119.1" y="1063.8" width="354.85" height="556.2"/></clipPath>
<g clip-path="url(#clipC1)">
<polyline points="119.1,1618.2 124.28,1618.17 129.47,1618.06 134.66,1617.89 139.84,1617.65 145.03,1617.35 150.21,1616.98 155.39,1615.83 160.58,1613.64 165.76,1609.54 170.95,1606.88 176.13,1603.86 181.32,1601.21 186.5,1596.45 191.69,1589.18 196.88,1584.07 202.06,1580.57 207.25,1575.24 212.43,1566.23 217.62,1557.57 222.8,1550.85 227.99,1538.48 233.17,1528.96 238.36,1518.84 243.54,1506.7 248.72,1495.22 253.91,1484.58 259.1,1470.58 264.28,1459.93 269.47,1448.94 274.65,1440.18 279.84,1431.74 285.02,1423.46 290.21,1413.59 295.39,1404.14 300.57,1393.61 305.76,1406.22 310.95,1373.76 316.13,1359.09 321.32,1361.54 326.5,1340.51 331.69,1327.31 336.87,1331.35 342.05,1303.34 347.24,1293.31 352.43,1282.61 357.61,1258.72 362.8,1244.5 367.98,1238.95 373.17,1217.83 378.35,1219 383.54,1210.68 388.72,1194.66 393.91,1185.26 399.09,1179.05 404.27,1176.02 409.46,1187.51 414.64,1162.98 419.83,1163.44 425.01,1163.67 430.2,1159.26 435.38,1159.88 440.57,1152.53 445.75,1150.63 450.94,1154.72 456.12,1152.69 461.31,1155.9 466.5,1160.33 471.68,1155.12" fill="none" stroke="#000" stroke-width="5" stroke-linejoin="round" stroke-linecap="round" />
<circle cx="119.1" cy="1618.2" r="8.6" fill="url(#sphK)"/>
<circle cx="124.28" cy="1618.17" r="8.6" fill="url(#sphK)"/>
<circle cx="129.47" cy="1618.06" r="8.6" fill="url(#sphK)"/>
<circle cx="134.66" cy="1617.89" r="8.6" fill="url(#sphK)"/>
<circle cx="139.84" cy="1617.65" r="8.6" fill="url(#sphK)"/>
<circle cx="145.03" cy="1617.35" r="8.6" fill="url(#sphK)"/>
<circle cx="150.21" cy="1616.98" r="8.6" fill="url(#sphK)"/>
<circle cx="155.39" cy="1615.83" r="8.6" fill="url(#sphK)"/>
<circle cx="160.58" cy="1613.64" r="8.6" fill="url(#sphK)"/>
<circle cx="165.76" cy="1609.54" r="8.6" fill="url(#sphK)"/>
<circle cx="170.95" cy="1606.88" r="8.6" fill="url(#sphK)"/>
<circle cx="176.13" cy="1603.86" r="8.6" fill="url(#sphK)"/>
<circle cx="181.32" cy="1601.21" r="8.6" fill="url(#sphK)"/>
<circle cx="186.5" cy="1596.45" r="8.6" fill="url(#sphK)"/>
<circle cx="191.69" cy="1589.18" r="8.6" fill="url(#sphK)"/>
<circle cx="196.88" cy="1584.07" r="8.6" fill="url(#sphK)"/>
<circle cx="202.06" cy="1580.57" r="8.6" fill="url(#sphK)"/>
<circle cx="207.25" cy="1575.24" r="8.6" fill="url(#sphK)"/>
<circle cx="212.43" cy="1566.23" r="8.6" fill="url(#sphK)"/>
<circle cx="217.62" cy="1557.57" r="8.6" fill="url(#sphK)"/>
<circle cx="222.8" cy="1550.85" r="8.6" fill="url(#sphK)"/>
<circle cx="227.99" cy="1538.48" r="8.6" fill="url(#sphK)"/>
<circle cx="233.17" cy="1528.96" r="8.6" fill="url(#sphK)"/>
<circle cx="238.36" cy="1518.84" r="8.6" fill="url(#sphK)"/>
<circle cx="243.54" cy="1506.7" r="8.6" fill="url(#sphK)"/>
<circle cx="248.72" cy="1495.22" r="8.6" fill="url(#sphK)"/>
<circle cx="253.91" cy="1484.58" r="8.6" fill="url(#sphK)"/>
<circle cx="259.1" cy="1470.58" r="8.6" fill="url(#sphK)"/>
<circle cx="264.28" cy="1459.93" r="8.6" fill="url(#sphK)"/>
<circle cx="269.47" cy="1448.94" r="8.6" fill="url(#sphK)"/>
<circle cx="274.65" cy="1440.18" r="8.6" fill="url(#sphK)"/>
<circle cx="279.84" cy="1431.74" r="8.6" fill="url(#sphK)"/>
<circle cx="285.02" cy="1423.46" r="8.6" fill="url(#sphK)"/>
<circle cx="290.21" cy="1413.59" r="8.6" fill="url(#sphK)"/>
<circle cx="295.39" cy="1404.14" r="8.6" fill="url(#sphK)"/>
<circle cx="300.57" cy="1393.61" r="8.6" fill="url(#sphK)"/>
<circle cx="305.76" cy="1406.22" r="8.6" fill="url(#sphK)"/>
<circle cx="310.95" cy="1373.76" r="8.6" fill="url(#sphK)"/>
<circle cx="316.13" cy="1359.09" r="8.6" fill="url(#sphK)"/>
<circle cx="321.32" cy="1361.54" r="8.6" fill="url(#sphK)"/>
<circle cx="326.5" cy="1340.51" r="8.6" fill="url(#sphK)"/>
<circle cx="331.69" cy="1327.31" r="8.6" fill="url(#sphK)"/>
<circle cx="336.87" cy="1331.35" r="8.6" fill="url(#sphK)"/>
<circle cx="342.05" cy="1303.34" r="8.6" fill="url(#sphK)"/>
<circle cx="347.24" cy="1293.31" r="8.6" fill="url(#sphK)"/>
<circle cx="352.43" cy="1282.61" r="8.6" fill="url(#sphK)"/>
<circle cx="357.61" cy="1258.72" r="8.6" fill="url(#sphK)"/>
<circle cx="362.8" cy="1244.5" r="8.6" fill="url(#sphK)"/>
<circle cx="367.98" cy="1238.95" r="8.6" fill="url(#sphK)"/>
<circle cx="373.17" cy="1217.83" r="8.6" fill="url(#sphK)"/>
<circle cx="378.35" cy="1219" r="8.6" fill="url(#sphK)"/>
<circle cx="383.54" cy="1210.68" r="8.6" fill="url(#sphK)"/>
<circle cx="388.72" cy="1194.66" r="8.6" fill="url(#sphK)"/>
<circle cx="393.91" cy="1185.26" r="8.6" fill="url(#sphK)"/>
<circle cx="399.09" cy="1179.05" r="8.6" fill="url(#sphK)"/>
<circle cx="404.27" cy="1176.02" r="8.6" fill="url(#sphK)"/>
<circle cx="409.46" cy="1187.51" r="8.6" fill="url(#sphK)"/>
<circle cx="414.64" cy="1162.98" r="8.6" fill="url(#sphK)"/>
<circle cx="419.83" cy="1163.44" r="8.6" fill="url(#sphK)"/>
<circle cx="425.01" cy="1163.67" r="8.6" fill="url(#sphK)"/>
<circle cx="430.2" cy="1159.26" r="8.6" fill="url(#sphK)"/>
<circle cx="435.38" cy="1159.88" r="8.6" fill="url(#sphK)"/>
<circle cx="440.57" cy="1152.53" r="8.6" fill="url(#sphK)"/>
<circle cx="445.75" cy="1150.63" r="8.6" fill="url(#sphK)"/>
<circle cx="450.94" cy="1154.72" r="8.6" fill="url(#sphK)"/>
<circle cx="456.12" cy="1152.69" r="8.6" fill="url(#sphK)"/>
<circle cx="461.31" cy="1155.9" r="8.6" fill="url(#sphK)"/>
<circle cx="466.5" cy="1160.33" r="8.6" fill="url(#sphK)"/>
<circle cx="471.68" cy="1155.12" r="8.6" fill="url(#sphK)"/>
<line x1="209.4" y1="1619.6" x2="387.1" y2="1195.8" stroke="#ff0000" stroke-width="6.2" />
</g>
<rect x="119.1" y="1063.8" width="354.85" height="556.2" fill="none" stroke="#000" stroke-width="4.5" />
<line x1="119.1" y1="1622" x2="119.1" y2="1631" stroke="#000" stroke-width="4" />
<line x1="222.8" y1="1622" x2="222.8" y2="1631" stroke="#000" stroke-width="4" />
<line x1="326.5" y1="1622" x2="326.5" y2="1631" stroke="#000" stroke-width="4" />
<line x1="430.2" y1="1622" x2="430.2" y2="1631" stroke="#000" stroke-width="4" />
<line x1="170.95" y1="1622" x2="170.95" y2="1626.5" stroke="#000" stroke-width="4" />
<line x1="274.65" y1="1622" x2="274.65" y2="1626.5" stroke="#000" stroke-width="4" />
<line x1="378.35" y1="1622" x2="378.35" y2="1626.5" stroke="#000" stroke-width="4" />
<text x="119.1" y="1668.4" font-family='"Liberation Sans", Arial, Helvetica, sans-serif' font-size="36.5" font-weight="bold" fill="#000" text-anchor="middle" >0</text>
<text x="222.8" y="1668.4" font-family='"Liberation Sans", Arial, Helvetica, sans-serif' font-size="36.5" font-weight="bold" fill="#000" text-anchor="middle" >1</text>
<text x="326.5" y="1668.4" font-family='"Liberation Sans", Arial, Helvetica, sans-serif' font-size="36.5" font-weight="bold" fill="#000" text-anchor="middle" >2</text>
<text x="430.2" y="1668.4" font-family='"Liberation Sans", Arial, Helvetica, sans-serif' font-size="36.5" font-weight="bold" fill="#000" text-anchor="middle" >3</text>
<line x1="129.3" y1="1113.3" x2="231.3" y2="1113.3" stroke="#000" stroke-width="8" stroke-linecap="round"/>
<circle cx="180.4" cy="1113.2" r="9" fill="url(#sphK)"/>
<text x="249" y="1128.9" font-family='"Liberation Sans", Arial, Helvetica, sans-serif' font-size="46" font-weight="bold" fill="#000" text-anchor="start" ><tspan dy="0" font-size="46">PtS</tspan><tspan dy="12.42" dx="1.5" font-size="30.82">2-x</tspan></text>
<text x="262.7" y="1580" font-family='"Liberation Sans", Arial, Helvetica, sans-serif' font-size="46" font-weight="bold" fill="#000" text-anchor="start" >0.85 eV</text>
<line x1="257.2" y1="1586.8" x2="231.85" y2="1602.34" stroke="#000" stroke-width="3.2" />
<path d="M214.8 1612.8L229.9 1595.33L237.21 1607.27z" fill="#000"/>
<clipPath id="clipC2"><rect x="508.35" y="1065.6" width="354.85" height="556.0"/></clipPath>
<g clip-path="url(#clipC2)">
<polyline points="508.35,1619.08 512.79,1619.08 517.22,1619.05 521.66,1619.01 526.09,1618.95 530.53,1618.87 534.96,1618.78 539.4,1618.68 543.84,1618.56 548.27,1618.34 552.71,1615.96 557.14,1617.88 561.58,1614.55 566.01,1616.33 570.45,1616.35 574.88,1612.44 579.32,1611.6 583.76,1610.41 588.19,1610.21 592.63,1606.94 597.06,1606.09 601.5,1604.16 605.93,1602.95 610.37,1602.95 614.81,1598.98 619.24,1598.02 623.68,1595.73 628.11,1593.4 632.55,1588.11 636.98,1587.31 641.42,1583.51 645.85,1579.48 650.29,1569.71 654.73,1543.89 659.16,1529.92 663.6,1518.34 668.03,1502.02 672.47,1473.11 676.9,1442.81 681.34,1400.62 685.78,1368.37 690.21,1326.66 694.65,1291.35 699.08,1262.69 703.52,1234.5 707.95,1220.57 712.39,1213.1 716.82,1183.64 721.26,1171.46 725.7,1163.39 730.13,1159.29 734.57,1170.67 739,1168.11 743.44,1166.62 747.87,1157.05 752.31,1158.66 756.75,1165.83 761.18,1163.9 765.62,1167.01 770.05,1161.01 774.49,1169.17 778.92,1176.38 783.36,1175.43 787.79,1177.36 792.23,1169.24 796.67,1176.93 801.1,1171.43 805.54,1183.29 809.97,1178.41 814.41,1181.38 818.84,1184.37 823.28,1197.36 827.72,1199.09 832.15,1203.32 836.59,1200.69 841.02,1215.61 845.46,1214.56 849.89,1223.59 854.33,1220.08 858.76,1221.62 863.2,1221.54" fill="none" stroke="#0000ff" stroke-width="3.5" stroke-linejoin="round" stroke-linecap="round" />
<circle cx="508.35" cy="1619.08" r="8.9" fill="url(#sphB)"/>
<circle cx="512.79" cy="1619.08" r="8.9" fill="url(#sphB)"/>
<circle cx="517.22" cy="1619.05" r="8.9" fill="url(#sphB)"/>
<circle cx="521.66" cy="1619.01" r="8.9" fill="url(#sphB)"/>
<circle cx="526.09" cy="1618.95" r="8.9" fill="url(#sphB)"/>
<circle cx="530.53" cy="1618.87" r="8.9" fill="url(#sphB)"/>
<circle cx="534.96" cy="1618.78" r="8.9" fill="url(#sphB)"/>
<circle cx="539.4" cy="1618.68" r="8.9" fill="url(#sphB)"/>
<circle cx="543.84" cy="1618.56" r="8.9" fill="url(#sphB)"/>
<circle cx="548.27" cy="1618.34" r="8.9" fill="url(#sphB)"/>
<circle cx="552.71" cy="1615.96" r="8.9" fill="url(#sphB)"/>
<circle cx="557.14" cy="1617.88" r="8.9" fill="url(#sphB)"/>
<circle cx="561.58" cy="1614.55" r="8.9" fill="url(#sphB)"/>
<circle cx="566.01" cy="1616.33" r="8.9" fill="url(#sphB)"/>
<circle cx="570.45" cy="1616.35" r="8.9" fill="url(#sphB)"/>
<circle cx="574.88" cy="1612.44" r="8.9" fill="url(#sphB)"/>
<circle cx="579.32" cy="1611.6" r="8.9" fill="url(#sphB)"/>
<circle cx="583.76" cy="1610.41" r="8.9" fill="url(#sphB)"/>
<circle cx="588.19" cy="1610.21" r="8.9" fill="url(#sphB)"/>
<circle cx="592.63" cy="1606.94" r="8.9" fill="url(#sphB)"/>
<circle cx="597.06" cy="1606.09" r="8.9" fill="url(#sphB)"/>
<circle cx="601.5" cy="1604.16" r="8.9" fill="url(#sphB)"/>
<circle cx="605.93" cy="1602.95" r="8.9" fill="url(#sphB)"/>
<circle cx="610.37" cy="1602.95" r="8.9" fill="url(#sphB)"/>
<circle cx="614.81" cy="1598.98" r="8.9" fill="url(#sphB)"/>
<circle cx="619.24" cy="1598.02" r="8.9" fill="url(#sphB)"/>
<circle cx="623.68" cy="1595.73" r="8.9" fill="url(#sphB)"/>
<circle cx="628.11" cy="1593.4" r="8.9" fill="url(#sphB)"/>
<circle cx="632.55" cy="1588.11" r="8.9" fill="url(#sphB)"/>
<circle cx="636.98" cy="1587.31" r="8.9" fill="url(#sphB)"/>
<circle cx="641.42" cy="1583.51" r="8.9" fill="url(#sphB)"/>
<circle cx="645.85" cy="1579.48" r="8.9" fill="url(#sphB)"/>
<circle cx="650.29" cy="1569.71" r="8.9" fill="url(#sphB)"/>
<circle cx="654.73" cy="1543.89" r="8.9" fill="url(#sphB)"/>
<circle cx="659.16" cy="1529.92" r="8.9" fill="url(#sphB)"/>
<circle cx="663.6" cy="1518.34" r="8.9" fill="url(#sphB)"/>
<circle cx="668.03" cy="1502.02" r="8.9" fill="url(#sphB)"/>
<circle cx="672.47" cy="1473.11" r="8.9" fill="url(#sphB)"/>
<circle cx="676.9" cy="1442.81" r="8.9" fill="url(#sphB)"/>
<circle cx="681.34" cy="1400.62" r="8.9" fill="url(#sphB)"/>
<circle cx="685.78" cy="1368.37" r="8.9" fill="url(#sphB)"/>
<circle cx="690.21" cy="1326.66" r="8.9" fill="url(#sphB)"/>
<circle cx="694.65" cy="1291.35" r="8.9" fill="url(#sphB)"/>
<circle cx="699.08" cy="1262.69" r="8.9" fill="url(#sphB)"/>
<circle cx="703.52" cy="1234.5" r="8.9" fill="url(#sphB)"/>
<circle cx="707.95" cy="1220.57" r="8.9" fill="url(#sphB)"/>
<circle cx="712.39" cy="1213.1" r="8.9" fill="url(#sphB)"/>
<circle cx="716.82" cy="1183.64" r="8.9" fill="url(#sphB)"/>
<circle cx="721.26" cy="1171.46" r="8.9" fill="url(#sphB)"/>
<circle cx="725.7" cy="1163.39" r="8.9" fill="url(#sphB)"/>
<circle cx="730.13" cy="1159.29" r="8.9" fill="url(#sphB)"/>
<circle cx="734.57" cy="1170.67" r="8.9" fill="url(#sphB)"/>
<circle cx="739" cy="1168.11" r="8.9" fill="url(#sphB)"/>
<circle cx="743.44" cy="1166.62" r="8.9" fill="url(#sphB)"/>
<circle cx="747.87" cy="1157.05" r="8.9" fill="url(#sphB)"/>
<circle cx="752.31" cy="1158.66" r="8.9" fill="url(#sphB)"/>
<circle cx="756.75" cy="1165.83" r="8.9" fill="url(#sphB)"/>
<circle cx="761.18" cy="1163.9" r="8.9" fill="url(#sphB)"/>
<circle cx="765.62" cy="1167.01" r="8.9" fill="url(#sphB)"/>
<circle cx="770.05" cy="1161.01" r="8.9" fill="url(#sphB)"/>
<circle cx="774.49" cy="1169.17" r="8.9" fill="url(#sphB)"/>
<circle cx="778.92" cy="1176.38" r="8.9" fill="url(#sphB)"/>
<circle cx="783.36" cy="1175.43" r="8.9" fill="url(#sphB)"/>
<circle cx="787.79" cy="1177.36" r="8.9" fill="url(#sphB)"/>
<circle cx="792.23" cy="1169.24" r="8.9" fill="url(#sphB)"/>
<circle cx="796.67" cy="1176.93" r="8.9" fill="url(#sphB)"/>
<circle cx="801.1" cy="1171.43" r="8.9" fill="url(#sphB)"/>
<circle cx="805.54" cy="1183.29" r="8.9" fill="url(#sphB)"/>
<circle cx="809.97" cy="1178.41" r="8.9" fill="url(#sphB)"/>
<circle cx="814.41" cy="1181.38" r="8.9" fill="url(#sphB)"/>
<circle cx="818.84" cy="1184.37" r="8.9" fill="url(#sphB)"/>
<circle cx="823.28" cy="1197.36" r="8.9" fill="url(#sphB)"/>
<circle cx="827.72" cy="1199.09" r="8.9" fill="url(#sphB)"/>
<circle cx="832.15" cy="1203.32" r="8.9" fill="url(#sphB)"/>
<circle cx="836.59" cy="1200.69" r="8.9" fill="url(#sphB)"/>
<circle cx="841.02" cy="1215.61" r="8.9" fill="url(#sphB)"/>
<circle cx="845.46" cy="1214.56" r="8.9" fill="url(#sphB)"/>
<circle cx="849.89" cy="1223.59" r="8.9" fill="url(#sphB)"/>
<circle cx="854.33" cy="1220.08" r="8.9" fill="url(#sphB)"/>
<circle cx="858.76" cy="1221.62" r="8.9" fill="url(#sphB)"/>
<circle cx="863.2" cy="1221.54" r="8.9" fill="url(#sphB)"/>
<line x1="651.3" y1="1627.8" x2="697.8" y2="1277.9" stroke="#ff0000" stroke-width="6.4" />
</g>
<rect x="508.35" y="1065.6" width="354.85" height="556" fill="none" stroke="#000" stroke-width="4.5" />
<line x1="508.35" y1="1623.6" x2="508.35" y2="1632.6" stroke="#000" stroke-width="4" />
<line x1="597.06" y1="1623.6" x2="597.06" y2="1632.6" stroke="#000" stroke-width="4" />
<line x1="685.78" y1="1623.6" x2="685.78" y2="1632.6" stroke="#000" stroke-width="4" />
<line x1="774.49" y1="1623.6" x2="774.49" y2="1632.6" stroke="#000" stroke-width="4" />
<line x1="863.2" y1="1623.6" x2="863.2" y2="1632.6" stroke="#000" stroke-width="4" />
<line x1="552.71" y1="1623.6" x2="552.71" y2="1628.1" stroke="#000" stroke-width="4" />
<line x1="641.42" y1="1623.6" x2="641.42" y2="1628.1" stroke="#000" stroke-width="4" />
<line x1="730.13" y1="1623.6" x2="730.13" y2="1628.1" stroke="#000" stroke-width="4" />
<line x1="818.84" y1="1623.6" x2="818.84" y2="1628.1" stroke="#000" stroke-width="4" />
<text x="508.35" y="1668.4" font-family='"Liberation Sans", Arial, Helvetica, sans-serif' font-size="36.5" font-weight="bold" fill="#000" text-anchor="middle" >0</text>
<text x="597.06" y="1668.4" font-family='"Liberation Sans", Arial, Helvetica, sans-serif' font-size="36.5" font-weight="bold" fill="#000" text-anchor="middle" >2</text>
<text x="685.78" y="1668.4" font-family='"Liberation Sans", Arial, Helvetica, sans-serif' font-size="36.5" font-weight="bold" fill="#000" text-anchor="middle" >4</text>
<text x="774.49" y="1668.4" font-family='"Liberation Sans", Arial, Helvetica, sans-serif' font-size="36.5" font-weight="bold" fill="#000" text-anchor="middle" >6</text>
<text x="863.2" y="1668.4" font-family='"Liberation Sans", Arial, Helvetica, sans-serif' font-size="36.5" font-weight="bold" fill="#000" text-anchor="middle" >8</text>
<line x1="516.8" y1="1107.4" x2="622" y2="1107.4" stroke="#0000ff" stroke-width="7.7" stroke-linecap="round"/>
<circle cx="569.3" cy="1107.4" r="9.4" fill="url(#sphB)"/>
<text x="636" y="1123.4" font-family='"Liberation Sans", Arial, Helvetica, sans-serif' font-size="46" font-weight="bold" fill="#000" text-anchor="start" ><tspan dy="0" font-size="46">Ga</tspan><tspan dy="12.42" dx="1.9" font-size="30.82">2</tspan><tspan dy="-12.42" dx="0.9" font-size="46">O</tspan><tspan dy="12.42" dx="1.9" font-size="30.82">3</tspan></text>
<text x="684" y="1556.7" font-family='"Liberation Sans", Arial, Helvetica, sans-serif' font-size="46" font-weight="bold" fill="#000" text-anchor="start" >3.23 eV</text>
<line x1="696.4" y1="1578" x2="672.63" y2="1600.46" stroke="#000" stroke-width="3.2" />
<path d="M658.1 1614.2L669.28 1594L678.9 1604.18z" fill="#000"/>
<text x="524.3" y="1709.8" font-family='"Liberation Sans", Arial, Helvetica, sans-serif' font-size="44.2" font-weight="bold" fill="#000" text-anchor="middle" >Binding Energy (eV)</text>
<text x="80.5" y="1342" font-family='"Liberation Sans", Arial, Helvetica, sans-serif' font-size="47" font-weight="bold" fill="#000" text-anchor="middle" transform="rotate(-90 80.5 1342)" >Intensity (a.u)</text>
<text x="23.9" y="1061.8" font-family='"Liberation Sans", Arial, Helvetica, sans-serif' font-weight="normal" fill="#000"><tspan font-size="57">(</tspan><tspan font-size="53" dx="0">c</tspan><tspan font-size="57" dx="0">)</tspan></text>
</g>
<g id="panel-d">
<clipPath id="clipD"><rect x="1116.7" y="1060.9" width="702.5999999999999" height="556.3"/></clipPath>
<g clip-path="url(#clipD)">
<polyline points="1259.31,1544.37 1259.55,1544.28 1259.79,1544.18 1260.02,1544.08 1260.27,1543.99 1260.51,1543.89 1260.75,1543.79 1260.99,1543.69 1261.23,1543.59 1261.48,1543.49 1261.72,1543.39 1261.97,1543.29 1262.22,1543.19 1262.46,1543.08 1262.71,1542.98 1262.96,1542.88 1263.21,1542.77 1263.46,1542.66 1263.72,1542.56 1263.97,1542.45 1264.22,1542.34 1264.48,1542.23 1264.73,1542.12 1264.99,1542.01 1265.25,1541.9 1265.5,1541.79 1265.76,1541.68 1266.02,1541.56 1266.28,1541.45 1266.55,1541.33 1266.81,1541.22 1267.07,1541.1 1267.34,1540.98 1267.6,1540.87 1267.87,1540.75 1268.14,1540.63 1268.4,1540.51 1268.67,1540.39 1268.94,1540.27 1269.21,1540.14 1269.49,1540.02 1269.76,1539.9 1270.03,1539.77 1270.31,1539.65 1270.58,1539.52 1270.86,1539.39 1271.14,1539.27 1271.42,1539.14 1271.7,1539.01 1271.98,1538.88 1272.26,1538.75 1272.55,1538.61 1272.83,1538.48 1273.11,1538.35 1273.4,1538.22 1273.69,1538.08 1273.98,1537.95 1274.27,1537.81 1274.56,1537.67 1274.85,1537.53 1275.14,1537.4 1275.43,1537.26 1275.73,1537.12 1276.02,1536.97 1276.32,1536.83 1276.62,1536.69 1276.92,1536.55 1277.22,1536.4 1277.52,1536.26 1277.82,1536.11 1278.13,1535.97 1278.43,1535.82 1278.74,1535.67 1279.04,1535.52 1279.35,1535.37 1279.66,1535.22 1279.97,1535.07 1280.29,1534.92 1280.6,1534.77 1280.91,1534.61 1281.23,1534.46 1281.55,1534.31 1281.86,1534.15 1282.18,1533.99 1282.5,1533.84 1282.82,1533.68 1283.15,1533.52 1283.47,1533.36 1283.8,1533.2 1284.12,1533.04 1284.45,1532.88 1284.78,1532.72 1285.11,1532.55 1285.44,1532.39 1285.78,1532.22 1286.11,1532.06 1286.45,1531.89 1286.78,1531.73 1287.12,1531.56 1287.46,1531.39 1287.8,1531.22 1288.15,1531.05 1288.49,1530.88 1288.83,1530.71 1289.18,1530.54 1289.53,1530.37 1289.88,1530.19 1290.23,1530.02 1290.58,1529.85 1290.94,1529.67 1291.29,1529.5 1291.65,1529.32 1292.01,1529.14 1292.37,1528.97 1292.73,1528.79 1293.09,1528.61 1293.45,1528.43 1293.82,1528.25 1294.19,1528.07 1294.56,1527.89 1294.93,1527.71 1295.3,1527.52 1295.67,1527.34 1296.04,1527.16 1296.42,1526.97 1296.8,1526.79 1297.18,1526.6 1297.56,1526.42 1297.94,1526.23 1298.33,1526.05 1298.71,1525.86 1299.1,1525.67 1299.49,1525.48 1299.88,1525.29 1300.27,1525.11 1300.67,1524.92 1301.06,1524.73 1301.46,1524.54 1301.86,1524.35 1302.26,1524.16 1302.67,1523.97 1303.07,1523.77 1303.48,1523.58 1303.89,1523.39 1304.3,1523.2 1304.71,1523.01 1305.12,1522.81 1305.54,1522.62 1305.95,1522.43 1306.37,1522.23 1306.79,1522.04 1307.22,1521.85 1307.64,1521.65 1308.07,1521.46 1308.5,1521.26 1308.93,1521.07 1309.36,1520.88 1309.79,1520.68 1310.23,1520.49 1310.67,1520.29 1311.11,1520.1 1311.55,1519.91 1312,1519.71 1312.44,1519.52 1312.89,1519.33 1313.34,1519.13 1313.79,1518.94 1314.25,1518.75 1314.71,1518.56 1315.16,1518.36 1315.63,1518.17 1316.09,1517.98 1316.55,1517.79 1317.02,1517.6 1317.49,1517.41 1317.96,1517.22 1318.44,1517.03 1318.91,1516.84 1319.39,1516.66 1319.87,1516.47 1320.36,1516.28 1320.84,1516.1 1321.33,1515.91 1321.82,1515.73 1322.31,1515.55 1322.81,1515.36 1323.3,1515.18 1323.8,1515 1324.31,1514.82 1324.81,1514.65 1325.32,1514.47 1325.83,1514.29 1326.34,1514.12 1326.85,1513.94 1327.37,1513.76 1327.89,1513.59 1328.41,1513.42 1328.94,1513.24 1329.46,1513.07 1329.99,1512.89 1330.53,1512.72 1331.06,1512.55 1331.6,1512.38 1332.14,1512.2 1332.68,1512.03 1333.23,1511.86 1333.78,1511.68 1334.33,1511.51 1334.89,1511.34 1335.44,1511.16 1336,1510.99 1336.57,1510.81 1337.13,1510.64 1337.7,1510.46 1338.27,1510.28 1338.85,1510.1 1339.43,1509.93 1340.01,1509.74 1340.59,1509.56 1341.18,1509.38 1341.77,1509.19 1342.36,1509.01 1342.96,1508.82 1343.56,1508.63 1344.16,1508.44 1344.76,1508.24 1345.37,1508.05 1345.99,1507.85 1346.6,1507.65 1347.22,1507.44 1347.84,1507.23 1348.47,1507.02 1349.1,1506.81 1349.73,1506.6 1350.36,1506.38 1351,1506.15 1351.65,1505.92 1352.29,1505.69 1352.94,1505.46 1353.6,1505.22 1354.25,1504.97 1354.91,1504.73 1355.58,1504.47 1356.25,1504.21 1356.92,1503.95 1357.6,1503.68 1358.27,1503.4 1358.96,1503.12 1359.65,1502.83 1360.34,1502.54 1361.03,1502.23 1361.73,1501.93 1362.43,1501.61 1363.14,1501.29 1363.85,1500.96 1364.57,1500.62 1365.29,1500.27 1366.01,1499.92 1366.74,1499.56 1367.47,1499.19 1368.21,1498.82 1368.95,1498.43 1369.69,1498.04 1370.44,1497.64 1371.2,1497.23 1371.96,1496.81 1372.72,1496.38 1373.49,1495.95 1374.26,1495.5 1375.04,1495.05 1375.82,1494.59 1376.6,1494.11 1377.4,1493.63 1378.19,1493.14 1378.99,1492.63 1379.8,1492.12 1380.61,1491.59 1381.43,1491.06 1382.25,1490.51 1383.07,1489.96 1383.9,1489.39 1384.74,1488.81 1385.58,1488.22 1386.43,1487.62 1387.28,1487 1388.14,1486.38 1389,1485.74 1389.87,1485.08 1390.74,1484.42 1391.62,1483.74 1392.51,1483.05 1393.4,1482.34 1394.3,1481.63 1395.2,1480.89 1396.11,1480.15 1397.02,1479.38 1397.94,1478.61 1398.87,1477.82 1399.8,1477.01 1400.74,1476.19 1401.69,1475.36 1402.64,1474.52 1403.6,1473.65 1404.56,1472.78 1405.53,1471.89 1406.51,1470.99 1407.49,1470.07 1408.49,1469.14 1409.48,1468.2 1410.49,1467.24 1411.5,1466.27 1412.52,1465.29 1413.54,1464.29 1414.58,1463.29 1415.61,1462.26 1416.66,1461.23 1417.72,1460.19 1418.78,1459.13 1419.85,1458.05 1420.92,1456.96 1422.01,1455.86 1423.1,1454.74 1424.2,1453.61 1425.31,1452.46 1426.43,1451.29 1427.55,1450.1 1428.68,1448.9 1429.82,1447.67 1430.97,1446.43 1432.13,1445.16 1433.3,1443.88 1434.47,1442.57 1435.66,1441.23 1436.85,1439.87 1438.05,1438.49 1439.26,1437.08 1440.48,1435.65 1441.71,1434.19 1442.95,1432.7 1444.19,1431.17 1445.45,1429.62 1446.72,1428.04 1447.99,1426.42 1449.28,1424.77 1450.58,1423.09 1451.88,1421.38 1453.2,1419.63 1454.53,1417.86 1455.87,1416.05 1457.22,1414.21 1458.58,1412.34 1459.95,1410.44 1461.33,1408.51 1462.72,1406.55 1464.12,1404.56 1465.54,1402.54 1466.97,1400.49 1468.4,1398.41 1469.85,1396.3 1471.32,1394.17 1472.79,1392.01 1474.28,1389.82 1475.78,1387.61 1477.29,1385.37 1478.81,1383.11 1480.35,1380.82 1481.9,1378.51 1483.47,1376.18 1485.04,1373.83 1486.64,1371.46 1488.24,1369.07 1489.86,1366.67 1491.49,1364.25 1493.14,1361.81 1494.8,1359.36 1496.48,1356.89 1498.17,1354.4 1499.88,1351.9 1501.6,1349.38 1503.34,1346.84 1505.09,1344.29 1506.86,1341.73 1508.65,1339.15 1510.45,1336.55 1512.27,1333.94 1514.1,1331.31 1515.96,1328.67 1517.83,1326.03 1519.72,1323.39 1521.62,1320.75 1523.54,1318.12 1525.49,1315.51 1527.45,1312.91 1529.43,1310.34 1531.43,1307.81 1533.44,1305.31 1535.48,1302.86 1537.54,1300.46 1539.62,1298.1 1541.72,1295.8 1543.84,1293.54 1545.98,1291.34 1548.14,1289.18 1550.33,1287.08 1552.53,1285.03 1554.76,1283.03 1557.02,1281.08 1559.29,1279.18 1561.59,1277.34 1563.91,1275.55 1566.26,1273.81 1568.63,1272.12 1571.03,1270.49 1573.46,1268.91 1575.9,1267.39 1578.38,1265.92 1580.88,1264.5 1583.41,1263.13 1585.97,1261.82 1588.56,1260.56 1591.17,1259.35 1593.81,1258.19 1596.49,1257.08 1599.19,1256.03 1601.92,1255.02 1604.69,1254.06 1607.49,1253.14 1610.31,1252.27 1613.18,1251.44 1616.07,1250.65 1619,1249.91 1621.96,1249.19 1624.96,1248.52 1628,1247.87 1631.07,1247.25 1634.18,1246.65 1637.32,1246.08 1640.51,1245.52 1643.73,1244.97 1647,1244.43 1650.3,1243.9 1653.65,1243.36 1657.03,1242.81 1660.46,1242.25 1663.94,1241.66 1667.46,1241.05 1671.02,1240.4 1674.64,1239.73 1678.3,1239.03 1682,1238.31 1685.76,1237.56 1689.57,1236.8 1693.42,1236.01 1697.33,1235.21 1701.3,1234.4 1705.32,1233.58 1709.39,1232.76 1713.52,1231.93 1717.71,1231.11 1721.96,1230.29 1726.27,1229.49 1730.64,1228.7 1735.07,1227.94 1739.57,1227.21 1744.13,1226.52 1748.76,1225.87 1753.46,1225.27 1758.23,1224.73 1763.07,1224.26 1767.99,1223.87 1772.98,1223.57 1778.05,1223.37 1783.2,1223.37 1788.43,1224.94 1793.74,1230.75 1799.13,1233.21 1804.61,1233.4" fill="none" stroke="#000" stroke-width="17.4" stroke-linejoin="round" stroke-linecap="round" />
<circle cx="1322.3" cy="1513.1" r="8.7" fill="url(#sphK)"/>
<circle cx="1334" cy="1508" r="8.7" fill="url(#sphK)"/>
<circle cx="1347.9" cy="1498.5" r="8.7" fill="url(#sphK)"/>
<circle cx="1352" cy="1490" r="8.7" fill="url(#sphK)"/>
<circle cx="1359.7" cy="1488.4" r="8.7" fill="url(#sphK)"/>
<circle cx="1356" cy="1504" r="8.7" fill="url(#sphK)"/>
<circle cx="1346.9" cy="1531.4" r="8.7" fill="url(#sphK)"/>
<circle cx="1352" cy="1522" r="8.7" fill="url(#sphK)"/>
<circle cx="1364.3" cy="1519.5" r="8.7" fill="url(#sphK)"/>
<circle cx="1358" cy="1534" r="8.7" fill="url(#sphK)"/>
<circle cx="1368" cy="1545.1" r="8.7" fill="url(#sphK)"/>
<circle cx="1360" cy="1512" r="8.7" fill="url(#sphK)"/>
<polyline points="1379.8,1492.12 1380.61,1491.59 1381.43,1491.06 1382.25,1490.51 1383.07,1489.96 1383.9,1489.39 1384.74,1488.81 1385.58,1488.22" fill="none" stroke="#000" stroke-width="17.4" stroke-linejoin="round" stroke-linecap="round" />
<circle cx="1498.17" cy="1354.4" r="8.7" fill="url(#sphK)"/>
<circle cx="1499.88" cy="1351.9" r="8.7" fill="url(#sphK)"/>
<circle cx="1501.6" cy="1349.38" r="8.7" fill="url(#sphK)"/>
<circle cx="1503.34" cy="1346.84" r="8.7" fill="url(#sphK)"/>
<circle cx="1505.09" cy="1344.29" r="8.7" fill="url(#sphK)"/>
<circle cx="1506.86" cy="1341.73" r="8.7" fill="url(#sphK)"/>
<circle cx="1508.65" cy="1339.15" r="8.7" fill="url(#sphK)"/>
<circle cx="1510.45" cy="1336.55" r="8.7" fill="url(#sphK)"/>
<circle cx="1512.27" cy="1333.94" r="8.7" fill="url(#sphK)"/>
<circle cx="1514.1" cy="1331.31" r="8.7" fill="url(#sphK)"/>
<circle cx="1515.96" cy="1328.67" r="8.7" fill="url(#sphK)"/>
<circle cx="1517.83" cy="1326.03" r="8.7" fill="url(#sphK)"/>
<circle cx="1519.72" cy="1323.39" r="8.7" fill="url(#sphK)"/>
<circle cx="1521.62" cy="1320.75" r="8.7" fill="url(#sphK)"/>
<circle cx="1523.54" cy="1318.12" r="8.7" fill="url(#sphK)"/>
<circle cx="1525.49" cy="1315.51" r="8.7" fill="url(#sphK)"/>
<circle cx="1527.45" cy="1312.91" r="8.7" fill="url(#sphK)"/>
<circle cx="1529.43" cy="1310.34" r="8.7" fill="url(#sphK)"/>
<circle cx="1531.43" cy="1307.81" r="8.7" fill="url(#sphK)"/>
<circle cx="1533.44" cy="1305.31" r="8.7" fill="url(#sphK)"/>
<circle cx="1535.48" cy="1302.86" r="8.7" fill="url(#sphK)"/>
<circle cx="1537.54" cy="1300.46" r="8.7" fill="url(#sphK)"/>
<circle cx="1539.62" cy="1298.1" r="8.7" fill="url(#sphK)"/>
<circle cx="1541.72" cy="1295.8" r="8.7" fill="url(#sphK)"/>
<circle cx="1543.84" cy="1293.54" r="8.7" fill="url(#sphK)"/>
<circle cx="1545.98" cy="1291.34" r="8.7" fill="url(#sphK)"/>
<circle cx="1548.14" cy="1289.18" r="8.7" fill="url(#sphK)"/>
<circle cx="1550.33" cy="1287.08" r="8.7" fill="url(#sphK)"/>
<circle cx="1552.53" cy="1285.03" r="8.7" fill="url(#sphK)"/>
<circle cx="1554.76" cy="1283.03" r="8.7" fill="url(#sphK)"/>
<circle cx="1557.02" cy="1281.08" r="8.7" fill="url(#sphK)"/>
<circle cx="1559.29" cy="1279.18" r="8.7" fill="url(#sphK)"/>
<circle cx="1561.59" cy="1277.34" r="8.7" fill="url(#sphK)"/>
<circle cx="1563.91" cy="1275.55" r="8.7" fill="url(#sphK)"/>
<circle cx="1566.26" cy="1273.81" r="8.7" fill="url(#sphK)"/>
<circle cx="1568.63" cy="1272.12" r="8.7" fill="url(#sphK)"/>
<circle cx="1571.03" cy="1270.49" r="8.7" fill="url(#sphK)"/>
<circle cx="1573.46" cy="1268.91" r="8.7" fill="url(#sphK)"/>
<circle cx="1575.9" cy="1267.39" r="8.7" fill="url(#sphK)"/>
<circle cx="1578.38" cy="1265.92" r="8.7" fill="url(#sphK)"/>
<circle cx="1580.88" cy="1264.5" r="8.7" fill="url(#sphK)"/>
<circle cx="1583.41" cy="1263.13" r="8.7" fill="url(#sphK)"/>
<circle cx="1585.97" cy="1261.82" r="8.7" fill="url(#sphK)"/>
<circle cx="1588.56" cy="1260.56" r="8.7" fill="url(#sphK)"/>
<circle cx="1591.17" cy="1259.35" r="8.7" fill="url(#sphK)"/>
<circle cx="1593.81" cy="1258.19" r="8.7" fill="url(#sphK)"/>
<circle cx="1596.49" cy="1257.08" r="8.7" fill="url(#sphK)"/>
<circle cx="1599.19" cy="1256.03" r="8.7" fill="url(#sphK)"/>
<circle cx="1601.92" cy="1255.02" r="8.7" fill="url(#sphK)"/>
<circle cx="1604.69" cy="1254.06" r="8.7" fill="url(#sphK)"/>
<circle cx="1607.49" cy="1253.14" r="8.7" fill="url(#sphK)"/>
<circle cx="1610.31" cy="1252.27" r="8.7" fill="url(#sphK)"/>
<circle cx="1613.18" cy="1251.44" r="8.7" fill="url(#sphK)"/>
<circle cx="1616.07" cy="1250.65" r="8.7" fill="url(#sphK)"/>
<circle cx="1619" cy="1249.91" r="8.7" fill="url(#sphK)"/>
<circle cx="1621.96" cy="1249.19" r="8.7" fill="url(#sphK)"/>
<circle cx="1624.96" cy="1248.52" r="8.7" fill="url(#sphK)"/>
<circle cx="1628" cy="1247.87" r="8.7" fill="url(#sphK)"/>
<circle cx="1631.07" cy="1247.25" r="8.7" fill="url(#sphK)"/>
<circle cx="1634.18" cy="1246.65" r="8.7" fill="url(#sphK)"/>
<circle cx="1637.32" cy="1246.08" r="8.7" fill="url(#sphK)"/>
<circle cx="1640.51" cy="1245.52" r="8.7" fill="url(#sphK)"/>
<circle cx="1643.73" cy="1244.97" r="8.7" fill="url(#sphK)"/>
<circle cx="1647" cy="1244.43" r="8.7" fill="url(#sphK)"/>
<circle cx="1650.3" cy="1243.9" r="8.7" fill="url(#sphK)"/>
<circle cx="1653.65" cy="1243.36" r="8.7" fill="url(#sphK)"/>
<circle cx="1657.03" cy="1242.81" r="8.7" fill="url(#sphK)"/>
<circle cx="1660.46" cy="1242.25" r="8.7" fill="url(#sphK)"/>
<circle cx="1663.94" cy="1241.66" r="8.7" fill="url(#sphK)"/>
<circle cx="1667.46" cy="1241.05" r="8.7" fill="url(#sphK)"/>
<circle cx="1671.02" cy="1240.4" r="8.7" fill="url(#sphK)"/>
<circle cx="1674.64" cy="1239.73" r="8.7" fill="url(#sphK)"/>
<circle cx="1678.3" cy="1239.03" r="8.7" fill="url(#sphK)"/>
<circle cx="1682" cy="1238.31" r="8.7" fill="url(#sphK)"/>
<circle cx="1685.76" cy="1237.56" r="8.7" fill="url(#sphK)"/>
<circle cx="1689.57" cy="1236.8" r="8.7" fill="url(#sphK)"/>
<circle cx="1693.42" cy="1236.01" r="8.7" fill="url(#sphK)"/>
<circle cx="1697.33" cy="1235.21" r="8.7" fill="url(#sphK)"/>
<circle cx="1701.3" cy="1234.4" r="8.7" fill="url(#sphK)"/>
<circle cx="1705.32" cy="1233.58" r="8.7" fill="url(#sphK)"/>
<circle cx="1709.39" cy="1232.76" r="8.7" fill="url(#sphK)"/>
<circle cx="1713.52" cy="1231.93" r="8.7" fill="url(#sphK)"/>
<circle cx="1717.71" cy="1231.11" r="8.7" fill="url(#sphK)"/>
<circle cx="1721.96" cy="1230.29" r="8.7" fill="url(#sphK)"/>
<circle cx="1726.27" cy="1229.49" r="8.7" fill="url(#sphK)"/>
<circle cx="1730.64" cy="1228.7" r="8.7" fill="url(#sphK)"/>
<circle cx="1735.07" cy="1227.94" r="8.7" fill="url(#sphK)"/>
<circle cx="1739.57" cy="1227.21" r="8.7" fill="url(#sphK)"/>
<circle cx="1744.13" cy="1226.52" r="8.7" fill="url(#sphK)"/>
<circle cx="1748.76" cy="1225.87" r="8.7" fill="url(#sphK)"/>
<circle cx="1753.46" cy="1225.27" r="8.7" fill="url(#sphK)"/>
<circle cx="1758.23" cy="1224.73" r="8.7" fill="url(#sphK)"/>
<circle cx="1763.07" cy="1224.26" r="8.7" fill="url(#sphK)"/>
<circle cx="1767.99" cy="1223.87" r="8.7" fill="url(#sphK)"/>
<circle cx="1772.98" cy="1223.57" r="8.7" fill="url(#sphK)"/>
<circle cx="1778.05" cy="1223.37" r="8.7" fill="url(#sphK)"/>
<circle cx="1783.2" cy="1223.37" r="8.7" fill="url(#sphK)"/>
<circle cx="1788.43" cy="1224.94" r="8.7" fill="url(#sphK)"/>
<circle cx="1793.74" cy="1230.75" r="8.7" fill="url(#sphK)"/>
<circle cx="1799.13" cy="1233.21" r="8.7" fill="url(#sphK)"/>
<circle cx="1804.61" cy="1233.4" r="8.7" fill="url(#sphK)"/>
<line x1="1309.7" y1="1617.2" x2="1533.2" y2="1307" stroke="#ff0000" stroke-width="5.5" />
</g>
<rect x="1116.7" y="1060.9" width="690.6" height="556.3" fill="none" stroke="#000" stroke-width="4.6" />
<line x1="1116.7" y1="1619.2" x2="1116.7" y2="1627.7" stroke="#000" stroke-width="4" />
<line x1="1289.35" y1="1619.2" x2="1289.35" y2="1627.7" stroke="#000" stroke-width="4" />
<line x1="1462" y1="1619.2" x2="1462" y2="1627.7" stroke="#000" stroke-width="4" />
<line x1="1634.65" y1="1619.2" x2="1634.65" y2="1627.7" stroke="#000" stroke-width="4" />
<line x1="1807.3" y1="1619.2" x2="1807.3" y2="1627.7" stroke="#000" stroke-width="4" />
<line x1="1203.03" y1="1619.2" x2="1203.03" y2="1623.2" stroke="#000" stroke-width="4" />
<line x1="1375.67" y1="1619.2" x2="1375.67" y2="1623.2" stroke="#000" stroke-width="4" />
<line x1="1548.33" y1="1619.2" x2="1548.33" y2="1623.2" stroke="#000" stroke-width="4" />
<line x1="1720.97" y1="1619.2" x2="1720.97" y2="1623.2" stroke="#000" stroke-width="4" />
<line x1="1114.7" y1="1617.2" x2="1105.7" y2="1617.2" stroke="#000" stroke-width="4" />
<line x1="1114.7" y1="1531.68" x2="1105.7" y2="1531.68" stroke="#000" stroke-width="4" />
<line x1="1114.7" y1="1446.16" x2="1105.7" y2="1446.16" stroke="#000" stroke-width="4" />
<line x1="1114.7" y1="1360.64" x2="1105.7" y2="1360.64" stroke="#000" stroke-width="4" />
<line x1="1114.7" y1="1275.12" x2="1105.7" y2="1275.12" stroke="#000" stroke-width="4" />
<line x1="1114.7" y1="1189.6" x2="1105.7" y2="1189.6" stroke="#000" stroke-width="4" />
<line x1="1114.7" y1="1104.08" x2="1105.7" y2="1104.08" stroke="#000" stroke-width="4" />
<line x1="1114.7" y1="1574.44" x2="1110.7" y2="1574.44" stroke="#000" stroke-width="4" />
<line x1="1114.7" y1="1488.92" x2="1110.7" y2="1488.92" stroke="#000" stroke-width="4" />
<line x1="1114.7" y1="1403.4" x2="1110.7" y2="1403.4" stroke="#000" stroke-width="4" />
<line x1="1114.7" y1="1317.88" x2="1110.7" y2="1317.88" stroke="#000" stroke-width="4" />
<line x1="1114.7" y1="1232.36" x2="1110.7" y2="1232.36" stroke="#000" stroke-width="4" />
<line x1="1114.7" y1="1146.84" x2="1110.7" y2="1146.84" stroke="#000" stroke-width="4" />
<line x1="1114.7" y1="1061.32" x2="1110.7" y2="1061.32" stroke="#000" stroke-width="4" />
<text x="1116.7" y="1664" font-family='"Liberation Sans", Arial, Helvetica, sans-serif' font-size="36.5" font-weight="bold" fill="#000" text-anchor="middle" >0</text>
<text x="1289.35" y="1664" font-family='"Liberation Sans", Arial, Helvetica, sans-serif' font-size="36.5" font-weight="bold" fill="#000" text-anchor="middle" >1</text>
<text x="1462" y="1664" font-family='"Liberation Sans", Arial, Helvetica, sans-serif' font-size="36.5" font-weight="bold" fill="#000" text-anchor="middle" >2</text>
<text x="1634.65" y="1664" font-family='"Liberation Sans", Arial, Helvetica, sans-serif' font-size="36.5" font-weight="bold" fill="#000" text-anchor="middle" >3</text>
<text x="1807.3" y="1664" font-family='"Liberation Sans", Arial, Helvetica, sans-serif' font-size="36.5" font-weight="bold" fill="#000" text-anchor="middle" >4</text>
<text x="1097.6" y="1628.4" font-family='"Liberation Sans", Arial, Helvetica, sans-serif' font-size="36.3" font-weight="bold" fill="#000" text-anchor="end" >0.0</text>
<text x="1097.6" y="1542.88" font-family='"Liberation Sans", Arial, Helvetica, sans-serif' font-size="36.3" font-weight="bold" fill="#000" text-anchor="end" >0.2</text>
<text x="1097.6" y="1457.36" font-family='"Liberation Sans", Arial, Helvetica, sans-serif' font-size="36.3" font-weight="bold" fill="#000" text-anchor="end" >0.4</text>
<text x="1097.6" y="1371.84" font-family='"Liberation Sans", Arial, Helvetica, sans-serif' font-size="36.3" font-weight="bold" fill="#000" text-anchor="end" >0.6</text>
<text x="1097.6" y="1286.32" font-family='"Liberation Sans", Arial, Helvetica, sans-serif' font-size="36.3" font-weight="bold" fill="#000" text-anchor="end" >0.8</text>
<text x="1097.6" y="1200.8" font-family='"Liberation Sans", Arial, Helvetica, sans-serif' font-size="36.3" font-weight="bold" fill="#000" text-anchor="end" >1.0</text>
<text x="1097.6" y="1115.28" font-family='"Liberation Sans", Arial, Helvetica, sans-serif' font-size="36.3" font-weight="bold" fill="#000" text-anchor="end" >1.2</text>
<line x1="1518.5" y1="1114.6" x2="1623.3" y2="1114.6" stroke="#000" stroke-width="7.8" stroke-linecap="round"/>
<circle cx="1570.6" cy="1114.6" r="9.2" fill="url(#sphK)"/>
<text x="1638" y="1130.6" font-family='"Liberation Sans", Arial, Helvetica, sans-serif' font-size="46" font-weight="bold" fill="#000" text-anchor="start" ><tspan dy="0" font-size="46">PtS</tspan><tspan dy="12.42" font-size="30.82">2</tspan></text>
<text x="1399" y="1567" font-family='"Liberation Sans", Arial, Helvetica, sans-serif' font-size="40" font-weight="bold" fill="#000" text-anchor="start" >1.13 eV</text>
<line x1="1391.4" y1="1570.2" x2="1337.55" y2="1602.51" stroke="#000" stroke-width="3" />
<path d="M1320.4 1612.8L1335.92 1595.91L1342.61 1607.05z" fill="#000"/>
<text x="1415.6" y="1709.1" font-family='"Liberation Sans", Arial, Helvetica, sans-serif' font-size="47" font-weight="bold" text-anchor="middle">h<tspan font-weight="normal">ν</tspan> (eV)</text>
<text x="1035.2" y="1333" font-family='"Liberation Sans", Arial, Helvetica, sans-serif' font-size="47" font-weight="bold" fill="#000" text-anchor="middle" transform="rotate(-90 1035.2 1333)"><tspan dy="0" font-size="41.36" font-weight="normal">(</tspan><tspan dy="0" font-size="47" font-weight="normal">α</tspan><tspan dy="0" font-size="47">h</tspan><tspan dy="0" font-size="47" font-weight="normal">ν</tspan><tspan dy="0" font-size="41.36" font-weight="normal">)</tspan><tspan dy="-20.21" font-size="35.25">0.5</tspan><tspan dy="20.21" font-size="41.36" font-weight="normal"> (</tspan><tspan dy="0" font-size="47">cm</tspan><tspan dy="-20.21" font-size="35.25">-1</tspan><tspan dy="20.21" font-size="47"> eV</tspan><tspan dy="0" font-size="41.36" font-weight="normal">)</tspan><tspan dy="-20.21" font-size="35.25">0.5</tspan></text>
<text x="958.3" y="1067.4" font-family='"Liberation Sans", Arial, Helvetica, sans-serif' font-weight="normal" fill="#000"><tspan font-size="57">(</tspan><tspan font-size="53" dx="0">d</tspan><tspan font-size="57" dx="0">)</tspan></text>
</g>
<g id="panel-e">
<clipPath id="clipE"><rect x="175.65" y="1843.0" width="690.2" height="567.9000000000001"/></clipPath>
<g clip-path="url(#clipE)">
<polyline points="654.64,1677.7 645.14,1802.33 635.78,1903.82 626.58,1986.71 617.52,2054.63 608.61,2110.45 599.84,2156.46 591.2,2194.51 582.69,2226.05 574.32,2252.28 566.07,2274.15 557.94,2292.44 549.94,2307.76 542.05,2320.64 534.28,2331.5 526.63,2340.67 519.08,2348.43 511.65,2355.02 504.32,2360.63 497.09,2365.42 489.97,2369.51 482.94,2373.02 476.01,2376.03 469.18,2378.62 462.45,2380.86 455.8,2382.8 449.24,2384.48 442.77,2385.94 436.39,2387.21 430.09,2388.33 423.88,2389.3 417.75,2390.15 411.69,2390.9 405.72,2391.56 399.82,2392.15 393.99,2392.66 388.24,2393.12 382.57,2393.53 376.96,2393.9 371.42,2394.23 365.95,2394.52 360.55,2394.78 355.21,2395.02 349.94,2395.24 344.74,2395.43 339.59,2395.61 334.51,2395.77 329.48,2395.92 324.52,2396.06 319.61,2396.19 314.76,2396.3 309.97,2396.41 305.23,2396.51 300.54,2396.6 295.91,2396.69 291.33,2396.77 286.81,2396.85 282.33,2396.92 277.9,2396.98 273.52,2397.05 269.19,2397.11 264.91,2397.17 260.67,2397.22 256.48,2397.27 252.34,2397.33 248.24,2397.37 244.18,2397.42 240.17,2397.46 236.19,2397.51 232.26,2397.55 228.37,2397.59 224.52,2397.63 220.71,2397.67 216.94,2397.7 213.21,2397.74 209.52,2397.77 205.86,2397.81 202.24,2397.84 198.66,2397.87 195.11,2397.91 191.6,2397.94 188.12,2397.97 184.67,2398 181.26,2398.03 177.88,2398.06 174.54,2398.08" fill="none" stroke="#0000ff" stroke-width="3.6" stroke-linejoin="round" stroke-linecap="round" />
<circle cx="174.54" cy="2398.08" r="8.8" fill="url(#sphB)"/>
<circle cx="177.88" cy="2398.06" r="8.8" fill="url(#sphB)"/>
<circle cx="181.26" cy="2398.03" r="8.8" fill="url(#sphB)"/>
<circle cx="184.67" cy="2398" r="8.8" fill="url(#sphB)"/>
<circle cx="188.12" cy="2397.97" r="8.8" fill="url(#sphB)"/>
<circle cx="191.6" cy="2397.94" r="8.8" fill="url(#sphB)"/>
<circle cx="195.11" cy="2397.91" r="8.8" fill="url(#sphB)"/>
<circle cx="198.66" cy="2397.87" r="8.8" fill="url(#sphB)"/>
<circle cx="202.24" cy="2397.84" r="8.8" fill="url(#sphB)"/>
<circle cx="205.86" cy="2397.81" r="8.8" fill="url(#sphB)"/>
<circle cx="209.52" cy="2397.77" r="8.8" fill="url(#sphB)"/>
<circle cx="213.21" cy="2397.74" r="8.8" fill="url(#sphB)"/>
<circle cx="216.94" cy="2397.7" r="8.8" fill="url(#sphB)"/>
<circle cx="220.71" cy="2397.67" r="8.8" fill="url(#sphB)"/>
<circle cx="224.52" cy="2397.63" r="8.8" fill="url(#sphB)"/>
<circle cx="228.37" cy="2397.59" r="8.8" fill="url(#sphB)"/>
<circle cx="232.26" cy="2397.55" r="8.8" fill="url(#sphB)"/>
<circle cx="236.19" cy="2397.51" r="8.8" fill="url(#sphB)"/>
<circle cx="240.17" cy="2397.46" r="8.8" fill="url(#sphB)"/>
<circle cx="244.18" cy="2397.42" r="8.8" fill="url(#sphB)"/>
<circle cx="248.24" cy="2397.37" r="8.8" fill="url(#sphB)"/>
<circle cx="252.34" cy="2397.33" r="8.8" fill="url(#sphB)"/>
<circle cx="256.48" cy="2397.27" r="8.8" fill="url(#sphB)"/>
<circle cx="260.67" cy="2397.22" r="8.8" fill="url(#sphB)"/>
<circle cx="264.91" cy="2397.17" r="8.8" fill="url(#sphB)"/>
<circle cx="269.19" cy="2397.11" r="8.8" fill="url(#sphB)"/>
<circle cx="273.52" cy="2397.05" r="8.8" fill="url(#sphB)"/>
<circle cx="277.9" cy="2396.98" r="8.8" fill="url(#sphB)"/>
<circle cx="282.33" cy="2396.92" r="8.8" fill="url(#sphB)"/>
<circle cx="286.81" cy="2396.85" r="8.8" fill="url(#sphB)"/>
<circle cx="291.33" cy="2396.77" r="8.8" fill="url(#sphB)"/>
<circle cx="295.91" cy="2396.69" r="8.8" fill="url(#sphB)"/>
<circle cx="300.54" cy="2396.6" r="8.8" fill="url(#sphB)"/>
<circle cx="305.23" cy="2396.51" r="8.8" fill="url(#sphB)"/>
<circle cx="309.97" cy="2396.41" r="8.8" fill="url(#sphB)"/>
<circle cx="314.76" cy="2396.3" r="8.8" fill="url(#sphB)"/>
<circle cx="319.61" cy="2396.19" r="8.8" fill="url(#sphB)"/>
<circle cx="324.52" cy="2396.06" r="8.8" fill="url(#sphB)"/>
<circle cx="329.48" cy="2395.92" r="8.8" fill="url(#sphB)"/>
<circle cx="334.51" cy="2395.77" r="8.8" fill="url(#sphB)"/>
<circle cx="339.59" cy="2395.61" r="8.8" fill="url(#sphB)"/>
<circle cx="344.74" cy="2395.43" r="8.8" fill="url(#sphB)"/>
<circle cx="349.94" cy="2395.24" r="8.8" fill="url(#sphB)"/>
<circle cx="355.21" cy="2395.02" r="8.8" fill="url(#sphB)"/>
<circle cx="360.55" cy="2394.78" r="8.8" fill="url(#sphB)"/>
<circle cx="365.95" cy="2394.52" r="8.8" fill="url(#sphB)"/>
<circle cx="371.42" cy="2394.23" r="8.8" fill="url(#sphB)"/>
<circle cx="376.96" cy="2393.9" r="8.8" fill="url(#sphB)"/>
<circle cx="382.57" cy="2393.53" r="8.8" fill="url(#sphB)"/>
<circle cx="388.24" cy="2393.12" r="8.8" fill="url(#sphB)"/>
<circle cx="393.99" cy="2392.66" r="8.8" fill="url(#sphB)"/>
<circle cx="399.82" cy="2392.15" r="8.8" fill="url(#sphB)"/>
<circle cx="405.72" cy="2391.56" r="8.8" fill="url(#sphB)"/>
<circle cx="411.69" cy="2390.9" r="8.8" fill="url(#sphB)"/>
<circle cx="417.75" cy="2390.15" r="8.8" fill="url(#sphB)"/>
<circle cx="423.88" cy="2389.3" r="8.8" fill="url(#sphB)"/>
<circle cx="430.09" cy="2388.33" r="8.8" fill="url(#sphB)"/>
<circle cx="436.39" cy="2387.21" r="8.8" fill="url(#sphB)"/>
<circle cx="442.77" cy="2385.94" r="8.8" fill="url(#sphB)"/>
<circle cx="449.24" cy="2384.48" r="8.8" fill="url(#sphB)"/>
<circle cx="455.8" cy="2382.8" r="8.8" fill="url(#sphB)"/>
<circle cx="462.45" cy="2380.86" r="8.8" fill="url(#sphB)"/>
<circle cx="469.18" cy="2378.62" r="8.8" fill="url(#sphB)"/>
<circle cx="476.01" cy="2376.03" r="8.8" fill="url(#sphB)"/>
<circle cx="482.94" cy="2373.02" r="8.8" fill="url(#sphB)"/>
<circle cx="489.97" cy="2369.51" r="8.8" fill="url(#sphB)"/>
<circle cx="497.09" cy="2365.42" r="8.8" fill="url(#sphB)"/>
<circle cx="504.32" cy="2360.63" r="8.8" fill="url(#sphB)"/>
<circle cx="511.65" cy="2355.02" r="8.8" fill="url(#sphB)"/>
<circle cx="519.08" cy="2348.43" r="8.8" fill="url(#sphB)"/>
<circle cx="526.63" cy="2340.67" r="8.8" fill="url(#sphB)"/>
<circle cx="534.28" cy="2331.5" r="8.8" fill="url(#sphB)"/>
<circle cx="542.05" cy="2320.64" r="8.8" fill="url(#sphB)"/>
<circle cx="549.94" cy="2307.76" r="8.8" fill="url(#sphB)"/>
<circle cx="557.94" cy="2292.44" r="8.8" fill="url(#sphB)"/>
<circle cx="566.07" cy="2274.15" r="8.8" fill="url(#sphB)"/>
<circle cx="574.32" cy="2252.28" r="8.8" fill="url(#sphB)"/>
<circle cx="582.69" cy="2226.05" r="8.8" fill="url(#sphB)"/>
<circle cx="591.2" cy="2194.51" r="8.8" fill="url(#sphB)"/>
<circle cx="599.84" cy="2156.46" r="8.8" fill="url(#sphB)"/>
<circle cx="608.61" cy="2110.45" r="8.8" fill="url(#sphB)"/>
<circle cx="617.52" cy="2054.63" r="8.8" fill="url(#sphB)"/>
<circle cx="626.58" cy="1986.71" r="8.8" fill="url(#sphB)"/>
<circle cx="635.78" cy="1903.82" r="8.8" fill="url(#sphB)"/>
<line x1="567.8" y1="2399.7" x2="636.2" y2="1925.7" stroke="#ff0000" stroke-width="6.5" />
</g>
<rect x="175.65" y="1843" width="690.2" height="555.9" fill="none" stroke="#000" stroke-width="4.6" />
<line x1="175.65" y1="2400.9" x2="175.65" y2="2409.4" stroke="#000" stroke-width="4" />
<line x1="290.68" y1="2400.9" x2="290.68" y2="2409.4" stroke="#000" stroke-width="4" />
<line x1="405.72" y1="2400.9" x2="405.72" y2="2409.4" stroke="#000" stroke-width="4" />
<line x1="520.75" y1="2400.9" x2="520.75" y2="2409.4" stroke="#000" stroke-width="4" />
<line x1="635.78" y1="2400.9" x2="635.78" y2="2409.4" stroke="#000" stroke-width="4" />
<line x1="750.82" y1="2400.9" x2="750.82" y2="2409.4" stroke="#000" stroke-width="4" />
<line x1="865.85" y1="2400.9" x2="865.85" y2="2409.4" stroke="#000" stroke-width="4" />
<line x1="233.17" y1="2400.9" x2="233.17" y2="2404.9" stroke="#000" stroke-width="4" />
<line x1="348.2" y1="2400.9" x2="348.2" y2="2404.9" stroke="#000" stroke-width="4" />
<line x1="463.23" y1="2400.9" x2="463.23" y2="2404.9" stroke="#000" stroke-width="4" />
<line x1="578.27" y1="2400.9" x2="578.27" y2="2404.9" stroke="#000" stroke-width="4" />
<line x1="693.3" y1="2400.9" x2="693.3" y2="2404.9" stroke="#000" stroke-width="4" />
<line x1="808.33" y1="2400.9" x2="808.33" y2="2404.9" stroke="#000" stroke-width="4" />
<line x1="173.65" y1="2398.9" x2="164.65" y2="2398.9" stroke="#000" stroke-width="4" />
<line x1="173.65" y1="2287.72" x2="164.65" y2="2287.72" stroke="#000" stroke-width="4" />
<line x1="173.65" y1="2176.54" x2="164.65" y2="2176.54" stroke="#000" stroke-width="4" />
<line x1="173.65" y1="2065.36" x2="164.65" y2="2065.36" stroke="#000" stroke-width="4" />
<line x1="173.65" y1="1954.18" x2="164.65" y2="1954.18" stroke="#000" stroke-width="4" />
<line x1="173.65" y1="1843" x2="164.65" y2="1843" stroke="#000" stroke-width="4" />
<line x1="173.65" y1="2343.31" x2="169.65" y2="2343.31" stroke="#000" stroke-width="4" />
<line x1="173.65" y1="2232.13" x2="169.65" y2="2232.13" stroke="#000" stroke-width="4" />
<line x1="173.65" y1="2120.95" x2="169.65" y2="2120.95" stroke="#000" stroke-width="4" />
<line x1="173.65" y1="2009.77" x2="169.65" y2="2009.77" stroke="#000" stroke-width="4" />
<line x1="173.65" y1="1898.59" x2="169.65" y2="1898.59" stroke="#000" stroke-width="4" />
<text x="175.65" y="2446.7" font-family='"Liberation Sans", Arial, Helvetica, sans-serif' font-size="36.5" font-weight="bold" fill="#000" text-anchor="middle" >3.0</text>
<text x="290.68" y="2446.7" font-family='"Liberation Sans", Arial, Helvetica, sans-serif' font-size="36.5" font-weight="bold" fill="#000" text-anchor="middle" >3.5</text>
<text x="405.72" y="2446.7" font-family='"Liberation Sans", Arial, Helvetica, sans-serif' font-size="36.5" font-weight="bold" fill="#000" text-anchor="middle" >4.0</text>
<text x="520.75" y="2446.7" font-family='"Liberation Sans", Arial, Helvetica, sans-serif' font-size="36.5" font-weight="bold" fill="#000" text-anchor="middle" >4.5</text>
<text x="635.78" y="2446.7" font-family='"Liberation Sans", Arial, Helvetica, sans-serif' font-size="36.5" font-weight="bold" fill="#000" text-anchor="middle" >5.0</text>
<text x="750.82" y="2446.7" font-family='"Liberation Sans", Arial, Helvetica, sans-serif' font-size="36.5" font-weight="bold" fill="#000" text-anchor="middle" >5.5</text>
<text x="865.85" y="2446.7" font-family='"Liberation Sans", Arial, Helvetica, sans-serif' font-size="36.5" font-weight="bold" fill="#000" text-anchor="middle" >6.0</text>
<text x="157.8" y="2409.5" font-family='"Liberation Sans", Arial, Helvetica, sans-serif' font-size="36.5" font-weight="bold" fill="#000" text-anchor="end" >0</text>
<text x="157.8" y="2298.32" font-family='"Liberation Sans", Arial, Helvetica, sans-serif' font-size="36.5" font-weight="bold" fill="#000" text-anchor="end" >20</text>
<text x="157.8" y="2187.14" font-family='"Liberation Sans", Arial, Helvetica, sans-serif' font-size="36.5" font-weight="bold" fill="#000" text-anchor="end" >40</text>
<text x="157.8" y="2075.96" font-family='"Liberation Sans", Arial, Helvetica, sans-serif' font-size="36.5" font-weight="bold" fill="#000" text-anchor="end" >60</text>
<text x="157.8" y="1964.78" font-family='"Liberation Sans", Arial, Helvetica, sans-serif' font-size="36.5" font-weight="bold" fill="#000" text-anchor="end" >80</text>
<text x="157.8" y="1853.6" font-family='"Liberation Sans", Arial, Helvetica, sans-serif' font-size="36.5" font-weight="bold" fill="#000" text-anchor="end" >100</text>
<line x1="220.2" y1="1886.2" x2="326.3" y2="1886.2" stroke="#0000ff" stroke-width="5.2" stroke-linecap="round"/>
<circle cx="273.4" cy="1886.2" r="9.2" fill="url(#sphB)"/>
<text x="340" y="1902" font-family='"Liberation Sans", Arial, Helvetica, sans-serif' font-size="46" font-weight="bold" fill="#000" text-anchor="start" ><tspan dy="0" font-size="46">Ga</tspan><tspan dy="12.42" dx="1.9" font-size="30.82">2</tspan><tspan dy="-12.42" dx="0.9" font-size="46">O</tspan><tspan dy="12.42" dx="1.9" font-size="30.82">3</tspan></text>
<text x="612" y="2337.2" font-family='"Liberation Sans", Arial, Helvetica, sans-serif' font-size="35.7" font-weight="bold" fill="#000" text-anchor="start" >4.7 eV</text>
<line x1="617.2" y1="2352.3" x2="589.32" y2="2379.36" stroke="#000" stroke-width="3" />
<path d="M576.4 2391.9L586.05 2373.13L595.45 2382.81z" fill="#000"/>
<text x="520.7" y="2500.3" font-family='"Liberation Sans", Arial, Helvetica, sans-serif' font-size="47" font-weight="bold" fill="#000" text-anchor="middle" >Energy (eV)</text>
<text x="87.2" y="2114.5" font-family='"Liberation Sans", Arial, Helvetica, sans-serif' font-size="47.5" font-weight="bold" fill="#000" text-anchor="middle" transform="rotate(-90 87.2 2114.5)"><tspan dy="0" font-size="41.8" font-weight="normal">(</tspan><tspan dy="0" font-size="47.5" font-weight="normal">α</tspan><tspan dy="0" font-size="47.5">h</tspan><tspan dy="0" font-size="47.5" font-weight="normal">ν</tspan><tspan dy="0" font-size="41.8" font-weight="normal">)</tspan><tspan dy="-20.43" font-size="35.62">2</tspan><tspan dy="20.43" font-size="41.8" font-weight="normal"> (</tspan><tspan dy="0" font-size="47.5">cm</tspan><tspan dy="-20.43" font-size="35.62">-1</tspan><tspan dy="20.43" font-size="47.5"> eV</tspan><tspan dy="0" font-size="41.8" font-weight="normal">)</tspan><tspan dy="-20.43" font-size="35.62">2</tspan></text>
<text x="-4" y="1832.4" font-family='"Liberation Sans", Arial, Helvetica, sans-serif' font-weight="normal" fill="#000"><tspan font-size="68.97">(</tspan><tspan font-size="64.13" dx="0">e</tspan><tspan font-size="68.97" dx="0">)</tspan></text>
</g>
<g id="panel-f">
<defs><pattern id="pinkdots" width="3" height="3" patternUnits="userSpaceOnUse"><rect width="3" height="3" fill="#fde6e6"/><rect width="1.5" height="1.5" fill="#f5c6c6"/><rect x="1.5" y="1.5" width="1.5" height="1.5" fill="#f5c6c6"/></pattern></defs>
<rect x="1343.5" y="1982" width="446.9" height="388" fill="#cfe2f5" stroke="none" stroke-width="0" />
<rect x="1342.1" y="1976.5" width="446.7" height="12.2" fill="#4472c4" stroke="none" stroke-width="0" />
<rect x="1342.8" y="2363.9" width="446" height="12" fill="#4472c4" stroke="none" stroke-width="0" />
<rect x="1009.1" y="2030" width="333" height="112" fill="url(#pinkdots)" stroke="none" stroke-width="0" />
<rect x="1009.1" y="2024.5" width="333" height="12.4" fill="#ff0000" stroke="none" stroke-width="0" />
<rect x="1009.1" y="2136.1" width="333" height="12.6" fill="#ff0000" stroke="none" stroke-width="0" />
<text x="1137" y="1916.7" font-family='"Liberation Serif", "Times New Roman", serif' font-size="65" font-weight="bold" fill="#000" text-anchor="start" ><tspan dy="0" font-size="65">PtS</tspan><tspan dy="16.25" font-size="42.25">2-x</tspan></text>
<text x="1500" y="1952.4" font-family='"Liberation Serif", "Times New Roman", serif' font-size="65" font-weight="bold" fill="#000" text-anchor="start" ><tspan dy="0" font-size="65">Ga</tspan><tspan dy="16.25" font-size="42.25">2</tspan><tspan dy="-16.25" font-size="65">O</tspan><tspan dy="16.25" font-size="42.25">3</tspan></text>
<text x="989.5" y="2014.6" font-family='"Liberation Serif", "Times New Roman", serif' font-size="55" font-weight="bold" fill="#000" text-anchor="start" >CBO=0.32 eV</text>
<text x="1023.5" y="2096.4" font-family='"Liberation Serif", "Times New Roman", serif' font-size="49.5" font-weight="bold" fill="#000" text-anchor="start" ><tspan dy="0" font-size="49.5">E</tspan><tspan dy="12.38" font-size="32.18">g</tspan><tspan dy="-12.38" font-size="49.5">=1.13 eV</tspan></text>
<text x="995.5" y="2279.3" font-family='"Liberation Serif", "Times New Roman", serif' font-size="55" font-weight="bold" fill="#000" text-anchor="start" >VBO=3.25 eV</text>
<text x="1392.5" y="2198.3" font-family='"Liberation Serif", "Times New Roman", serif' font-size="49" font-weight="bold" fill="#000" text-anchor="start" ><tspan dy="0" font-size="49">E</tspan><tspan dy="12.25" font-size="31.85">g</tspan><tspan dy="-12.25" font-size="49">= 4.7 eV</tspan></text>
<line x1="1329.5" y1="1993.1" x2="1329.5" y2="2006.7" stroke="#000" stroke-width="4" />
<path d="M1329.5 1977.1L1320 1994.1L1339 1994.1z" fill="#000"/>
<path d="M1329.5 2022.7L1320 2005.7L1339 2005.7z" fill="#000"/>
<line x1="1305.4" y1="2056.4" x2="1305.4" y2="2123.5" stroke="#000" stroke-width="2.8" />
<path d="M1305.4 2037.4L1297.4 2057.4L1313.4 2057.4z" fill="#000"/>
<path d="M1305.4 2142.5L1297.4 2122.5L1313.4 2122.5z" fill="#000"/>
<line x1="1637.4" y1="2009" x2="1637.4" y2="2344.9" stroke="#000" stroke-width="2.8" />
<path d="M1637.4 1990L1629.4 2010L1645.4 2010z" fill="#000"/>
<path d="M1637.4 2363.9L1629.4 2343.9L1645.4 2343.9z" fill="#000"/>
<line x1="1342.8" y1="2168.7" x2="1342.8" y2="2345.5" stroke="#000" stroke-width="6" stroke-dasharray="26 8"/>
<path d="M1342.8 2148.7L1331.05 2169.7L1354.55 2169.7z" fill="#000"/>
<path d="M1342.8 2365.5L1331.05 2344.5L1354.55 2344.5z" fill="#000"/>
<text x="987" y="1851.7" font-family='"Liberation Sans", Arial, Helvetica, sans-serif' font-weight="normal" fill="#000"><tspan font-size="68.97">(</tspan><tspan font-size="64.13" dx="3.39">f</tspan><tspan font-size="68.97" dx="3.39">)</tspan></text>
</g>
</svg>
</body></html>
